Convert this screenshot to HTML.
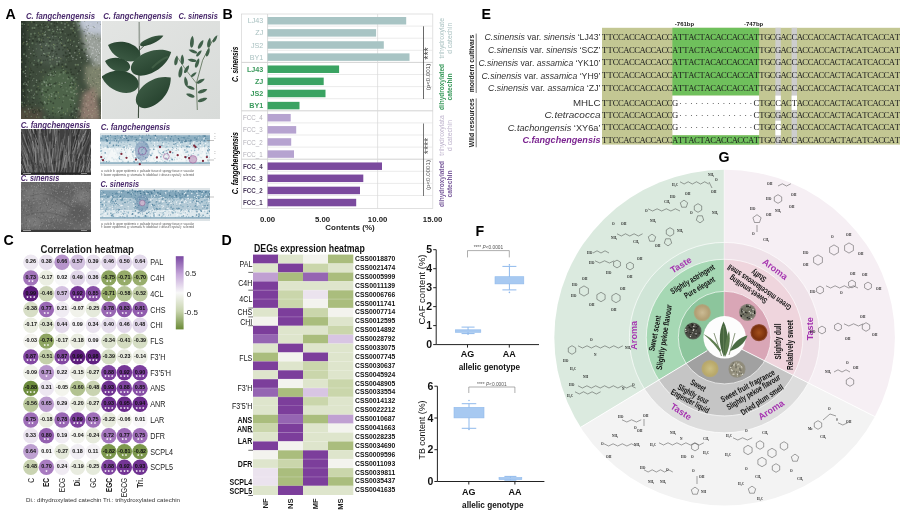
<!DOCTYPE html>
<html><head><meta charset="utf-8"><title>Figure</title>
<style>
html,body{margin:0;padding:0;background:#fff;}
#fig{position:relative;width:900px;height:511px;overflow:hidden;background:#fff;font-family:"Liberation Sans", "DejaVu Sans", sans-serif;}
#fig svg{display:block;}
</style></head><body>
<div id="fig">
<svg style="position:absolute;left:20.5px;top:21px" width="80.5" height="98" viewBox="0 0 80.5 98">
<defs><filter id="tb" x="-20%" y="-20%" width="140%" height="140%"><feGaussianBlur stdDeviation="2.5"/></filter></defs>
<rect width="80.5" height="98" fill="#3e4b3c"/>
<g filter="url(#tb)">
<rect x="-5" y="-5" width="10" height="110" fill="#2c3429"/>
<ellipse cx="38" cy="72" rx="19" ry="24" fill="#4d6449"/>
<ellipse cx="30" cy="30" rx="16" ry="15" fill="#48574a"/>
<polygon points="55,-5 90,-5 90,15 72,17 60,9" fill="#bfc6d3"/>
<polygon points="60,12 90,14 90,44 74,46 64,30" fill="#9aa09a"/>
<polygon points="64,44 90,44 90,78 74,76 64,60" fill="#7c826c"/>
<polygon points="62,72 74,66 80,100 58,100" fill="#8e7a6e"/>
<rect x="-5" y="88" width="26" height="16" fill="#4f4c3e"/>
</g>
<path d="M26.1 14.8h0M33.7 23.6h0M4.0 21.7h0M33.4 35.2h0M45.6 52.6h0M59.6 46.9h0M61.0 29.2h0M51.2 60.1h0M38.6 64.0h0M41.6 81.1h0M12.1 13.9h0M63.1 10.4h0M26.2 95.4h0M41.7 29.0h0M7.1 25.5h0M50.0 4.2h0M40.5 19.7h0M31.7 29.4h0M42.2 49.4h0M0.3 78.2h0M52.4 67.9h0M21.6 20.6h0M41.0 86.9h0M5.2 38.2h0M22.6 5.1h0M20.1 26.0h0M53.8 11.7h0M10.1 49.3h0M34.8 30.6h0M37.7 44.0h0M8.8 61.1h0M48.0 40.7h0M31.7 88.0h0M14.9 91.7h0M15.5 35.7h0M29.2 32.8h0M23.9 70.7h0M26.3 38.8h0M3.0 0.4h0M36.2 25.5h0M8.5 58.4h0M3.1 71.8h0M53.5 15.1h0M11.7 27.8h0M8.8 48.1h0M25.3 59.5h0M45.5 4.1h0M3.3 55.1h0M6.6 71.9h0M2.1 6.5h0M12.8 1.4h0M1.0 54.0h0M13.7 88.7h0M47.5 35.6h0M2.8 83.1h0M8.0 9.6h0M42.1 28.3h0M42.8 73.9h0M21.5 74.0h0M35.0 19.2h0M19.5 39.2h0M50.0 40.1h0M20.2 21.4h0M41.8 9.9h0M42.0 40.2h0M24.4 39.2h0M37.7 28.8h0M11.3 81.5h0M14.9 44.3h0M19.8 16.1h0M41.1 47.5h0M49.6 61.4h0M33.9 9.9h0M1.6 55.5h0M1.1 37.9h0M0.8 65.6h0M37.8 16.3h0M12.2 81.6h0M30.3 67.1h0M21.6 15.4h0M23.2 13.8h0M16.1 73.5h0M48.1 33.8h0M34.3 92.8h0M20.6 34.5h0M4.5 14.2h0M54.5 29.3h0M30.0 73.4h0M15.0 42.7h0M22.3 17.7h0M14.1 13.4h0M7.3 40.1h0M32.7 13.4h0M11.9 56.1h0M55.9 58.5h0M41.6 93.9h0M1.0 34.6h0M41.9 97.0h0M49.6 83.3h0M38.3 76.9h0M30.6 29.4h0M16.4 41.8h0M28.4 97.4h0M11.6 19.5h0M37.6 42.2h0M22.5 2.5h0M44.7 45.8h0M10.1 73.6h0M22.7 39.5h0M44.5 61.7h0M53.9 56.4h0M3.5 83.7h0M33.6 72.9h0M14.0 16.0h0M28.0 9.1h0M11.0 69.3h0M56.8 0.6h0M26.9 79.9h0M52.6 7.7h0M15.0 62.5h0M34.5 52.4h0M42.7 62.1h0M17.8 82.1h0M44.6 22.2h0M10.8 49.3h0M3.8 4.1h0M59.3 92.9h0M1.7 10.8h0M40.4 85.6h0M36.1 22.5h0M63.8 23.3h0M32.6 38.8h0M27.4 90.3h0M59.1 94.4h0M5.9 80.0h0M0.4 26.5h0M1.5 20.6h0M32.3 96.0h0M20.9 59.4h0M38.4 91.5h0M35.0 13.7h0M64.8 14.9h0M7.9 16.5h0M18.9 77.6h0M10.9 58.3h0M58.6 4.7h0M18.0 7.1h0M44.2 30.9h0M47.5 55.9h0M54.8 36.0h0M1.4 19.7h0M5.1 19.9h0M32.0 13.3h0M16.1 90.1h0M4.6 42.5h0M14.5 90.4h0M23.4 64.2h0M54.7 11.2h0M52.9 20.6h0M22.5 29.7h0M16.2 46.1h0M46.6 29.4h0" stroke="#222b20" stroke-width="1.3" stroke-linecap="round" opacity="0.5"/>
<path d="M66.1 9.2h0M75.7 34.8h0M64.9 14.3h0M76.7 13.0h0M67.5 11.8h0M63.6 0.1h0M67.6 23.8h0M78.1 30.5h0M74.7 17.9h0M74.9 36.5h0M72.1 16.5h0M77.8 44.4h0M66.0 24.9h0M63.5 38.4h0M73.1 42.1h0M79.7 18.0h0M70.1 44.9h0M73.2 6.3h0M67.4 4.6h0M67.0 7.6h0M67.2 11.7h0M72.1 5.6h0M76.3 1.8h0M67.2 34.7h0M68.4 27.4h0M80.5 39.3h0M71.2 13.9h0M77.0 17.3h0M65.3 5.9h0M78.0 19.9h0M79.9 3.3h0M64.1 8.5h0M73.4 14.8h0M68.4 12.7h0M77.9 33.7h0" stroke="#5a6452" stroke-width="1.2" stroke-linecap="round" opacity="0.55"/>
<path d="M73.2 21.0h0M66.6 12.1h0M64.1 6.7h0M76.9 35.7h0M67.2 11.8h0M76.7 39.0h0M72.1 26.4h0M78.0 25.7h0M77.7 30.3h0M75.4 1.7h0M80.2 27.3h0M74.2 5.3h0M65.9 40.1h0M72.9 44.7h0M72.1 12.9h0M65.5 17.1h0M70.9 32.2h0M71.2 22.9h0M72.0 32.1h0M69.4 35.9h0M70.3 33.8h0M69.4 18.1h0M79.8 21.7h0M74.5 37.7h0M71.6 43.0h0M78.1 42.3h0M70.2 26.1h0M66.9 36.0h0M78.0 7.0h0M76.5 28.2h0M71.8 29.8h0M65.9 3.0h0M73.8 39.0h0M76.5 23.8h0M66.5 34.4h0M75.4 17.3h0M75.3 34.4h0M66.9 11.2h0M71.7 6.1h0M66.8 38.4h0M66.5 12.0h0M65.7 34.6h0M75.5 30.8h0M69.9 6.6h0M72.4 27.0h0M69.9 2.7h0M66.2 27.7h0M70.7 11.8h0M74.5 28.8h0M68.3 21.1h0M66.3 19.6h0M67.9 13.7h0M69.0 25.2h0M78.4 32.1h0" stroke="#e2e5e8" stroke-width="1.1" stroke-linecap="round" opacity="0.65"/>
<path d="M50.5 92.9h0M49.8 48.6h0M46.2 51.5h0M13.3 33.5h0M3.2 65.5h0M52.1 97.3h0M32.2 18.7h0M9.3 47.8h0M28.6 21.8h0M57.3 19.5h0M63.5 32.6h0M44.8 31.9h0M45.2 74.5h0M55.8 44.3h0M40.9 24.3h0M12.0 90.1h0M7.2 5.6h0M27.3 54.2h0M16.6 43.7h0M1.5 49.6h0M19.8 43.8h0M52.8 53.5h0M1.1 61.3h0M13.1 8.3h0M47.1 51.9h0M53.1 6.5h0M60.9 22.6h0M6.0 8.8h0M57.9 4.8h0M49.5 13.6h0M17.7 88.8h0M10.2 41.7h0M12.4 51.2h0M18.7 90.2h0M4.5 19.0h0M29.8 48.3h0M18.6 21.7h0M25.1 71.1h0M50.8 24.3h0M20.7 73.2h0M32.0 26.6h0M33.6 5.0h0M33.3 1.8h0M13.1 1.5h0M37.5 43.8h0M14.7 15.8h0M9.3 52.0h0M46.5 35.3h0M18.5 60.3h0M24.5 51.3h0M47.9 56.7h0M33.3 50.8h0M24.2 4.8h0M57.6 0.6h0M57.3 26.1h0M55.2 89.9h0M35.2 71.0h0M20.7 27.7h0M38.3 28.2h0M22.8 21.0h0M13.3 92.0h0M58.2 95.5h0M57.7 50.2h0M28.4 62.6h0M18.6 69.0h0M54.6 47.2h0M34.5 62.5h0M53.8 87.6h0M15.9 67.9h0M12.9 31.4h0M49.0 64.5h0M29.7 80.6h0M40.1 51.2h0M61.1 28.7h0M31.3 30.6h0M49.0 31.0h0M29.2 63.2h0M4.9 95.4h0M22.0 83.4h0M27.9 8.3h0M31.0 53.0h0M62.2 22.8h0M64.9 28.4h0M7.6 20.1h0M47.2 20.9h0M32.0 11.8h0M50.8 77.2h0M41.1 43.4h0M28.0 27.6h0M19.7 81.3h0M21.0 82.1h0M31.8 92.2h0M32.3 82.2h0M52.1 11.8h0M6.8 57.8h0M46.5 26.9h0M52.4 19.7h0M15.2 53.5h0M48.8 34.1h0M40.1 94.3h0M8.9 83.5h0M52.2 0.7h0M26.1 82.7h0M2.1 25.1h0M35.4 61.2h0M41.3 10.8h0M28.9 18.3h0M27.0 63.8h0M12.8 34.6h0M43.7 26.5h0M22.6 8.8h0M35.6 33.3h0M39.4 18.6h0M54.5 15.2h0M13.0 43.6h0M6.8 70.3h0M51.9 61.5h0M19.3 4.0h0M30.5 0.4h0M45.7 45.9h0M49.0 29.1h0M50.4 94.1h0M50.0 85.5h0M12.1 91.2h0M35.7 2.4h0M6.0 60.8h0M54.8 29.8h0M26.9 69.0h0M40.6 87.6h0M12.1 20.1h0M47.2 14.1h0M52.1 63.9h0M45.0 35.4h0M42.5 34.4h0M18.6 19.9h0M17.1 5.1h0M33.3 62.9h0M51.0 53.5h0M40.3 96.9h0M32.7 54.7h0M28.6 6.3h0M25.9 35.5h0M29.4 65.0h0M50.1 51.3h0M47.5 30.0h0M34.1 77.6h0M3.4 73.8h0M60.9 37.2h0M8.7 55.2h0M33.4 46.4h0M41.7 0.6h0M4.1 29.8h0M16.1 20.5h0M11.0 86.2h0M40.1 66.0h0M12.2 78.3h0M23.4 34.1h0" stroke="#222b20" stroke-width="2.0" stroke-linecap="round" opacity="0.5"/>
<path d="M23.3 14.1h0M23.2 96.1h0M21.7 68.3h0M1.0 81.4h0M49.7 66.3h0M38.9 8.4h0M13.7 12.4h0M20.3 28.7h0M20.9 41.1h0M42.8 51.3h0M15.4 4.1h0M5.8 23.6h0M44.6 43.2h0M12.7 43.7h0M22.9 60.6h0M51.7 7.6h0M57.4 88.4h0M3.9 90.8h0M33.4 27.6h0M27.5 8.9h0M65.2 19.8h0M30.8 73.1h0M27.2 6.1h0M35.2 74.9h0M29.2 38.8h0M7.1 69.1h0M38.8 53.4h0M57.1 43.8h0M62.8 28.8h0M3.0 33.3h0M50.0 7.6h0M44.1 6.2h0M24.3 82.1h0M12.9 77.0h0M36.0 43.0h0M28.2 74.1h0M55.4 87.8h0M52.6 2.2h0M47.0 57.7h0M36.3 6.2h0M32.4 25.9h0M21.0 63.1h0M23.7 33.0h0M2.5 50.8h0M28.1 32.0h0M53.3 72.7h0M55.5 25.2h0M25.2 61.6h0M52.9 20.6h0M54.0 11.5h0M4.7 45.8h0M42.3 75.5h0M27.5 24.7h0M39.6 11.6h0M32.1 10.6h0M38.3 40.4h0M65.0 27.8h0M29.9 45.4h0M30.4 2.7h0M25.7 22.9h0M33.7 24.2h0M23.6 95.9h0M46.9 19.8h0M29.9 58.3h0M18.0 17.9h0M57.7 4.4h0M40.6 2.0h0M2.8 62.9h0M10.0 12.9h0M35.1 36.9h0M29.2 35.9h0M1.2 2.9h0M50.7 56.9h0M10.5 69.2h0M25.8 64.9h0M57.9 8.6h0M45.9 70.2h0M43.8 24.5h0M29.0 20.2h0M13.5 7.0h0M11.4 22.3h0M15.4 70.8h0M11.5 7.1h0M38.7 63.4h0M54.6 43.8h0M47.4 4.3h0M50.8 71.2h0M17.6 39.2h0M51.5 90.4h0M49.1 78.4h0M39.1 87.3h0M52.8 69.6h0M58.7 0.8h0M33.4 64.6h0" stroke="#73896e" stroke-width="2.0" stroke-linecap="round" opacity="0.7"/>
<path d="M45.1 66.8h0M30.0 53.7h0M39.7 21.4h0M13.4 39.4h0M12.1 17.3h0M13.1 33.3h0M18.3 19.3h0M37.3 72.8h0M44.2 12.8h0M8.4 26.0h0M27.9 1.8h0M32.6 34.1h0M48.2 67.9h0M7.3 80.1h0M30.3 44.2h0M1.0 5.9h0M9.5 87.6h0M29.0 41.9h0M34.4 53.7h0M6.8 76.1h0M39.0 89.2h0M35.6 10.7h0M28.3 93.6h0M3.3 3.4h0M37.1 87.3h0M30.0 72.3h0M15.0 23.1h0M23.6 11.7h0M35.0 15.3h0M30.9 12.1h0M40.6 64.4h0M25.2 0.2h0M20.0 88.5h0M32.7 23.3h0M6.5 64.2h0M51.7 94.6h0M45.5 16.8h0M56.4 3.0h0M30.9 24.2h0M56.7 52.7h0M27.9 81.5h0M37.2 86.7h0M13.0 32.2h0M13.3 64.5h0M17.9 96.1h0M60.3 41.3h0M56.2 34.5h0M13.2 91.1h0M37.8 55.1h0M20.1 9.9h0M29.0 63.4h0M17.2 40.7h0M10.3 95.3h0M61.4 9.9h0M17.1 14.9h0M37.1 91.4h0M57.7 1.1h0M47.4 18.5h0M32.4 50.7h0M20.4 3.7h0M38.7 16.5h0M38.4 61.6h0M25.6 88.5h0M57.3 19.3h0M46.4 88.0h0M42.7 52.7h0M44.7 93.6h0M42.1 68.9h0M47.2 74.6h0M50.6 79.0h0M26.1 31.9h0M23.8 75.7h0M33.5 65.5h0M36.5 1.0h0M33.9 15.3h0M40.6 18.4h0M55.7 1.1h0M12.6 74.4h0M55.1 56.7h0M28.5 16.6h0M15.4 61.2h0M35.4 60.8h0M12.8 57.5h0M1.8 85.1h0M15.4 27.8h0M56.8 9.1h0M47.3 36.1h0M2.3 70.4h0M31.4 8.4h0M7.9 28.6h0M57.4 4.0h0M34.7 74.2h0M40.9 66.3h0M15.3 53.2h0M40.2 15.4h0M45.5 38.8h0M11.0 76.1h0M37.0 11.8h0M26.4 59.1h0M38.9 22.2h0M22.0 49.0h0M1.9 16.1h0M9.8 53.2h0M26.1 88.5h0M24.0 97.4h0M10.9 42.0h0M21.3 6.8h0M7.0 60.8h0M42.5 79.7h0M12.3 64.9h0M9.9 15.1h0M42.3 48.4h0M31.2 45.1h0M32.7 71.3h0M37.5 19.8h0M55.2 15.2h0M3.4 81.9h0M57.9 30.3h0" stroke="#73896e" stroke-width="1.3" stroke-linecap="round" opacity="0.7"/>
<path d="M37.5 90.5h0M16.5 93.3h0M56.0 25.6h0M18.3 50.7h0M34.7 50.5h0M55.4 96.3h0M2.5 13.0h0M40.1 85.9h0M2.3 74.6h0M42.2 57.1h0M31.5 15.7h0M51.9 38.3h0M7.2 61.0h0M4.4 49.4h0M49.6 23.3h0M8.6 91.0h0M11.4 59.2h0M51.3 24.7h0M12.3 29.7h0M54.9 91.3h0M32.1 54.3h0M24.9 5.6h0M14.7 83.3h0M6.0 95.3h0M8.8 18.4h0M33.2 10.1h0M8.0 36.7h0M25.6 76.2h0M24.5 10.8h0M30.5 63.4h0M44.7 92.4h0M13.5 73.1h0M29.1 51.8h0M49.4 71.0h0M28.8 35.4h0M52.8 75.9h0M32.9 54.5h0M32.1 31.2h0M31.2 37.8h0M49.3 66.4h0M54.0 72.6h0M4.0 61.4h0" stroke="#a9b3a7" stroke-width="1.0" stroke-linecap="round" opacity="0.6"/>
<path d="M63.9 68.5h0M57.7 86.9h0M66.0 84.7h0M70.2 81.0h0M74.3 87.5h0M63.1 87.9h0M57.6 64.7h0M71.1 94.8h0M79.7 81.6h0M73.4 80.3h0M78.3 53.6h0M59.1 79.6h0M55.0 67.9h0M65.1 82.9h0M55.7 66.2h0M77.9 48.0h0M59.5 49.5h0M80.3 91.3h0M71.1 96.8h0M67.7 89.6h0M77.0 89.8h0M63.5 91.2h0M76.0 73.1h0M56.1 72.2h0M66.4 61.9h0M67.0 89.0h0M72.8 77.6h0M80.5 66.2h0M60.2 68.1h0M70.0 71.1h0M74.5 57.5h0M73.5 78.3h0M65.6 83.1h0M70.1 65.0h0M55.7 73.2h0M69.2 92.9h0M72.4 80.0h0M64.8 74.3h0M67.2 76.1h0M78.4 66.7h0M62.3 82.3h0M67.5 57.0h0M67.3 57.7h0M80.3 74.6h0M69.6 63.5h0M75.7 85.6h0M65.5 46.8h0M76.1 61.5h0M71.0 96.0h0M67.6 93.8h0M72.3 62.2h0M74.4 75.0h0M67.7 84.1h0M64.3 74.4h0M64.6 52.4h0M71.6 89.5h0" stroke="#b8ac9c" stroke-width="1.1" stroke-linecap="round" opacity="0.6"/>
<path d="M27.4 34.3h0M32.0 89.8h0M32.0 38.6h0M42.4 91.5h0M21.8 12.7h0M5.4 84.6h0M0.1 37.4h0M50.4 66.7h0M39.8 37.5h0M41.6 45.5h0M0.3 48.2h0M32.7 23.4h0M16.7 88.8h0M6.5 22.3h0M2.0 22.9h0M20.2 42.1h0M6.8 9.4h0M52.3 9.9h0M32.7 86.5h0M49.5 19.2h0M15.6 96.2h0M53.6 95.9h0M46.3 28.1h0M0.4 48.1h0M64.1 18.1h0M22.6 86.8h0M1.0 83.7h0M54.7 62.9h0M20.1 41.5h0M1.1 41.0h0M18.9 13.7h0M17.1 65.4h0M46.3 90.0h0M17.6 11.9h0M22.2 55.8h0M38.4 76.3h0M59.3 17.7h0M26.9 16.4h0M20.2 51.0h0M6.1 92.9h0M48.5 94.1h0M40.6 22.3h0M2.0 69.0h0M8.8 47.9h0M7.2 3.9h0M42.7 24.7h0M20.5 18.9h0M58.5 32.5h0M28.7 75.9h0M10.6 0.9h0M27.7 78.5h0M20.3 25.7h0M3.7 75.8h0M26.2 4.1h0M38.1 63.4h0M55.9 44.0h0M20.6 26.0h0M46.0 1.5h0M44.7 50.1h0M2.8 21.5h0M37.4 71.4h0" stroke="#8a9a62" stroke-width="1.3" stroke-linecap="round" opacity="0.5"/>
<path d="M0.3 41.1h0M5.7 20.4h0M15.6 59.3h0M36.0 40.8h0M28.7 9.0h0M24.3 13.8h0M9.7 32.5h0M7.5 87.9h0M44.0 2.9h0M30.6 75.3h0M21.1 70.2h0M48.9 32.1h0M53.8 31.8h0M44.3 61.5h0M24.8 24.4h0M5.4 35.1h0M59.4 36.4h0M23.4 61.3h0M50.5 34.9h0M52.0 36.5h0M28.8 64.1h0M53.6 82.4h0M23.6 81.1h0M21.9 74.0h0M37.9 36.4h0M19.2 23.3h0M58.2 28.7h0M55.2 38.2h0M57.8 21.7h0M31.9 35.6h0M8.2 70.4h0M29.7 54.0h0M51.0 62.2h0M41.0 62.3h0M47.1 29.8h0M25.5 64.1h0M52.9 59.0h0M5.3 63.3h0M4.8 55.3h0M22.7 32.4h0M27.6 53.5h0M36.5 8.6h0M52.2 79.5h0M41.9 8.5h0M4.2 52.6h0M52.9 4.9h0" stroke="#a9b3a7" stroke-width="1.5" stroke-linecap="round" opacity="0.6"/>
<path d="M76.7 67.7h0M76.9 59.0h0M79.7 77.4h0M78.9 64.4h0M75.0 61.6h0M61.5 70.6h0M66.0 94.9h0M62.2 76.9h0M74.9 91.0h0M77.5 61.4h0M77.0 93.5h0M63.1 58.4h0M67.3 79.4h0M77.6 47.1h0M71.8 73.0h0M72.5 49.1h0M80.0 94.2h0M59.9 90.4h0M71.3 51.1h0M73.6 87.4h0M67.7 89.8h0M76.8 48.5h0M67.6 59.8h0M74.1 75.8h0M80.4 50.7h0M70.8 94.5h0M70.1 87.8h0M72.9 92.6h0M59.2 89.1h0M62.5 96.8h0M74.6 51.8h0M74.1 70.3h0M78.7 83.5h0M62.6 70.1h0" stroke="#9aa07e" stroke-width="1.2" stroke-linecap="round" opacity="0.6"/>
<path d="M64.9 80.2h0M72.3 64.9h0M62.5 59.6h0M79.3 77.3h0M66.5 57.2h0M55.0 75.2h0M59.4 80.6h0M72.8 60.8h0M79.2 57.4h0M73.1 61.8h0M67.6 68.4h0M70.8 74.1h0M73.3 75.4h0M63.4 68.3h0M79.2 77.9h0M75.1 71.5h0M62.8 46.0h0M66.6 88.8h0M71.7 59.6h0M74.3 48.3h0M57.1 63.4h0M71.6 71.6h0M62.5 91.8h0M65.1 86.7h0M59.5 72.8h0M66.1 97.0h0M71.7 57.1h0M64.4 67.7h0M78.4 94.3h0M68.5 66.6h0M77.3 55.2h0M67.9 94.8h0M62.1 85.5h0M58.5 54.0h0M70.1 83.9h0M79.1 48.9h0M78.1 83.6h0M79.8 80.9h0M75.3 63.0h0M69.5 53.9h0M70.4 78.1h0" stroke="#4a5240" stroke-width="1.3" stroke-linecap="round" opacity="0.5"/>
</svg>
<svg style="position:absolute;left:102px;top:21px" width="118" height="98" viewBox="102 21 118 98">
<defs><linearGradient id="lpg" x1="0" y1="0" x2="1" y2="1"><stop offset="0" stop-color="#e3e5e3"/><stop offset="1" stop-color="#d8dbd9"/></linearGradient><linearGradient id="lfg" x1="0" y1="0" x2="0" y2="1"><stop offset="0" stop-color="#3a5842"/><stop offset="1" stop-color="#284430"/></linearGradient></defs>
<rect x="102" y="21" width="118" height="98" fill="url(#lpg)"/>
<path d="M139.2 22 L139.4 46" stroke="#9aa29a" stroke-width="1.6" fill="none"/>
<path d="M139.4 46 L138.4 118" stroke="#3f4f40" stroke-width="1.1" fill="none"/>
<path d="M139.6 50 L150 40" stroke="#3a4a3a" stroke-width="0.9" fill="none"/>
<path d="M-17 0 C-17.0 -10.0 5.9 -13.7 17 0 C5.9 13.7 -17.0 10.0 -17 0Z" transform="translate(124 50.8) rotate(200)" fill="url(#lfg)"/>
<path d="M-12.5 0 C-12.5 -3.6 4.4 -4.9 12.5 0 C4.4 4.9 -12.5 3.6 -12.5 0Z" transform="translate(151.8 40.5) rotate(-22)" fill="url(#lfg)"/>
<path d="M-13 0 C-13.0 -7.6 4.5 -10.4 13 0 C4.5 10.4 -13.0 7.6 -13 0Z" transform="translate(117.5 64.5) rotate(196)" fill="url(#lfg)"/>
<path d="M-22 0 C-22.0 -11.7 7.7 -16.0 22 0 C7.7 16.0 -22.0 11.7 -22 0Z" transform="translate(151.4 61.6) rotate(-26)" fill="url(#lfg)"/>
<path d="M-19 0 C-19.0 -11.9 6.6 -16.2 19 0 C6.6 16.2 -19.0 11.9 -19 0Z" transform="translate(120 81.2) rotate(194)" fill="url(#lfg)"/>
<path d="M-21.5 0 C-21.5 -12.6 7.5 -17.3 21.5 0 C7.5 17.3 -21.5 12.6 -21.5 0Z" transform="translate(154.3 91.4) rotate(-40)" fill="url(#lfg)"/>
<path d="M152 68 C158 62 164 58 168 57" stroke="#4c6a50" stroke-width="2" fill="none" opacity="0.6"/>
<path d="M197.3 110 L196.4 83.2 L202.6 60.3 L212.3 40.9 L217.6 35.6" stroke="#556b50" stroke-width="0.8" fill="none"/>
<path d="M196.4 83.2 L186 70 L177 56.7" stroke="#556b50" stroke-width="0.7" fill="none"/>
<path d="M-6 0 C-6.0 -2.1 2.1 -2.9 6 0 C2.1 2.9 -6.0 2.1 -6 0Z" transform="translate(192 41.7) rotate(-85)" fill="#40604a"/>
<path d="M-5 0 C-5.0 -1.9 1.8 -2.6 5 0 C1.8 2.6 -5.0 1.9 -5 0Z" transform="translate(200.8 44.4) rotate(-60)" fill="#40604a"/>
<path d="M-5 0 C-5.0 -1.9 1.8 -2.6 5 0 C1.8 2.6 -5.0 1.9 -5 0Z" transform="translate(209.1 42.6) rotate(-80)" fill="#40604a"/>
<path d="M-4 0 C-4.0 -1.5 1.4 -2.1 4 0 C1.4 2.1 -4.0 1.5 -4 0Z" transform="translate(215 39) rotate(-60)" fill="#40604a"/>
<path d="M-4.5 0 C-4.5 -1.7 1.6 -2.3 4.5 0 C1.6 2.3 -4.5 1.7 -4.5 0Z" transform="translate(192.9 51.4) rotate(200)" fill="#40604a"/>
<path d="M-4 0 C-4.0 -1.6 1.4 -2.2 4 0 C1.4 2.2 -4.0 1.6 -4 0Z" transform="translate(199 53.2) rotate(-50)" fill="#40604a"/>
<path d="M-4.5 0 C-4.5 -1.7 1.6 -2.3 4.5 0 C1.6 2.3 -4.5 1.7 -4.5 0Z" transform="translate(207.9 52.3) rotate(-70)" fill="#40604a"/>
<path d="M-5 0 C-5.0 -1.9 1.8 -2.6 5 0 C1.8 2.6 -5.0 1.9 -5 0Z" transform="translate(176.2 60.3) rotate(-80)" fill="#40604a"/>
<path d="M-5 0 C-5.0 -1.9 1.8 -2.6 5 0 C1.8 2.6 -5.0 1.9 -5 0Z" transform="translate(182.3 59.4) rotate(-90)" fill="#40604a"/>
<path d="M-6 0 C-6.0 -2.1 2.1 -2.9 6 0 C2.1 2.9 -6.0 2.1 -6 0Z" transform="translate(180.6 71.7) rotate(-80)" fill="#40604a"/>
<path d="M-4.5 0 C-4.5 -1.8 1.6 -2.5 4.5 0 C1.6 2.5 -4.5 1.8 -4.5 0Z" transform="translate(186.7 69.1) rotate(-60)" fill="#40604a"/>
<path d="M-4.5 0 C-4.5 -1.7 1.6 -2.3 4.5 0 C1.6 2.3 -4.5 1.7 -4.5 0Z" transform="translate(192 60.3) rotate(190)" fill="#40604a"/>
<path d="M-5 0 C-5.0 -1.9 1.8 -2.6 5 0 C1.8 2.6 -5.0 1.9 -5 0Z" transform="translate(197.3 62.9) rotate(-70)" fill="#40604a"/>
<path d="M-5 0 C-5.0 -1.9 1.8 -2.6 5 0 C1.8 2.6 -5.0 1.9 -5 0Z" transform="translate(185.9 81.4) rotate(-100)" fill="#40604a"/>
<path d="M-4.5 0 C-4.5 -1.8 1.6 -2.5 4.5 0 C1.6 2.5 -4.5 1.8 -4.5 0Z" transform="translate(200.8 81) rotate(-30)" fill="#40604a"/>
<path d="M-4.5 0 C-4.5 -1.8 1.6 -2.5 4.5 0 C1.6 2.5 -4.5 1.8 -4.5 0Z" transform="translate(190.3 87.6) rotate(200)" fill="#40604a"/>
<path d="M-5 0 C-5.0 -1.9 1.8 -2.6 5 0 C1.8 2.6 -5.0 1.9 -5 0Z" transform="translate(202.6 91.1) rotate(-20)" fill="#40604a"/>
<path d="M-4.5 0 C-4.5 -1.8 1.6 -2.5 4.5 0 C1.6 2.5 -4.5 1.8 -4.5 0Z" transform="translate(190.3 95.5) rotate(200)" fill="#40604a"/>
<path d="M-5 0 C-5.0 -1.9 1.8 -2.6 5 0 C1.8 2.6 -5.0 1.9 -5 0Z" transform="translate(202.6 99.9) rotate(-20)" fill="#40604a"/>
<path d="M-3.5 0 C-3.5 -1.4 1.2 -2.0 3.5 0 C1.2 2.0 -3.5 1.4 -3.5 0Z" transform="translate(193.8 74.4) rotate(-40)" fill="#40604a"/>
</svg>
<svg style="position:absolute;left:20.7px;top:129px" width="70" height="45.7" viewBox="0 0 70 45.7">
<rect width="70" height="45.7" fill="#404040"/>
<path d="M33.5 19.0l-2.8 -15.6M42.2 10.5l3.7 -14.6M-3.6 28.2l-5.2 -8.8M49.1 52.4l6.3 -18.3M5.2 23.3l-3.8 -23.1M54.0 44.6l3.8 -12.7M67.3 43.9l7.5 -17.6M59.0 9.4l1.2 -18.2M47.2 27.3l4.4 -19.5M65.4 45.8l2.3 -18.4M68.7 1.7l9.5 -18.0M4.3 4.1l-3.5 -12.1M72.1 35.5l6.6 -13.5M58.7 57.2l7.1 -20.4M65.2 33.3l3.4 -14.7M71.7 44.5l7.2 -18.8M14.4 8.1l-9.8 -22.8M56.4 43.5l0.4 -15.4M13.2 54.7l-4.9 -13.4M25.3 16.8l-0.1 -16.4M48.4 42.9l-0.4 -15.1M41.6 30.6l-0.7 -22.1M34.1 9.1l1.6 -13.0M51.5 46.7l3.8 -20.8M73.0 1.5l11.5 -20.5" stroke="#303030" stroke-width="0.6" fill="none"/>
<path d="M59.1 41.8l5.7 -16.3M61.7 50.4l1.9 -17.6M51.4 3.6l2.8 -13.7M37.0 19.0l0.7 -11.1M10.8 47.9l-2.8 -12.3M35.1 23.6l2.1 -12.4M66.1 46.4l2.3 -17.1M8.6 51.7l-6.7 -15.6M62.5 13.9l4.0 -24.0M33.8 53.3l-1.0 -24.5M37.7 41.9l-2.2 -14.2M54.6 48.4l1.7 -16.7M72.9 57.4l5.1 -23.8M37.7 45.0l-1.1 -21.6M64.6 6.5l1.8 -19.0M68.2 3.0l7.3 -24.0M13.1 25.2l-0.2 -12.0M54.8 34.4l-0.1 -25.6M51.3 33.8l0.6 -16.7M-3.0 11.7l-2.9 -12.5M12.1 33.4l-6.2 -18.1M59.2 15.5l5.0 -21.9M34.5 31.7l-2.4 -12.4M70.3 52.1l8.7 -24.4M10.0 22.8l-4.9 -17.3M72.2 31.3l5.6 -19.7" stroke="#7a7a7a" stroke-width="0.4" fill="none"/>
<path d="M42.5 26.6l0.8 -10.5M64.6 6.8l5.3 -17.1M12.8 44.6l-3.7 -12.2M51.3 3.9l3.1 -9.5M23.6 48.7l-3.9 -19.5M-3.7 36.3l-5.5 -10.9M32.2 2.5l-0.3 -24.2M25.8 40.4l1.7 -22.7M45.8 53.0l-0.6 -14.2M49.6 15.8l0.1 -22.3M25.9 37.6l-3.9 -18.7M70.6 15.5l7.5 -23.9M22.8 45.4l-4.3 -13.4M28.8 29.6l-4.0 -17.0M58.9 25.4l3.4 -14.0M38.8 45.7l3.3 -14.8M15.9 35.2l-0.7 -19.0M58.4 3.9l6.3 -22.1M5.7 1.3l-4.8 -20.8M29.3 53.9l0.7 -11.4M34.8 56.2l-1.0 -15.2M14.1 3.9l-4.0 -10.0M-3.0 22.1l-4.4 -13.5M38.3 21.7l-0.1 -17.9" stroke="#7a7a7a" stroke-width="0.6" fill="none"/>
<path d="M46.5 7.6l0.9 -19.2M17.5 20.9l-3.8 -24.4M48.1 33.3l2.6 -16.3M-2.8 49.2l-2.0 -11.9M10.9 15.4l-5.7 -16.1M6.3 46.5l-8.6 -18.1M6.9 21.0l-1.7 -16.1M18.2 56.3l-5.6 -22.7M5.6 14.0l-10.9 -23.1M57.5 47.4l7.5 -24.7M42.9 49.9l5.6 -21.1M68.7 15.4l7.8 -22.8M33.6 42.2l-0.4 -13.4M72.7 24.9l5.6 -21.0M38.8 22.3l-2.9 -22.6M14.2 45.6l-1.1 -17.3M51.9 42.3l0.8 -11.8M37.6 49.8l2.5 -13.0M63.9 57.1l6.7 -15.7M40.5 31.0l2.3 -13.3M49.4 51.9l-1.1 -16.9M1.3 54.0l-2.4 -10.1M52.1 21.6l5.4 -15.7M72.5 51.5l13.4 -22.1M68.5 23.0l4.8 -11.8M35.3 14.2l2.9 -14.3M53.2 17.5l-0.4 -24.4" stroke="#2a2a2a" stroke-width="0.8" fill="none"/>
<path d="M47.7 9.5l3.8 -12.1M32.5 9.5l-0.4 -18.6M69.8 6.7l11.2 -22.9M54.5 2.0l0.5 -15.2M8.6 33.2l-3.0 -23.0M24.1 40.4l0.4 -11.1M31.5 19.7l-1.0 -13.0M49.8 55.8l0.2 -11.4M52.4 8.0l1.4 -22.6M57.5 3.9l4.3 -20.8M74.0 26.3l7.3 -11.5M27.7 19.8l-5.5 -20.0M67.4 6.0l2.3 -10.0M50.7 3.3l0.6 -20.9M26.9 30.2l0.6 -14.9M58.7 24.5l2.5 -19.5M1.9 12.1l-9.8 -19.4M70.7 2.7l10.7 -20.8M14.6 2.2l-7.8 -23.5M11.1 38.6l-1.8 -17.8M52.7 13.2l4.4 -18.7M31.3 28.3l-1.6 -10.3M24.2 34.8l-3.2 -12.3M27.6 29.2l1.4 -23.0M13.4 48.9l-0.9 -15.2" stroke="#2a2a2a" stroke-width="0.4" fill="none"/>
<path d="M18.1 32.0l0.2 -25.8M63.6 2.9l3.7 -15.4M65.4 2.9l5.1 -20.0M21.8 15.4l-3.0 -14.4M39.5 25.8l4.5 -21.5M-2.0 31.6l-8.3 -14.3M5.4 25.9l-2.7 -9.8M68.5 9.6l5.2 -11.7M33.3 7.7l1.0 -17.2M0.9 11.9l-1.8 -10.1M69.7 25.4l9.3 -16.7M9.2 37.6l-1.0 -23.8M1.7 4.3l-4.2 -18.4M62.0 4.2l4.2 -10.6M49.6 1.9l5.1 -19.7M47.0 29.6l0.1 -11.9M27.9 55.5l-4.4 -24.0M62.1 50.7l5.3 -11.0M45.9 18.0l0.9 -17.6M74.0 32.4l5.4 -22.1M-0.9 28.7l-8.0 -20.2M5.7 16.4l-5.1 -19.4M17.6 29.0l-3.6 -17.7M9.6 10.7l-5.5 -22.3M39.1 35.3l-2.6 -23.6M19.8 31.5l-6.9 -21.9M-2.8 14.8l-8.7 -19.4M48.0 32.4l0.9 -25.6M12.5 19.4l-4.1 -10.9M14.5 17.6l-4.3 -17.4" stroke="#555555" stroke-width="0.8" fill="none"/>
<path d="M35.1 51.4l1.9 -10.1M32.4 45.5l-3.4 -20.6M25.7 16.6l1.4 -20.3M32.6 50.8l-3.6 -19.4M12.5 3.1l-6.5 -19.6M63.4 12.3l2.0 -11.2M14.2 27.5l-0.2 -18.2M12.8 15.3l-3.8 -9.9M23.7 40.6l-4.1 -16.5M4.4 36.6l-5.3 -12.8M23.6 24.5l-0.5 -15.6M33.2 29.4l1.2 -21.4M65.6 45.8l7.0 -18.7M31.2 50.9l-2.0 -19.5M24.4 38.2l2.7 -25.1M55.7 12.8l6.9 -19.5M62.0 43.2l8.1 -17.1M-2.7 31.6l-6.0 -14.2M0.5 21.7l-9.6 -22.2M-0.4 5.5l-3.7 -16.6M29.9 36.7l-4.9 -24.4M48.9 16.7l-1.3 -19.1M1.9 26.1l-3.3 -9.7M63.9 56.9l1.9 -22.1" stroke="#666666" stroke-width="0.8" fill="none"/>
<path d="M40.5 39.8l2.1 -13.5M73.4 35.8l6.6 -11.8M41.7 46.2l6.2 -23.6M30.7 19.6l3.3 -21.9M-2.5 6.6l-4.1 -24.6M13.7 4.1l-1.1 -11.0M23.8 12.8l0.4 -21.9M8.6 10.4l-3.6 -19.4M69.6 49.6l8.6 -23.1M-2.0 4.7l-4.4 -22.2M25.9 37.7l-1.3 -17.6M26.0 31.6l-4.2 -14.4M72.5 6.4l5.7 -21.2M37.4 22.2l-0.5 -15.9M1.8 44.9l-4.1 -16.7M54.4 11.0l1.2 -16.4M57.2 48.4l2.5 -18.4M36.9 38.7l3.7 -25.2M51.6 20.3l2.5 -10.7M-1.1 10.0l-4.0 -10.1M32.2 45.4l-2.7 -17.1M33.4 3.8l1.3 -20.3M20.4 22.4l-2.6 -20.3M66.6 47.4l1.5 -13.3M65.9 55.3l5.9 -15.1M-3.0 49.7l-8.7 -13.4M57.9 36.5l5.2 -11.7M-3.3 2.2l-8.7 -20.9M42.5 38.6l0.6 -10.0" stroke="#8a8a8a" stroke-width="0.6" fill="none"/>
<path d="M73.9 24.5l4.2 -19.6M11.7 46.6l-3.3 -10.5M43.4 52.2l0.3 -14.9M29.1 3.6l0.7 -20.1M15.0 52.3l-5.6 -15.1M-3.5 4.3l-3.4 -11.3M1.3 22.6l-2.5 -11.0M4.3 12.1l-5.6 -14.6M33.1 31.6l-1.9 -16.1M57.9 26.1l6.0 -16.4M60.3 27.2l0.7 -17.0M44.7 25.2l2.4 -10.8M44.5 52.2l2.5 -22.4M49.7 24.9l-0.5 -12.5M3.8 30.5l-4.5 -10.9M56.1 38.0l2.7 -23.8M16.9 48.8l-0.5 -12.8M8.2 44.1l-6.4 -15.5M41.0 21.9l2.5 -14.5" stroke="#9a9a9a" stroke-width="0.4" fill="none"/>
<path d="M2.6 33.4l-3.7 -13.2M71.8 33.6l7.8 -21.5M21.9 8.7l-2.4 -12.5M42.0 56.7l-0.8 -20.0M22.4 3.8l-2.0 -16.5M35.0 51.8l2.5 -24.3M14.0 32.1l-6.7 -22.1M2.0 51.8l-2.0 -10.1M63.9 24.2l7.6 -16.8M56.0 5.1l1.2 -24.7M53.6 20.3l5.4 -24.0M7.9 49.9l-8.6 -17.1M9.7 22.1l-9.2 -18.9M55.1 15.1l1.0 -19.7M2.3 25.9l-7.7 -13.9M69.6 57.6l6.0 -15.7M42.9 50.5l-0.1 -11.3M24.3 54.8l-1.7 -20.1M71.4 23.4l3.5 -20.9M51.2 49.0l2.0 -13.7M64.8 7.0l5.5 -18.3M15.0 33.9l-6.0 -14.9M23.1 28.0l-0.0 -20.0M-2.7 53.7l-7.0 -11.2M58.5 7.8l1.3 -18.7" stroke="#303030" stroke-width="0.8" fill="none"/>
<path d="M-1.5 45.5l-4.2 -11.6M28.7 34.9l-2.2 -17.2M10.6 51.3l-3.6 -16.1M37.5 30.1l4.0 -20.3M22.4 32.3l-0.1 -17.4M55.1 6.0l7.1 -24.6M59.9 45.6l3.7 -13.5M20.3 4.2l-5.6 -16.7M18.7 36.9l-2.3 -20.9M15.8 37.8l-0.7 -16.1M1.3 25.7l-1.3 -10.1M12.9 31.3l-2.0 -16.4M33.7 1.4l3.2 -20.5M8.5 39.5l-5.5 -18.1M67.7 21.4l3.2 -18.4M57.6 45.6l3.8 -10.5M27.7 47.7l-1.2 -12.5M19.9 20.7l-1.0 -22.1M59.6 25.2l8.6 -18.9M26.3 8.6l-0.7 -12.9M8.0 31.1l-4.2 -13.6M15.4 39.4l-8.2 -22.9" stroke="#8a8a8a" stroke-width="0.4" fill="none"/>
<path d="M58.2 44.4l5.2 -12.2M4.1 14.2l-4.4 -18.5M48.7 56.8l5.1 -21.1M49.5 54.1l-1.0 -22.9M45.2 15.2l-0.7 -15.7M17.7 47.0l-0.9 -18.3M22.7 55.4l0.4 -11.5M35.7 36.2l4.0 -22.6M1.9 51.8l-8.3 -17.2M-2.6 39.0l-5.1 -11.5M32.1 19.6l1.0 -21.2M31.1 49.2l-1.8 -24.9M32.7 26.6l2.6 -21.8M35.8 53.8l-2.7 -18.8M17.6 6.6l-4.6 -23.5M55.2 26.3l3.6 -23.5M10.5 30.7l-1.8 -14.3M73.0 22.6l6.0 -11.5M-2.8 13.2l-6.0 -14.1M-2.8 51.4l-3.8 -16.6M23.8 12.1l-0.2 -15.6M56.6 16.9l7.7 -22.5M8.2 9.9l-8.0 -23.0M28.6 35.7l1.0 -22.9M36.5 32.1l1.2 -23.3M5.6 1.0l-2.6 -11.0M3.8 3.7l-5.5 -20.4M35.5 2.2l1.5 -14.0" stroke="#555555" stroke-width="0.6" fill="none"/>
<path d="M34.7 15.0l-1.8 -21.0M19.8 34.7l0.9 -15.7M58.7 55.5l6.4 -13.9M27.4 54.3l1.1 -25.3M35.2 35.8l2.5 -19.4M0.2 31.5l-5.4 -13.6M5.5 37.5l-4.1 -12.7M44.2 37.8l-1.3 -21.8M21.1 43.5l-2.1 -12.5M24.8 49.1l-4.8 -19.8M31.5 38.4l-4.9 -21.7M22.0 53.5l-3.1 -13.9M6.1 26.9l-7.0 -18.6M56.1 25.2l1.8 -11.2M44.2 22.8l3.9 -14.0M47.1 32.8l2.5 -17.2M12.6 24.0l-5.1 -16.8M66.1 27.1l8.0 -23.6M36.2 38.2l-2.2 -21.9M-0.7 31.5l-7.3 -21.6M68.3 46.8l4.4 -21.3M21.4 31.8l-2.6 -20.1M73.2 51.2l5.9 -10.5" stroke="#7a7a7a" stroke-width="0.8" fill="none"/>
<path d="M57.2 50.2l5.8 -13.6M14.7 33.9l-0.7 -19.0M64.8 55.4l3.1 -14.6M6.5 43.5l-4.3 -13.4M33.7 17.0l4.5 -24.6M28.8 4.5l2.4 -19.2M6.2 57.6l-4.6 -12.1M60.1 13.4l4.9 -11.8M44.9 39.1l0.4 -16.4M40.5 42.0l4.0 -16.0M7.6 43.9l-1.8 -19.1M16.8 56.3l-3.0 -11.0M4.6 46.0l-4.4 -11.2M57.6 16.4l0.3 -10.6M56.9 29.9l5.3 -12.9M13.2 22.4l-3.9 -23.2M-2.0 19.4l-5.6 -9.5M16.6 20.1l-3.2 -11.5M-3.8 17.1l-4.5 -15.5M30.4 33.8l2.2 -14.8M61.9 38.6l1.4 -12.6M15.7 1.4l-1.1 -11.5M21.9 31.3l-2.4 -24.7" stroke="#9a9a9a" stroke-width="0.8" fill="none"/>
<path d="M56.4 19.8l6.1 -14.8M10.6 53.0l-0.5 -18.1M71.0 10.8l7.6 -12.9M35.6 12.1l-2.7 -13.8M62.0 1.6l1.9 -16.0M17.4 14.4l-6.0 -15.5M4.6 54.5l-7.2 -16.9M17.4 24.0l1.0 -24.5M70.8 45.3l4.2 -13.1M24.1 38.3l-5.7 -21.5M37.6 41.8l1.2 -10.4M71.2 3.0l6.5 -13.1M69.3 41.6l3.4 -15.8M49.2 38.1l-0.8 -10.9M28.0 36.7l1.0 -24.2M66.5 9.5l7.0 -21.4M66.0 32.3l3.7 -16.2M8.6 23.7l-6.6 -18.8M69.7 27.2l4.8 -12.3M8.6 51.6l-0.6 -13.0M19.3 3.8l-0.5 -14.1M10.5 7.9l-8.9 -21.3M29.7 53.7l-0.5 -11.7M-0.5 7.1l-6.5 -22.7M6.3 31.4l-6.4 -15.6M52.7 7.3l3.0 -15.4M30.4 57.3l-0.7 -11.4M57.9 8.0l4.6 -18.3M10.2 0.0l-8.6 -23.2M-1.7 26.5l-4.8 -18.2" stroke="#8a8a8a" stroke-width="0.8" fill="none"/>
<path d="M48.4 45.7l6.1 -19.7M12.9 36.2l-0.7 -16.0M21.0 25.3l-2.7 -11.4M3.8 21.8l-6.1 -14.7M22.2 30.1l-2.4 -14.9M38.3 52.6l4.0 -22.3M10.3 27.7l-0.7 -17.0M62.4 49.5l3.7 -13.7M22.1 15.4l-4.9 -20.1M73.3 53.1l4.2 -10.8M68.8 47.0l3.1 -17.3M3.0 26.6l-4.5 -13.0M-3.8 5.4l-4.8 -10.4M8.6 38.2l-5.6 -19.9M25.6 11.5l-0.0 -17.7M16.9 22.8l-2.0 -10.0M47.7 54.1l2.2 -22.3M34.5 19.3l5.1 -24.7" stroke="#666666" stroke-width="0.6" fill="none"/>
<path d="M34.5 39.9l1.6 -10.2M3.5 34.8l-3.8 -22.9M27.2 28.8l1.2 -15.3M54.3 54.7l6.8 -23.8M40.2 43.0l2.0 -13.4M72.2 31.5l2.9 -15.4M36.6 26.3l1.0 -16.5M19.6 23.6l-3.6 -20.7M-0.7 49.5l-5.7 -19.7M2.7 14.4l-5.5 -11.5M18.9 18.8l-3.9 -13.2M49.5 27.5l-0.6 -15.0M58.6 1.6l6.4 -17.1M64.9 57.3l4.0 -16.5M68.5 11.6l3.7 -14.4M35.4 52.0l2.2 -23.5M19.3 32.0l-1.1 -20.6M13.1 46.2l-2.3 -12.3M36.2 0.3l-0.6 -22.8M48.3 20.8l0.9 -19.7M18.4 5.8l-1.6 -13.0M3.5 28.7l-3.4 -17.1M16.2 26.2l-2.7 -13.6M5.9 39.6l-5.2 -20.5M64.0 41.4l2.7 -11.5M63.7 25.3l3.3 -16.4M4.9 18.5l-5.6 -10.6M35.6 16.7l0.3 -21.2M24.6 56.8l-5.1 -19.6M43.7 1.9l6.9 -24.0M5.4 9.2l-5.4 -13.7M28.3 43.5l-5.3 -23.2M58.3 5.1l2.3 -10.2M73.4 26.9l6.0 -22.6" stroke="#555555" stroke-width="0.4" fill="none"/>
<path d="M25.7 55.6l-0.2 -21.4M73.3 17.6l2.5 -10.4M24.4 51.0l-4.9 -17.1M62.3 48.9l2.4 -11.4M10.0 54.4l-2.6 -16.9M36.8 6.4l2.0 -13.8M11.5 3.8l-3.7 -9.7M0.1 56.2l-2.2 -11.9M9.2 10.0l-6.1 -21.4M13.8 18.3l-0.4 -24.1M52.2 43.2l5.4 -20.7M25.6 6.5l-2.3 -25.4M14.8 5.3l-4.2 -17.1M47.6 5.8l2.2 -16.4M24.8 15.6l-0.2 -17.8M17.1 55.0l-5.8 -17.2M61.7 18.2l9.2 -21.0M11.4 11.9l-1.2 -14.0M59.6 31.9l1.1 -19.6M51.8 54.2l7.3 -22.2" stroke="#2a2a2a" stroke-width="0.6" fill="none"/>
<path d="M26.1 55.6l-3.0 -14.0M65.9 41.1l7.5 -21.1M37.9 1.8l-3.8 -22.1M33.1 47.4l-2.2 -11.9M51.7 24.9l4.1 -11.2M0.5 29.4l-7.7 -16.0M14.6 48.3l-0.8 -12.5M32.0 11.4l-0.3 -11.9M54.4 52.8l6.0 -16.8M34.3 43.4l1.5 -10.1M13.0 4.9l-3.7 -12.6M18.3 7.8l0.9 -24.5M15.5 52.7l-0.2 -13.5M-3.7 2.4l-3.3 -15.3M35.7 6.4l0.2 -14.3M47.7 26.7l-0.3 -19.6M16.5 53.3l-2.8 -12.1M34.7 13.2l0.0 -11.8M27.2 22.8l-3.6 -15.8M51.2 33.1l4.7 -22.0M67.9 46.9l4.6 -18.5M70.4 23.9l10.4 -21.2M50.4 55.7l4.3 -23.0M53.1 46.2l0.2 -19.6" stroke="#9a9a9a" stroke-width="0.6" fill="none"/>
<path d="M17.8 30.9l-0.4 -20.6M42.0 34.4l0.9 -10.5M14.9 52.4l-5.2 -12.2M54.1 1.4l7.2 -22.1M51.9 1.8l6.4 -19.9M29.2 19.4l-2.3 -10.8M43.9 9.6l-0.1 -25.2M63.2 26.6l2.2 -15.0M34.0 6.3l-0.2 -18.9M9.2 4.2l-1.1 -21.2M65.5 16.6l8.2 -15.9M39.0 53.2l2.5 -11.2M5.4 49.4l-4.8 -14.4M22.3 6.3l-0.5 -22.7M22.4 24.1l-4.5 -24.9M36.8 17.3l-0.8 -25.5M58.5 10.6l4.8 -19.7" stroke="#666666" stroke-width="0.4" fill="none"/>
<path d="M57.5 48.4l3.5 -11.9M27.2 29.5l-3.7 -19.1M52.8 30.7l3.1 -10.0M67.5 0.1l7.8 -22.3M55.5 8.5l7.6 -18.2M67.5 42.3l10.6 -20.1M65.1 53.1l6.0 -14.0M20.3 15.2l-1.6 -10.6M-2.8 26.5l-8.1 -20.0M46.2 23.8l0.1 -25.3M61.2 37.0l6.7 -19.0M35.1 8.1l4.0 -19.3M59.2 43.8l1.8 -16.2M38.1 19.4l-0.8 -23.1M24.2 3.7l0.7 -11.9M12.3 31.3l-3.8 -24.6M34.1 15.9l-4.5 -24.4M16.3 9.5l-7.1 -23.4M-3.3 24.0l-7.9 -23.1M17.4 43.9l-1.6 -19.8M11.7 56.2l-0.9 -22.6M57.4 11.4l3.3 -21.3M33.1 31.0l-0.3 -17.0M39.0 42.3l2.1 -11.4M67.1 25.4l3.1 -22.0M33.1 18.0l1.7 -15.8M55.3 18.3l2.8 -11.4" stroke="#303030" stroke-width="0.4" fill="none"/>
<rect y="43.5" width="70" height="2.2" fill="#262626"/>
<rect x="2" y="44.1" width="8" height="0.6" fill="#ddd"/><rect x="60" y="44.1" width="6" height="0.6" fill="#ccc"/>
</svg>
<svg style="position:absolute;left:20.7px;top:181.5px" width="70" height="50" viewBox="0 0 70 50">
<defs><filter id="sb" x="-20%" y="-20%" width="140%" height="140%"><feGaussianBlur stdDeviation="2.2"/></filter></defs>
<rect width="70" height="50" fill="#6a6a6a"/>
<g filter="url(#sb)">
<ellipse cx="15" cy="12" rx="12" ry="7" fill="#777"/>
<ellipse cx="45" cy="10" rx="14" ry="6" fill="#606060"/>
<ellipse cx="30" cy="28" rx="16" ry="8" fill="#737373"/>
<ellipse cx="58" cy="32" rx="10" ry="9" fill="#5c5c5c"/>
<ellipse cx="12" cy="40" rx="10" ry="6" fill="#787878"/>
<ellipse cx="40" cy="44" rx="14" ry="5" fill="#646464"/>
<ellipse cx="62" cy="14" rx="8" ry="6" fill="#7a7a7a"/>
</g>
<path d="M1.0 16.0h0M43.0 7.1h0M35.5 7.2h0M48.6 1.0h0M11.3 3.7h0M44.3 18.3h0M37.3 2.1h0M16.1 42.2h0M69.2 19.9h0M17.8 47.5h0M62.0 30.4h0M64.8 44.4h0M24.5 24.9h0M13.1 35.6h0M25.3 3.9h0M47.4 21.3h0M37.0 42.3h0M64.9 18.2h0M69.2 10.8h0M23.0 15.7h0M17.5 46.4h0M48.9 44.2h0M19.7 13.6h0M12.6 43.7h0M11.6 18.6h0M45.5 41.8h0M42.4 22.8h0M28.7 27.9h0M44.9 40.3h0M67.8 40.4h0M30.0 0.1h0M52.1 42.3h0M46.6 0.7h0M69.1 38.7h0M28.6 28.4h0M48.6 16.0h0M4.5 46.5h0M20.9 24.5h0M52.0 24.7h0M40.9 26.0h0M31.5 12.8h0M0.8 30.6h0M8.4 5.3h0M0.3 6.7h0M8.0 11.1h0M22.5 48.0h0M3.1 6.2h0M62.7 16.3h0M20.3 49.7h0M4.3 16.4h0M25.1 19.4h0M1.5 43.1h0M57.9 32.6h0M16.3 31.7h0M38.7 10.0h0M15.0 47.3h0M18.3 45.4h0M37.1 6.4h0M38.0 17.7h0M67.1 10.3h0M14.4 7.6h0M56.4 6.4h0M15.7 40.8h0M50.8 2.1h0M6.5 45.8h0M68.0 44.5h0M69.5 15.2h0M12.3 18.5h0M17.5 20.3h0M14.9 42.6h0M19.5 10.6h0M53.8 24.5h0M15.7 25.7h0M45.7 17.3h0M63.7 4.5h0M29.3 33.4h0M66.7 21.3h0M36.8 1.5h0M50.0 39.9h0M24.6 36.9h0M65.9 22.4h0M21.7 42.4h0M37.1 15.7h0M7.2 46.1h0M27.8 42.9h0M65.6 17.6h0M10.6 49.9h0M16.1 15.5h0M28.8 42.4h0M49.3 14.0h0M52.5 18.8h0M29.7 24.9h0M19.2 7.8h0M17.6 29.9h0M34.5 18.1h0M59.8 27.8h0M43.6 45.7h0M25.6 41.1h0M13.7 37.7h0M38.1 16.7h0M36.8 45.1h0M51.6 39.1h0M69.7 8.8h0M47.1 43.6h0M6.9 44.6h0M10.1 3.2h0M12.0 33.4h0M2.8 32.4h0M69.4 38.6h0" stroke="#8c8c8c" stroke-width="0.6" stroke-linecap="round" opacity="0.9"/>
<path d="M2.2 32.4h0M30.8 44.3h0M62.1 7.7h0M63.2 2.7h0M4.7 20.9h0M15.0 16.3h0M8.7 3.9h0M13.3 48.7h0M0.9 45.0h0M8.4 9.0h0M29.5 31.2h0M7.5 36.2h0M64.5 32.4h0M10.3 13.1h0M27.1 11.7h0M30.8 10.9h0M59.0 22.4h0M63.2 21.3h0M57.6 27.5h0M69.0 41.2h0M3.2 49.1h0M54.7 6.4h0M21.2 6.8h0M22.2 7.3h0M22.5 25.7h0M19.2 44.2h0M2.8 46.4h0M5.3 6.2h0M60.7 11.5h0M63.6 16.5h0M32.3 49.2h0M65.6 5.2h0M29.1 47.2h0M22.4 3.0h0M7.4 37.3h0M34.7 46.5h0M15.9 41.7h0M52.9 17.2h0M1.4 17.0h0M27.7 11.1h0M57.0 34.3h0M29.0 18.0h0M9.3 10.3h0M19.9 45.9h0M35.4 34.5h0M32.8 5.4h0M58.5 4.7h0M43.2 13.2h0M32.4 40.5h0M12.8 29.0h0M34.5 16.3h0M33.5 3.0h0M6.0 24.3h0M47.3 19.1h0M53.4 18.2h0M9.1 43.3h0M28.2 26.0h0M28.8 35.4h0M24.5 30.6h0M68.6 27.1h0M61.8 29.0h0M32.8 2.2h0M51.0 36.1h0M41.5 47.8h0M63.1 40.2h0M59.1 42.3h0M62.2 6.4h0M20.2 18.5h0M6.1 31.1h0M39.9 20.2h0M61.1 7.1h0M34.5 0.2h0M16.0 10.9h0M36.6 16.8h0M5.0 34.8h0M30.2 41.9h0M32.2 3.1h0M28.0 27.7h0M2.0 12.3h0M48.2 25.9h0M32.0 14.5h0M56.5 14.4h0M22.8 13.1h0M55.1 26.7h0M59.2 16.0h0M8.1 25.7h0M41.7 31.5h0M53.2 9.9h0M64.3 39.8h0M56.5 13.3h0M66.5 16.8h0M28.7 31.3h0M33.6 3.4h0M29.2 42.8h0M18.9 45.7h0M41.9 14.9h0M4.1 25.8h0M68.9 4.7h0M61.7 2.1h0" stroke="#7e7e7e" stroke-width="0.6" stroke-linecap="round" opacity="0.9"/>
<path d="M51.3 41.9h0M56.2 8.7h0M63.9 45.3h0M26.3 20.7h0M4.8 25.9h0M44.3 12.0h0M34.9 14.9h0M14.6 31.7h0M65.7 14.2h0M49.0 11.9h0M46.6 11.5h0M19.3 1.5h0M62.8 33.2h0M50.7 22.3h0M65.5 8.8h0M9.6 32.2h0M27.8 39.0h0M49.6 37.3h0M68.9 2.2h0M2.1 18.4h0M59.6 42.9h0M25.5 44.1h0M9.0 30.0h0M31.1 27.0h0M40.6 26.5h0M19.2 2.8h0M21.0 33.7h0M2.8 23.3h0M37.4 3.8h0M13.0 20.6h0M47.6 4.8h0M28.2 29.0h0M25.0 31.0h0M54.6 19.5h0M40.0 38.3h0M33.7 45.5h0M11.3 8.0h0M1.3 41.9h0M46.1 9.8h0M7.4 18.5h0M28.0 19.3h0M45.1 30.8h0M37.8 4.9h0M5.4 8.8h0M0.9 7.5h0M60.1 15.1h0M8.3 46.8h0M61.3 5.3h0M53.8 3.8h0M59.6 28.4h0M66.3 35.8h0M32.0 27.9h0M32.4 35.0h0M60.7 38.3h0M68.3 43.7h0M19.7 21.4h0M14.6 32.4h0M8.5 39.7h0M15.0 17.4h0M2.9 13.6h0M45.4 4.4h0M53.5 13.9h0M69.6 7.8h0M32.9 38.1h0M37.1 33.3h0M43.2 19.4h0M7.4 44.0h0M22.8 6.6h0M49.3 0.8h0M15.2 49.4h0M41.3 24.6h0M51.4 18.6h0M8.8 38.7h0M0.6 41.9h0M11.8 48.0h0M13.3 4.6h0M44.5 37.8h0M8.0 15.0h0M54.4 5.6h0M18.0 21.8h0M69.1 20.0h0M10.4 4.2h0M25.4 43.8h0M29.4 27.1h0M53.3 46.1h0M59.7 18.1h0M18.4 43.8h0M46.0 7.6h0M9.0 0.9h0M36.6 11.4h0M52.7 19.7h0M29.2 35.3h0M3.8 13.5h0M25.6 18.9h0M51.3 49.9h0M49.3 41.4h0M16.7 2.1h0M69.3 39.5h0M38.6 29.0h0M0.6 48.4h0M53.5 34.8h0M40.5 9.4h0M28.8 49.1h0M53.1 7.2h0M12.8 21.3h0M13.9 31.4h0M27.3 43.0h0M54.1 48.3h0M22.1 3.7h0M7.1 28.7h0M37.1 17.3h0M27.4 17.2h0M58.5 23.1h0" stroke="#9a9a9a" stroke-width="1.0" stroke-linecap="round" opacity="0.9"/>
<path d="M65.5 0.9h0M54.5 38.3h0M41.1 21.8h0M61.6 41.8h0M53.2 46.8h0M64.3 41.0h0M60.3 20.2h0M44.7 5.0h0M31.1 43.4h0M33.0 0.0h0M17.6 25.7h0M18.4 17.1h0M14.8 5.8h0M40.5 22.3h0M32.9 46.6h0M30.3 28.0h0M61.0 0.9h0M63.1 25.8h0M31.3 36.3h0M12.1 40.9h0M16.9 49.1h0M32.2 40.6h0M53.2 27.8h0M33.0 23.2h0M23.0 29.1h0M41.8 5.6h0M69.9 26.7h0M24.2 32.1h0M65.3 8.6h0M55.0 20.6h0M69.3 49.9h0M61.7 22.0h0M19.7 17.6h0M8.2 44.5h0M11.7 15.7h0M55.0 9.3h0M12.7 29.1h0M24.9 12.7h0M1.8 44.2h0M5.1 23.5h0M53.5 28.6h0M23.9 46.9h0M69.1 15.5h0M34.5 9.4h0M68.4 27.5h0M13.5 17.4h0M22.2 26.7h0M60.5 18.7h0M0.5 6.2h0M5.9 23.6h0M52.3 0.2h0M36.2 26.9h0M24.5 3.1h0M31.8 7.5h0M52.1 20.5h0M56.4 20.8h0M17.3 34.3h0M1.7 41.9h0M38.4 2.6h0M59.2 0.1h0M13.8 2.1h0M38.3 20.7h0M65.3 50.0h0M13.2 32.5h0M67.8 12.7h0M58.0 2.1h0M53.1 16.6h0M55.4 39.0h0M40.6 29.8h0M8.7 28.0h0M34.3 6.5h0M8.1 41.1h0M37.7 28.4h0M12.2 24.3h0M15.5 4.8h0M50.4 41.9h0M12.6 17.1h0M21.1 33.9h0M7.5 39.7h0M20.2 18.7h0M16.1 15.2h0M56.1 36.1h0M36.3 37.2h0M11.8 32.1h0M9.8 47.9h0M43.4 39.0h0M8.3 16.8h0M68.1 44.2h0M63.9 8.0h0M35.5 22.7h0M36.3 37.3h0M23.4 23.3h0M30.4 11.7h0M30.3 30.9h0M62.7 2.4h0" stroke="#7e7e7e" stroke-width="1.0" stroke-linecap="round" opacity="0.9"/>
<path d="M3.7 6.1h0M58.5 34.1h0M37.9 2.0h0M26.6 46.1h0M35.8 9.5h0M44.9 27.9h0M46.3 40.7h0M69.1 0.5h0M12.1 36.6h0M52.6 7.4h0M36.8 38.7h0M14.5 38.7h0M9.2 20.7h0M29.3 2.9h0M66.8 42.1h0M19.5 4.3h0M30.8 16.2h0M34.7 8.7h0M67.7 36.3h0M28.3 40.0h0M64.1 23.5h0M15.5 11.1h0M13.0 43.0h0M48.7 32.0h0M61.4 12.8h0M6.7 46.0h0M24.4 7.2h0M50.0 49.2h0M52.2 17.8h0M55.4 6.0h0M69.8 19.6h0M6.8 15.6h0M46.4 32.5h0M54.7 11.1h0M32.1 31.3h0M66.3 23.5h0M35.6 30.5h0M21.6 41.7h0M18.4 31.8h0M14.7 45.9h0M4.9 22.6h0M26.5 11.5h0M1.2 17.6h0M45.7 25.0h0M13.5 42.0h0M65.5 24.6h0M33.9 32.9h0M42.3 10.1h0M20.3 27.0h0M29.4 25.3h0M33.4 40.0h0M23.4 1.2h0M40.1 41.4h0M44.2 27.3h0M38.8 0.4h0M47.7 5.5h0M67.1 15.8h0M47.4 20.2h0M65.3 12.6h0M38.2 40.0h0M35.0 42.2h0M36.7 39.1h0M26.7 34.1h0M51.1 20.6h0M27.0 28.6h0M33.2 3.5h0M32.4 35.4h0M51.8 14.8h0M55.6 16.1h0M54.4 7.8h0M62.9 47.0h0M41.0 37.2h0M55.1 38.2h0M51.2 32.8h0M28.2 35.7h0M14.4 43.0h0M61.0 46.5h0M31.9 23.2h0M46.0 11.5h0M48.1 6.7h0M25.5 38.5h0M51.0 32.8h0M53.3 9.7h0M4.7 27.2h0M62.4 16.2h0M8.8 47.3h0M0.9 19.9h0M39.5 38.1h0M31.6 2.6h0M10.2 48.5h0M44.9 33.6h0M60.1 47.0h0M2.8 7.7h0M43.3 7.0h0M28.7 5.7h0M2.1 5.2h0M30.5 11.6h0M7.5 4.1h0" stroke="#8c8c8c" stroke-width="1.0" stroke-linecap="round" opacity="0.9"/>
<path d="M23.1 7.8h0M68.5 6.5h0M49.4 19.6h0M37.2 35.0h0M42.8 31.1h0M6.2 48.9h0M31.2 11.6h0M34.9 28.6h0M34.3 1.8h0M23.1 16.1h0M60.3 6.3h0M23.6 7.5h0M13.1 8.9h0M10.2 25.6h0M60.9 32.8h0M3.0 27.8h0M68.5 5.9h0M30.8 40.7h0M41.1 22.2h0M59.7 49.0h0M68.4 26.3h0M68.7 41.3h0M65.2 12.4h0M39.7 30.5h0M26.0 17.2h0M64.4 5.1h0M34.0 42.4h0M25.7 29.1h0M31.5 11.8h0M55.7 23.5h0M68.4 18.9h0M5.0 5.9h0M14.1 45.1h0M12.3 11.6h0M49.1 26.0h0M43.5 21.0h0M5.3 38.5h0M39.8 22.0h0M35.0 32.7h0M19.3 44.7h0M3.5 8.2h0M9.4 0.5h0M17.3 48.7h0M41.0 5.2h0M12.7 16.6h0M50.0 11.4h0M45.8 7.9h0M30.7 5.7h0M20.6 40.6h0M47.7 34.6h0M66.7 9.5h0M15.3 35.1h0M25.4 23.3h0M10.1 23.5h0M42.7 49.0h0M63.7 30.4h0M48.8 2.8h0M59.3 25.4h0M5.1 40.9h0M48.3 17.0h0M39.0 5.8h0M41.8 24.6h0M40.9 21.2h0M19.4 25.8h0M56.3 16.0h0M14.0 17.0h0M35.5 38.2h0M2.1 42.9h0M1.1 9.6h0M42.4 34.4h0M16.4 28.5h0M29.4 26.4h0M48.7 27.4h0M67.3 48.9h0M17.8 35.5h0M12.2 13.8h0M58.8 32.1h0M7.7 23.1h0M33.9 7.1h0M32.9 40.4h0M64.8 39.7h0M69.1 19.5h0M33.6 10.7h0M22.2 43.3h0M5.8 45.8h0M45.3 33.9h0M27.6 22.9h0M52.9 5.0h0M64.7 47.7h0M65.7 8.5h0M48.1 32.4h0M10.5 48.5h0M35.5 20.5h0M5.4 32.8h0M58.5 30.9h0M53.1 13.8h0M23.1 1.1h0M10.5 28.7h0M48.5 14.9h0M29.0 3.3h0M65.2 34.7h0" stroke="#565656" stroke-width="1.0" stroke-linecap="round" opacity="0.9"/>
<path d="M62.9 9.1h0M31.8 2.6h0M60.5 31.9h0M4.4 22.2h0M20.1 22.3h0M19.2 26.8h0M23.1 19.3h0M12.7 40.8h0M20.8 31.3h0M1.1 46.2h0M29.3 1.7h0M65.7 14.3h0M31.4 41.3h0M7.0 29.4h0M24.5 9.3h0M9.5 47.5h0M7.1 35.3h0M24.7 34.7h0M0.6 23.9h0M65.5 17.0h0M10.2 46.1h0M5.9 33.8h0M31.2 40.9h0M9.9 1.8h0M24.2 10.0h0M47.1 11.7h0M12.9 19.5h0M37.1 17.0h0M48.7 2.2h0M63.0 15.4h0M57.0 23.6h0M60.4 7.5h0M68.9 3.4h0M22.6 32.6h0M51.8 14.4h0M47.5 23.2h0M64.7 27.7h0M32.2 13.8h0M70.0 47.5h0M44.1 22.0h0M10.2 25.3h0M7.6 23.2h0M5.9 3.7h0M51.8 42.4h0M48.3 30.9h0M23.7 41.1h0M29.0 41.4h0M1.0 20.0h0M34.2 8.1h0M56.1 34.3h0M51.4 33.5h0M60.8 12.9h0M20.5 50.0h0M32.5 36.4h0M61.6 6.5h0M52.1 39.1h0M13.8 39.5h0M56.7 39.7h0M31.7 47.8h0M5.5 37.2h0M23.5 3.1h0M11.4 31.9h0M68.6 29.4h0M31.2 22.7h0M47.4 1.0h0M25.6 16.4h0M55.4 9.9h0M56.3 24.7h0M47.6 44.7h0M50.6 35.9h0M50.5 10.9h0M36.0 18.2h0M45.2 41.5h0M65.8 6.7h0M61.4 1.7h0M35.8 32.8h0M65.0 39.6h0M8.2 5.0h0M21.3 44.6h0M43.1 9.3h0M61.1 21.3h0M56.2 41.9h0M9.5 29.8h0M27.9 49.4h0M28.5 19.1h0M18.8 36.2h0M46.9 21.9h0M19.7 18.2h0M47.2 32.9h0M26.9 47.8h0M58.2 29.7h0M56.3 1.1h0M58.5 23.4h0M46.7 2.7h0" stroke="#5e5e5e" stroke-width="1.0" stroke-linecap="round" opacity="0.9"/>
<path d="M19.3 12.6h0M46.2 15.4h0M2.6 25.0h0M30.5 32.4h0M66.8 31.6h0M62.4 10.0h0M18.9 17.1h0M34.6 37.8h0M55.2 46.8h0M12.0 15.3h0M49.1 10.6h0M69.9 40.9h0M1.6 28.3h0M22.5 20.4h0M41.8 15.0h0M12.3 48.3h0M60.1 1.2h0M9.0 22.1h0M16.1 4.9h0M26.6 22.4h0M62.8 49.7h0M6.5 42.1h0M48.2 26.0h0M3.4 35.8h0M14.4 36.1h0M4.1 15.1h0M45.5 36.7h0M8.6 25.1h0M0.4 9.2h0M65.5 13.0h0M47.2 28.7h0M19.0 24.3h0M6.9 34.9h0M62.8 28.1h0M25.0 48.2h0M20.2 12.8h0M17.4 3.6h0M31.6 41.8h0M49.3 8.7h0M56.1 10.4h0M34.5 19.2h0M0.8 18.5h0M69.8 0.7h0M4.3 28.1h0M57.7 40.3h0M4.0 7.8h0M51.5 8.1h0M69.4 33.0h0M38.7 47.4h0M36.9 37.7h0M58.5 5.5h0M21.7 37.2h0M51.7 24.6h0M0.5 25.7h0M35.7 28.7h0M52.8 35.6h0M48.1 46.3h0M48.9 43.6h0M27.1 49.5h0M4.3 44.3h0M37.0 35.2h0M44.3 36.8h0M17.5 3.7h0M52.4 1.9h0M51.1 7.9h0M52.9 28.5h0M56.8 7.2h0M5.5 29.5h0M49.8 10.0h0M7.0 17.5h0M66.3 47.5h0M31.0 21.0h0M61.9 5.3h0M46.3 47.4h0M7.1 38.0h0M0.3 1.8h0M10.8 48.9h0M58.8 29.2h0M66.6 43.0h0M52.9 14.2h0M43.3 9.7h0M15.4 5.5h0M31.4 2.6h0M67.2 49.2h0M61.9 37.5h0M35.4 5.8h0M5.4 15.9h0M59.3 49.9h0M27.4 37.7h0M48.4 23.1h0M29.1 7.6h0M62.9 10.8h0M31.0 35.7h0M32.7 8.6h0M19.9 17.8h0M53.2 13.2h0M3.9 17.4h0M16.2 19.4h0M18.6 11.7h0M27.3 16.2h0M32.2 44.1h0M39.7 17.1h0M22.9 38.7h0" stroke="#9a9a9a" stroke-width="0.6" stroke-linecap="round" opacity="0.9"/>
<path d="M9.5 43.0h0M63.6 20.1h0M8.2 19.8h0M34.6 19.8h0M32.8 20.6h0M20.9 3.9h0M20.0 24.6h0M20.8 45.8h0M33.3 16.5h0M19.2 5.9h0M48.2 23.0h0M51.8 10.5h0M21.1 36.5h0M2.6 28.3h0M63.7 45.4h0M67.8 21.2h0M4.8 13.0h0M38.0 14.8h0M31.4 22.3h0M3.6 0.5h0M26.4 44.0h0M38.0 46.0h0M28.6 27.9h0M65.2 32.0h0M23.0 11.1h0M30.6 32.6h0M13.2 49.2h0M5.1 49.6h0M7.0 39.8h0M9.5 13.9h0M34.6 47.6h0M39.2 49.9h0M67.9 38.0h0M23.4 1.8h0M41.6 2.5h0M52.5 21.2h0M51.8 5.2h0M41.9 5.9h0M35.6 23.8h0M49.8 44.8h0M3.7 3.6h0M34.8 12.9h0M50.4 30.1h0M45.8 34.5h0M3.0 20.4h0M63.6 11.7h0M58.7 1.2h0M46.7 24.7h0M26.4 25.6h0M27.2 41.7h0M13.0 35.2h0M18.5 3.8h0M12.0 45.9h0M11.9 16.0h0M4.9 41.8h0M28.9 3.9h0M56.3 21.9h0M19.8 13.7h0M37.8 1.4h0M58.8 28.2h0M35.6 46.2h0M8.5 18.2h0M0.3 26.0h0M53.9 11.4h0M20.0 48.5h0M36.9 40.3h0M29.3 1.1h0M19.1 18.4h0M41.9 16.4h0M47.2 44.3h0M53.3 21.1h0M52.2 29.8h0M53.7 33.4h0M61.8 44.3h0M30.0 24.3h0M8.1 24.3h0M16.1 9.4h0M17.9 1.6h0M30.6 36.4h0M52.2 47.4h0M57.2 11.4h0M25.5 9.1h0M68.1 5.3h0M19.3 37.2h0M23.1 0.8h0" stroke="#565656" stroke-width="0.6" stroke-linecap="round" opacity="0.9"/>
<path d="M6.9 14.1h0M31.0 4.6h0M44.8 43.6h0M61.3 43.7h0M46.7 34.5h0M4.7 27.7h0M53.1 6.7h0M40.1 40.8h0M44.1 32.4h0M46.6 38.2h0M37.0 13.5h0M48.7 24.6h0M38.8 29.8h0M9.0 21.3h0M24.5 40.9h0M0.2 35.5h0M57.5 29.3h0M35.5 7.9h0M48.6 32.8h0M47.6 15.2h0M67.2 0.4h0M39.7 1.4h0M22.5 13.1h0M16.9 5.3h0M22.7 15.8h0M44.1 46.5h0M4.7 48.9h0M36.7 42.8h0M30.4 6.4h0M68.7 10.3h0M21.6 42.4h0M25.6 41.0h0M32.0 10.3h0M44.0 31.0h0M35.0 26.5h0M18.0 7.5h0M60.5 6.2h0M12.7 9.8h0M22.0 30.0h0M37.3 11.2h0M3.7 47.3h0M6.1 1.5h0M30.5 25.5h0M60.7 3.5h0M12.7 46.9h0M29.5 14.8h0M8.2 3.7h0M66.9 48.1h0M43.4 21.8h0M36.0 16.0h0M19.9 9.4h0M0.9 47.9h0M65.2 14.6h0M2.2 0.7h0M6.5 18.7h0M37.8 23.1h0M48.3 5.6h0M49.4 18.1h0M12.2 15.3h0M37.1 1.9h0M18.5 5.6h0M64.2 14.8h0M7.7 20.1h0M47.1 11.6h0M32.2 25.5h0M36.1 39.2h0M15.1 48.0h0M11.2 31.5h0M34.5 35.6h0M3.9 19.7h0M56.9 36.8h0M46.6 4.5h0M15.7 0.6h0M43.1 46.7h0M6.6 6.7h0M68.4 15.2h0M64.5 39.6h0M34.4 30.7h0M41.2 7.9h0M49.0 46.8h0M47.1 33.6h0M10.9 28.4h0M40.9 10.5h0M24.7 11.8h0M0.7 31.2h0M24.1 21.7h0M43.8 24.5h0M23.3 8.2h0M59.3 47.6h0M62.8 42.5h0M35.8 42.4h0M39.1 47.2h0M59.3 20.8h0M28.6 29.7h0M64.6 1.6h0M47.9 26.8h0M41.3 35.1h0M32.1 29.4h0M21.4 28.4h0M37.9 3.4h0M57.2 21.7h0M63.3 4.2h0M0.7 20.3h0" stroke="#5e5e5e" stroke-width="0.6" stroke-linecap="round" opacity="0.9"/>
<path d="M10 14 Q25 8 38 18 T64 28" stroke="#555" stroke-width="1.2" fill="none" opacity="0.45"/>
<path d="M6 33 Q28 26 50 38" stroke="#565656" stroke-width="1.2" fill="none" opacity="0.45"/>
<rect y="47.8" width="70" height="2.2" fill="#3a3a3a"/>
<rect x="2" y="48.4" width="8" height="0.6" fill="#ddd"/><rect x="60" y="48.4" width="6" height="0.6" fill="#ccc"/>
</svg>
<svg style="position:absolute;left:100px;top:132.5px" width="110" height="33.3" viewBox="0 0 110 33.3">
<rect width="110" height="33.3" fill="#e9f0f3"/>
<rect x="0" y="0" width="110" height="2.2" fill="#dfe5e8"/>
<rect x="0" y="2.2" width="110" height="6.5" fill="#8fb0c2"/>
<rect x="0" y="8.7" width="110" height="6" fill="#c4d7e0"/>
<path d="M55.4 3.0h0M101.3 8.6h0M9.5 6.0h0M104.1 3.2h0M9.9 3.1h0M103.1 7.6h0M52.2 8.0h0M96.9 8.3h0" stroke="#e8f0f4" stroke-width="0.7" stroke-linecap="round" opacity="0.9"/>
<path d="M94.6 17.4h0M51.4 22.2h0M108.4 14.4h0M1.5 17.7h0M40.6 22.2h0M66.9 13.8h0M48.1 14.8h0M57.8 12.6h0M58.7 12.7h0M39.5 20.4h0M36.8 11.4h0M32.8 23.0h0M89.8 11.2h0M18.0 27.8h0M104.7 13.1h0M12.7 14.7h0M66.2 29.5h0M60.7 23.9h0M38.8 20.7h0M101.5 20.5h0M79.5 25.4h0M12.9 13.9h0M50.0 16.8h0M86.1 19.2h0M87.6 18.9h0M67.4 26.7h0M72.1 26.1h0M66.6 17.8h0M98.5 11.4h0M21.9 29.7h0M81.3 14.3h0M0.9 18.3h0M91.3 22.2h0" stroke="#8ab0c2" stroke-width="1.6" stroke-linecap="round" opacity="0.9"/>
<path d="M10.4 8.5h0M83.6 5.7h0M25.2 6.4h0M38.4 4.0h0M3.1 8.0h0M65.0 6.1h0M2.8 2.4h0" stroke="#7aa2b8" stroke-width="0.7" stroke-linecap="round" opacity="0.9"/>
<path d="M98.5 11.4h0M27.5 29.5h0M33.1 23.8h0M28.5 15.5h0M109.5 24.3h0M39.6 21.5h0M102.5 24.0h0M73.7 13.9h0M0.6 28.1h0M80.8 21.3h0M14.9 16.1h0M26.1 12.9h0M63.4 29.4h0M95.0 10.0h0M86.1 27.8h0M47.9 13.7h0M18.0 20.1h0M109.7 17.1h0M76.1 17.0h0M59.9 19.9h0M78.1 9.4h0M65.8 9.1h0M92.9 9.0h0M10.8 14.5h0M77.3 24.5h0M69.7 26.1h0M45.3 29.7h0M30.7 29.1h0M45.4 11.6h0" stroke="#8ab0c2" stroke-width="0.7" stroke-linecap="round" opacity="0.9"/>
<path d="M29.2 24.1h0M72.1 25.4h0M81.4 17.5h0M75.1 9.4h0M63.0 21.7h0M20.2 16.3h0M106.2 27.7h0M50.7 20.3h0M36.0 11.0h0M97.2 13.7h0M5.0 25.2h0M78.2 20.0h0M99.4 9.8h0M47.7 11.1h0M40.5 17.4h0M83.1 14.8h0M0.5 9.6h0M50.6 28.3h0M53.8 20.7h0M18.0 14.1h0M95.0 20.5h0M23.2 23.1h0M107.8 11.7h0M30.1 15.2h0M32.1 24.7h0M27.2 21.5h0M14.7 22.8h0M11.9 12.1h0M75.9 19.0h0M78.9 26.0h0M39.2 18.6h0M108.8 26.3h0M98.8 23.4h0M5.5 28.8h0M93.7 17.4h0M24.4 20.8h0M92.2 18.8h0M35.7 19.1h0M24.7 16.2h0M98.0 13.9h0M85.2 21.9h0M78.1 29.8h0M100.9 27.0h0M45.9 12.8h0M97.6 9.7h0M59.7 18.8h0M30.8 21.5h0M22.8 17.2h0M83.1 23.0h0M8.7 29.7h0M60.7 19.1h0M93.0 12.5h0M89.5 23.4h0M56.8 23.2h0M35.5 18.6h0M7.9 22.6h0M66.6 22.1h0M102.7 10.1h0M37.9 20.4h0M27.2 26.8h0M80.1 15.1h0M5.9 10.4h0M94.6 13.9h0M10.4 26.6h0" stroke="#fafcfc" stroke-width="0.7" stroke-linecap="round" opacity="0.9"/>
<path d="M21.0 5.1h0M24.3 5.5h0M100.6 8.5h0M0.3 2.3h0M56.8 4.0h0M29.0 2.9h0M35.1 8.5h0M87.7 5.1h0M58.4 7.3h0M19.0 8.0h0M86.1 6.0h0M108.8 9.0h0M104.1 2.8h0M5.3 3.0h0M97.1 6.2h0M32.2 3.8h0M104.8 3.6h0M20.5 4.6h0M89.0 7.7h0" stroke="#3f6f8c" stroke-width="0.7" stroke-linecap="round" opacity="0.9"/>
<path d="M78.8 17.5h0M92.2 29.5h0M36.2 9.9h0M3.7 29.9h0M97.9 22.0h0M33.7 24.6h0M30.9 19.8h0M52.0 20.1h0M26.7 24.4h0M77.1 9.2h0M82.0 9.1h0M81.7 26.6h0M90.2 10.5h0M27.7 9.0h0M0.9 15.2h0M58.2 18.0h0M88.4 22.1h0M41.6 28.7h0M81.4 22.2h0M0.4 12.0h0M31.8 21.4h0M4.4 25.3h0M43.3 23.3h0" stroke="#6a97b0" stroke-width="1.1" stroke-linecap="round" opacity="0.9"/>
<path d="M32.0 3.7h0M15.9 8.7h0M85.0 8.6h0M1.2 5.4h0M22.8 5.2h0M15.2 5.4h0M96.2 6.2h0M6.0 4.4h0M84.2 4.9h0M68.1 2.9h0M48.7 2.1h0M43.9 8.9h0M71.7 3.6h0M105.8 5.3h0M50.6 5.3h0M82.0 7.9h0M84.0 7.5h0M75.1 2.7h0" stroke="#3f6f8c" stroke-width="1.1" stroke-linecap="round" opacity="0.9"/>
<path d="M37.9 29.4h0M58.2 23.4h0M60.6 20.6h0M34.0 29.1h0M45.7 18.2h0M87.0 17.9h0M53.7 25.6h0M13.4 13.8h0M44.0 14.3h0M59.9 28.8h0M46.6 27.4h0M71.8 26.1h0M45.0 16.4h0M53.1 29.9h0M71.0 25.0h0M68.8 10.6h0M83.5 13.0h0M90.4 11.0h0M75.2 24.5h0M16.9 9.3h0M21.4 9.7h0M24.0 15.1h0M16.9 11.2h0M59.9 13.0h0M76.1 17.4h0M73.2 15.5h0" stroke="#6a97b0" stroke-width="0.7" stroke-linecap="round" opacity="0.9"/>
<path d="M86.3 29.7h0M67.3 13.5h0M11.4 13.8h0M86.6 15.8h0M37.9 24.3h0M40.5 27.7h0M67.1 22.8h0M47.8 11.6h0M103.7 10.4h0M30.0 24.9h0M81.8 23.5h0M25.5 19.2h0M108.9 20.8h0M31.8 14.8h0M7.1 12.5h0M16.2 11.7h0M26.8 14.1h0M37.0 15.1h0M3.3 27.5h0M99.6 23.0h0M62.3 27.8h0M74.8 26.4h0M91.1 9.6h0M22.8 28.4h0M20.8 12.9h0M102.9 18.7h0M31.7 21.3h0M61.1 26.8h0M17.7 23.4h0M42.8 26.0h0M53.8 24.3h0M108.6 28.7h0" stroke="#a8c6d4" stroke-width="1.1" stroke-linecap="round" opacity="0.9"/>
<path d="M54.2 15.9h0M79.7 9.7h0M17.1 16.3h0M36.8 19.8h0M1.6 23.8h0M39.9 12.1h0M91.4 13.9h0M78.8 29.9h0M33.5 24.1h0M2.1 14.1h0M100.6 15.9h0M108.9 15.0h0M101.0 14.3h0M73.2 12.9h0M64.4 20.8h0M57.9 21.6h0M31.5 13.2h0M2.8 28.1h0M18.9 20.0h0M49.2 18.2h0M80.5 11.6h0M66.5 23.7h0M108.4 21.7h0M59.9 24.1h0M27.8 13.3h0M12.1 17.6h0M37.7 19.8h0M17.2 29.0h0M42.3 9.4h0M47.5 16.5h0M105.9 14.3h0M100.9 22.4h0M68.2 12.3h0M57.7 11.9h0M45.5 18.7h0M61.7 18.1h0M38.2 28.3h0M90.5 18.3h0M35.8 19.5h0M14.5 16.6h0M13.7 30.2h0M28.7 12.7h0M0.3 19.9h0M102.7 28.3h0M91.4 11.1h0M95.3 25.2h0M17.1 15.6h0M81.5 24.1h0M103.4 12.0h0M90.6 24.8h0M55.8 28.0h0M57.2 24.9h0M25.6 25.0h0M75.6 28.2h0M64.8 28.8h0M16.0 9.1h0M54.7 17.9h0M86.2 10.0h0M71.2 19.5h0M22.1 16.0h0M50.2 26.1h0M87.0 20.4h0M37.9 22.3h0M69.6 29.7h0M62.4 29.2h0M77.6 28.3h0M97.4 15.9h0M108.3 14.5h0" stroke="#fafcfc" stroke-width="1.1" stroke-linecap="round" opacity="0.9"/>
<path d="M31.2 25.5h0M47.2 11.0h0M74.4 27.0h0M16.8 26.7h0M10.3 9.4h0M38.7 18.6h0M68.1 17.3h0M39.6 14.1h0M82.1 12.5h0M47.6 21.3h0M93.8 24.5h0M51.1 10.1h0M8.7 29.6h0M4.0 28.4h0M54.5 22.7h0M93.2 20.6h0M26.3 25.8h0M108.6 15.6h0M21.1 18.7h0M66.6 9.3h0M78.5 17.5h0M21.7 16.2h0M35.1 15.5h0M69.9 17.4h0M29.2 23.4h0M35.3 16.9h0M46.8 17.3h0M98.9 15.8h0" stroke="#8ab0c2" stroke-width="1.1" stroke-linecap="round" opacity="0.9"/>
<path d="M51.7 9.0h0M24.4 4.0h0M85.0 8.0h0M98.4 4.8h0M104.6 4.7h0M84.2 7.6h0M83.2 3.9h0M18.3 6.9h0M34.0 7.6h0M23.4 3.2h0M11.9 6.0h0M1.1 3.8h0M60.8 6.7h0M15.6 7.8h0M22.7 5.5h0M57.8 5.7h0M48.8 6.6h0" stroke="#e8f0f4" stroke-width="1.1" stroke-linecap="round" opacity="0.9"/>
<path d="M17.5 2.7h0M78.9 3.2h0M104.2 8.5h0M18.5 8.4h0M2.3 5.9h0M99.3 3.0h0M50.6 8.0h0M37.9 5.3h0M81.9 8.5h0M91.4 7.9h0M65.7 4.6h0" stroke="#7aa2b8" stroke-width="1.6" stroke-linecap="round" opacity="0.9"/>
<path d="M7.2 13.1h0M19.3 25.8h0M101.9 30.1h0M1.7 26.5h0M61.9 12.4h0M30.5 3.7h0M19.0 24.2h0M64.9 28.6h0M63.7 18.7h0M18.4 9.8h0M35.1 4.4h0M102.0 6.9h0M46.4 2.1h0M42.9 2.7h0M42.1 16.4h0M57.2 5.6h0M72.5 14.3h0M96.7 8.3h0M59.1 19.7h0M100.1 27.6h0M57.3 23.6h0M38.5 28.3h0M15.5 3.2h0M62.6 9.7h0M98.8 15.8h0M82.1 4.5h0M23.2 14.5h0M14.4 7.7h0M86.9 23.6h0M82.2 9.6h0M86.9 24.1h0M97.8 4.0h0M8.1 2.7h0M76.9 13.1h0M16.8 26.9h0M10.5 2.4h0M30.0 11.2h0M49.8 21.3h0M38.1 7.1h0M8.0 14.6h0M53.7 12.5h0M88.9 5.2h0M88.9 8.0h0M68.2 16.4h0M97.0 8.0h0M108.8 13.8h0M39.4 2.3h0M86.1 7.5h0M53.9 25.9h0" stroke="#5a88a2" stroke-width="1.1" stroke-linecap="round" opacity="0.9"/>
<path d="M101.8 30.1h0M106.1 14.1h0M14.3 20.4h0M17.9 23.6h0M93.4 22.3h0M12.1 28.2h0M27.1 23.3h0M6.3 19.0h0M30.8 28.5h0M58.6 23.9h0M97.8 18.6h0M64.8 24.9h0M0.3 10.1h0M34.2 18.5h0M38.6 29.0h0M47.8 23.8h0M103.6 14.8h0M75.5 16.3h0M69.7 26.7h0M100.6 12.3h0M50.8 19.3h0M92.9 29.6h0M24.1 18.9h0M5.7 22.4h0M40.8 9.3h0M105.6 10.3h0M9.3 16.2h0M35.3 23.2h0M73.7 29.1h0M54.4 9.8h0M96.0 27.7h0M93.3 10.1h0M6.6 23.0h0M54.5 12.3h0M59.2 24.9h0M33.0 15.7h0M92.4 19.5h0M48.6 21.2h0M10.1 15.6h0M87.3 24.9h0M75.8 21.6h0M40.4 21.1h0M24.1 12.7h0M30.8 21.0h0M81.9 18.0h0M26.5 26.3h0M5.2 14.9h0M19.5 27.9h0M89.8 12.4h0M103.6 24.6h0M17.6 16.5h0M61.7 27.9h0M107.2 18.2h0M59.9 27.2h0M63.5 11.1h0M25.6 14.2h0M83.9 29.6h0M12.6 18.6h0M46.9 25.4h0M77.7 12.5h0" stroke="#fafcfc" stroke-width="1.6" stroke-linecap="round" opacity="0.9"/>
<path d="M108.5 19.1h0M46.3 17.0h0M15.3 21.7h0M19.7 23.5h0M65.9 14.7h0M31.5 5.0h0M21.0 26.5h0M7.7 14.0h0M66.7 4.7h0M13.3 17.5h0M62.8 21.8h0M14.6 26.8h0M65.0 18.0h0M54.5 27.4h0M42.1 13.3h0M60.8 13.1h0M33.7 28.7h0M24.9 9.2h0M8.2 27.5h0M76.5 15.5h0M107.9 5.6h0M19.8 20.1h0M13.8 18.5h0M24.6 16.9h0M20.1 12.3h0M94.8 15.4h0M40.1 24.3h0M85.0 4.4h0M98.2 17.0h0M24.0 11.8h0M36.4 4.9h0M26.4 15.2h0M37.6 28.8h0M78.2 16.6h0M61.0 23.6h0M81.1 4.8h0M47.1 7.7h0M61.4 21.8h0M96.7 5.6h0M100.6 10.9h0M69.9 8.4h0M1.4 5.2h0M13.2 16.4h0M73.6 6.3h0M64.3 20.6h0" stroke="#5a88a2" stroke-width="0.7" stroke-linecap="round" opacity="0.9"/>
<path d="M33.7 17.3h0M91.4 17.8h0M72.2 16.8h0M3.4 28.2h0M55.0 16.6h0M52.9 20.7h0M47.3 24.5h0M26.8 23.0h0M65.6 9.1h0M0.9 18.1h0M41.7 17.9h0M36.2 25.5h0M13.8 14.7h0M98.6 21.8h0M15.6 26.1h0M40.4 27.4h0M107.8 27.6h0M76.8 25.8h0M69.7 27.9h0M17.9 25.9h0M65.8 30.0h0M46.7 29.1h0M30.4 27.4h0M106.6 20.4h0M27.2 12.9h0M13.6 25.8h0M87.5 13.6h0M100.0 24.0h0M95.0 12.0h0M101.1 20.6h0M88.7 22.2h0" stroke="#a8c6d4" stroke-width="1.6" stroke-linecap="round" opacity="0.9"/>
<path d="M16.3 12.3h0M21.9 2.6h0M72.2 26.7h0M9.7 10.3h0M64.9 6.1h0M73.6 8.1h0M94.9 4.9h0M85.3 7.2h0M100.1 10.2h0M102.3 18.7h0M57.0 28.7h0M79.5 7.4h0M102.5 27.8h0M45.7 24.7h0M7.9 3.6h0M101.1 24.6h0M99.9 30.2h0M42.1 4.2h0M74.0 11.3h0M86.6 8.3h0M70.6 5.9h0M9.2 28.0h0M104.3 7.4h0M6.5 28.8h0M28.2 29.5h0M7.1 8.2h0M83.5 4.2h0M53.8 16.2h0M107.8 17.3h0M103.2 3.0h0M18.3 12.8h0M90.2 8.8h0M86.8 13.6h0M63.1 19.5h0M43.6 15.0h0M66.0 25.3h0M32.9 18.9h0M13.4 12.4h0M89.1 3.0h0M85.9 24.6h0M16.5 7.8h0M34.5 29.5h0" stroke="#5a88a2" stroke-width="1.6" stroke-linecap="round" opacity="0.9"/>
<path d="M50.8 22.4h0M87.6 13.6h0M19.3 25.8h0M107.9 18.0h0M9.8 10.1h0M107.0 22.7h0M77.1 26.3h0M47.1 13.2h0M12.1 24.9h0M84.8 17.0h0M42.4 20.9h0M38.3 21.0h0M67.4 20.3h0M30.8 16.9h0M34.0 28.2h0M38.8 25.3h0M55.7 30.0h0M5.2 19.9h0M24.1 14.1h0M28.2 28.1h0M46.1 11.1h0M97.0 14.2h0M75.8 10.8h0M13.6 26.7h0M80.9 9.4h0M35.9 24.9h0M109.3 16.8h0M46.8 18.1h0M89.2 14.0h0M72.7 19.8h0" stroke="#6a97b0" stroke-width="1.6" stroke-linecap="round" opacity="0.9"/>
<path d="M57.6 8.9h0M40.2 5.3h0M103.9 5.9h0M23.9 3.9h0M55.7 4.8h0M66.4 4.5h0M7.2 5.0h0M0.8 2.7h0M26.7 2.4h0M94.0 8.7h0" stroke="#e8f0f4" stroke-width="1.6" stroke-linecap="round" opacity="0.9"/>
<path d="M21.0 8.9h0M76.1 4.4h0M29.0 7.4h0M61.3 2.7h0M24.3 3.1h0M28.5 4.5h0M49.1 2.4h0M62.3 4.2h0M107.0 3.6h0M53.8 2.4h0M97.5 8.7h0M105.3 8.7h0M42.0 7.3h0M100.5 3.2h0M58.2 8.5h0M14.3 3.4h0" stroke="#7aa2b8" stroke-width="1.1" stroke-linecap="round" opacity="0.9"/>
<path d="M105.0 3.1h0M6.3 6.8h0M55.3 2.6h0M28.2 7.5h0M85.1 8.5h0M47.3 6.9h0M90.9 7.3h0M36.5 6.8h0M78.4 5.8h0M26.7 5.3h0M7.2 7.8h0M25.9 2.8h0" stroke="#3f6f8c" stroke-width="1.6" stroke-linecap="round" opacity="0.9"/>
<path d="M19.7 24.3h0M3.4 14.5h0M106.7 24.5h0M71.1 9.2h0M92.0 27.9h0M3.4 12.7h0M9.1 13.3h0M91.5 17.3h0M92.5 24.6h0M45.3 12.0h0M16.7 23.1h0M22.1 27.2h0M23.2 29.0h0M36.6 29.8h0M23.4 14.5h0M48.5 28.6h0M1.7 20.5h0M0.2 23.0h0M51.3 9.5h0M83.1 30.2h0M78.2 16.7h0M17.2 11.0h0" stroke="#a8c6d4" stroke-width="0.7" stroke-linecap="round" opacity="0.9"/>
<polygon points="6,28.299999999999997 13,13 20,28.299999999999997" fill="#f6f9fa" opacity="0.75"/>
<polygon points="24,28.299999999999997 30,13 34,28.299999999999997" fill="#f6f9fa" opacity="0.75"/>
<polygon points="50,28.299999999999997 56,13 61,28.299999999999997" fill="#f6f9fa" opacity="0.75"/>
<polygon points="74,28.299999999999997 80,13 86,28.299999999999997" fill="#f6f9fa" opacity="0.75"/>
<polygon points="97,28.299999999999997 103,13 108,28.299999999999997" fill="#f6f9fa" opacity="0.75"/>
<rect x="0" y="29.299999999999997" width="110" height="1.6" fill="#86aabd"/>
<rect x="0" y="30.9" width="110" height="2.4" fill="#dde3e6"/>
<ellipse cx="42.3" cy="17.8" rx="7.5" ry="10" fill="#6f8cb0" opacity="0.55"/><circle cx="42.3" cy="18" r="4" fill="none" stroke="#8a5a9a" stroke-width="0.9" opacity="0.7"/>
<circle cx="66.4" cy="23.5" r="2.8" fill="none" stroke="#a86aa0" stroke-width="0.9" opacity="0.8"/>
<circle cx="92.9" cy="26.4" r="3.8" fill="#c8a8c8" stroke="#a86aa0" stroke-width="0.9" opacity="0.8"/>
<path d="M21.4 20.9h0M1.2 24.1h0M3.0 27.2h0M26.5 24.8h0M36.0 26.6h0M39.8 31.2h0M56.9 24.5h0M60.0 14.0h0M70.2 19.1h0M77.7 22.2h0M85.3 24.1h0M89.1 25.1h0M94.2 12.7h0M103.0 27.9h0M106.9 24.1h0M95.5 14.0h0" stroke="#7a1f32" stroke-width="2.3" stroke-linecap="round" opacity="0.95"/>
</svg>
<svg style="position:absolute;left:100px;top:188px" width="110" height="33.2" viewBox="0 0 110 33.2">
<rect width="110" height="33.2" fill="#dde8ed"/>
<rect x="0" y="0" width="110" height="2.2" fill="#dfe5e8"/>
<rect x="0" y="2.2" width="110" height="8" fill="#86a9bd"/>
<rect x="0" y="10" width="110" height="12" fill="#b4cad6"/>
<path d="M9.6 26.5h0M22.4 10.9h0M13.1 9.5h0M38.3 17.5h0M35.6 18.4h0M32.6 26.3h0M66.0 28.8h0M87.4 21.4h0M6.0 14.1h0M6.1 10.5h0M76.7 20.3h0M50.5 14.1h0M50.7 29.8h0M56.0 14.1h0M2.1 29.0h0M14.4 15.3h0M15.4 16.3h0M71.2 19.4h0M22.8 28.8h0M83.4 27.2h0M102.9 19.9h0M14.2 15.1h0M68.3 27.0h0M42.9 21.7h0M37.8 19.3h0M95.9 15.8h0M65.7 30.0h0M98.2 13.4h0M63.0 24.6h0M71.1 16.8h0M93.4 10.0h0M34.9 9.7h0M23.4 25.8h0M73.8 20.3h0M16.4 15.5h0M34.6 20.0h0M38.3 25.1h0M97.0 18.9h0M92.7 21.3h0M66.2 14.5h0M81.3 9.9h0M61.6 11.0h0M64.0 25.8h0M54.4 21.7h0M17.8 16.5h0M3.7 11.6h0M83.9 22.5h0" stroke="#4d7e9a" stroke-width="1.1" stroke-linecap="round" opacity="0.9"/>
<path d="M19.2 7.2h0M51.8 8.1h0M104.6 5.5h0M85.7 8.8h0M33.7 5.9h0M5.2 6.6h0M87.5 4.9h0M5.2 8.5h0M75.2 6.0h0M47.7 3.9h0M97.8 8.6h0M105.7 6.6h0M60.5 4.2h0M19.7 4.0h0M22.4 7.1h0M77.5 7.3h0M72.5 8.2h0M93.3 4.3h0M98.9 3.7h0M30.3 5.8h0M99.1 3.1h0M99.1 7.3h0M12.8 8.5h0M37.2 5.3h0M64.7 7.5h0" stroke="#7aa2b8" stroke-width="1.6" stroke-linecap="round" opacity="0.9"/>
<path d="M43.9 22.1h0M84.6 14.0h0M40.4 25.0h0M95.7 13.1h0M22.2 17.2h0M33.5 15.3h0M102.7 18.7h0M79.9 23.9h0M63.4 18.3h0M77.2 26.6h0M4.3 13.6h0M12.5 20.8h0M21.0 17.8h0M2.7 9.2h0M86.0 23.9h0M71.0 15.6h0M69.2 13.4h0M1.9 20.5h0M2.7 11.3h0M8.9 13.8h0M87.6 15.7h0M67.6 26.9h0M52.8 21.0h0M77.5 25.5h0M93.6 12.5h0M88.2 10.5h0M24.6 29.4h0M87.0 21.6h0M9.4 26.2h0M67.8 20.9h0M66.4 28.5h0M107.0 22.5h0M98.9 16.0h0M24.8 13.0h0M2.2 10.1h0M50.8 11.9h0M11.8 10.0h0M9.1 13.9h0M79.6 15.7h0M76.2 12.8h0M98.4 25.0h0M85.3 12.6h0M4.4 28.2h0M63.3 9.8h0M108.8 13.3h0M22.3 23.0h0M64.1 22.8h0M84.6 14.5h0M103.3 22.5h0M51.8 28.2h0M77.9 26.0h0M80.1 15.4h0M41.2 14.4h0M7.5 25.7h0M90.2 14.3h0M83.5 26.5h0M20.3 26.4h0M56.5 20.4h0M109.0 10.9h0M61.2 9.7h0M55.4 25.5h0M55.7 27.1h0M38.6 24.7h0M27.4 28.2h0M49.1 24.8h0M5.2 25.6h0M2.4 22.1h0M35.1 28.9h0M100.0 23.8h0M25.2 20.6h0M62.4 13.7h0M86.9 28.0h0M4.4 17.1h0M77.1 12.9h0M70.8 22.8h0M62.1 24.2h0M62.8 13.4h0M45.5 16.0h0M88.6 18.7h0M57.0 27.5h0M35.9 25.6h0M37.0 17.7h0M77.2 25.5h0M17.2 28.5h0M21.6 25.7h0M2.8 15.3h0M13.7 12.5h0" stroke="#f2f6f8" stroke-width="1.6" stroke-linecap="round" opacity="0.9"/>
<path d="M74.3 2.4h0M79.7 6.4h0M93.3 3.5h0M52.7 5.6h0M54.0 3.5h0M49.5 5.9h0M73.8 8.8h0M108.3 8.6h0M6.3 6.7h0M60.0 6.7h0M8.9 8.0h0M31.4 8.0h0M88.0 3.1h0M52.2 7.6h0M32.1 4.5h0M69.8 3.9h0M102.6 8.9h0M95.0 4.9h0M82.5 9.0h0M46.5 3.1h0M12.5 5.5h0M35.7 3.4h0M90.7 2.5h0M51.4 3.9h0M61.0 2.2h0M53.3 8.9h0M75.2 5.7h0M79.7 6.6h0" stroke="#5a88a2" stroke-width="1.1" stroke-linecap="round" opacity="0.9"/>
<path d="M29.3 4.8h0M35.2 7.1h0M87.7 3.6h0M0.2 6.5h0M96.9 3.4h0M47.6 3.7h0M33.3 5.7h0M102.6 3.4h0M50.1 4.4h0M96.7 6.4h0M66.8 2.6h0M104.3 8.4h0M75.4 3.9h0M17.1 8.7h0M0.8 8.6h0M64.7 5.4h0M75.9 6.1h0M24.5 8.0h0M62.8 7.5h0M29.3 4.0h0M44.2 5.3h0M25.0 2.9h0M60.5 5.3h0M29.6 5.7h0" stroke="#5a88a2" stroke-width="0.7" stroke-linecap="round" opacity="0.9"/>
<path d="M50.1 3.5h0M78.6 4.8h0M1.8 2.6h0M35.4 7.4h0M69.6 6.0h0M80.0 5.0h0M16.5 5.0h0M83.0 2.7h0M106.6 3.7h0M84.9 8.5h0M22.3 3.1h0M91.5 3.7h0M67.1 6.0h0M75.4 7.1h0M108.4 4.1h0M75.8 3.7h0M47.1 5.8h0M44.4 5.9h0M59.2 5.6h0M93.9 3.9h0M3.7 4.4h0" stroke="#3f6f8c" stroke-width="0.7" stroke-linecap="round" opacity="0.9"/>
<path d="M65.6 4.7h0M11.2 8.2h0M78.2 3.0h0M19.0 4.0h0M4.1 6.6h0M51.8 8.0h0M102.2 5.8h0M88.0 7.7h0M26.0 2.1h0M54.6 7.9h0M91.8 5.5h0M37.3 2.1h0M46.7 5.7h0M84.7 5.6h0M42.6 8.4h0M97.8 7.6h0M69.1 3.0h0M110.0 5.0h0M43.4 2.1h0M106.2 7.2h0M97.0 5.4h0M87.8 7.9h0M56.3 6.2h0M96.9 3.3h0M60.1 7.2h0M44.5 7.7h0" stroke="#e8f0f4" stroke-width="1.6" stroke-linecap="round" opacity="0.9"/>
<path d="M15.9 16.5h0M40.3 23.7h0M46.4 19.8h0M23.1 15.7h0M17.8 10.1h0M65.0 9.5h0M63.2 25.3h0M104.9 15.4h0M81.4 18.8h0M58.0 16.1h0M1.6 17.1h0M7.8 24.7h0M16.0 25.2h0M37.9 13.1h0M63.0 25.8h0M69.8 21.7h0M109.5 9.7h0M24.1 13.6h0M101.2 25.8h0M83.3 24.2h0M106.2 21.0h0M33.9 14.2h0M27.8 13.4h0M6.9 12.1h0M97.0 20.6h0M28.8 17.5h0M10.5 21.8h0M91.9 23.8h0M40.5 25.2h0M36.3 20.0h0M57.1 9.9h0M44.7 27.3h0M3.0 25.3h0M57.2 27.3h0M83.0 17.3h0M44.3 10.7h0M2.9 17.0h0M71.2 19.7h0" stroke="#9fbfcf" stroke-width="0.7" stroke-linecap="round" opacity="0.9"/>
<path d="M61.2 11.2h0M99.4 27.6h0M48.6 28.9h0M59.6 13.3h0M38.3 10.7h0M55.5 28.3h0M52.2 10.5h0M53.7 9.6h0M89.0 28.0h0M90.1 21.0h0M60.3 23.8h0M47.5 29.5h0M67.9 20.2h0M71.8 13.8h0M28.4 21.1h0M51.6 9.6h0M63.8 25.5h0M7.4 18.8h0M25.9 29.6h0M100.7 26.0h0M78.2 12.3h0M76.9 22.3h0M6.0 9.1h0M38.8 16.6h0M53.9 22.1h0M20.1 18.8h0M23.1 29.3h0M15.4 14.3h0M74.8 14.2h0M101.9 16.1h0M100.2 27.7h0M107.8 16.5h0M42.6 22.9h0M96.9 9.3h0M34.2 16.8h0M45.2 21.9h0M104.1 10.7h0M4.6 23.6h0M48.6 13.6h0M24.9 10.0h0M69.6 13.4h0M105.1 17.9h0M50.7 15.1h0M10.5 19.4h0M19.9 20.5h0M106.4 18.9h0M68.0 20.5h0M30.7 13.7h0M33.0 26.9h0M58.1 22.2h0M26.7 10.5h0M43.6 24.2h0M26.4 23.8h0M46.0 30.1h0M95.1 23.4h0M20.0 21.2h0M19.1 10.4h0M44.9 11.6h0M56.5 12.7h0M41.4 12.3h0M28.7 18.9h0M40.8 16.4h0M73.2 12.0h0M16.8 16.6h0M78.1 9.6h0M28.3 25.5h0M79.1 22.9h0M17.9 19.8h0M68.3 15.0h0M92.8 14.3h0M43.0 22.8h0M86.2 28.2h0M58.6 17.6h0M54.7 18.3h0M100.5 29.6h0M93.6 28.7h0" stroke="#f2f6f8" stroke-width="0.7" stroke-linecap="round" opacity="0.9"/>
<path d="M18.1 4.3h0M108.6 6.2h0M28.6 2.6h0M53.4 3.3h0M85.5 4.7h0M98.9 7.3h0M18.6 8.7h0M31.4 4.4h0M32.5 6.1h0M19.5 7.4h0M1.6 3.4h0M36.2 6.1h0M84.2 2.7h0M59.0 2.0h0M47.9 5.5h0M99.5 7.7h0M14.7 7.5h0M15.9 7.9h0" stroke="#e8f0f4" stroke-width="0.7" stroke-linecap="round" opacity="0.9"/>
<path d="M100.2 27.5h0M31.8 12.6h0M75.3 24.5h0M77.3 14.1h0M89.4 21.6h0M44.5 12.6h0M51.9 24.8h0M61.9 29.6h0M103.7 17.1h0M85.9 22.5h0M96.5 19.6h0M5.7 10.0h0M78.7 14.1h0M63.0 24.9h0M97.5 14.8h0M37.5 16.7h0M21.2 26.4h0M54.6 20.4h0M63.7 26.4h0M48.1 22.8h0M0.2 14.4h0M99.0 19.1h0M33.8 13.2h0M61.9 24.8h0M36.4 20.2h0M39.9 23.9h0M12.9 25.3h0M106.3 15.4h0M11.0 22.4h0M73.8 21.1h0" stroke="#9fbfcf" stroke-width="1.1" stroke-linecap="round" opacity="0.9"/>
<path d="M56.3 20.2h0M25.0 14.4h0M2.4 16.4h0M109.6 23.5h0M32.7 25.9h0M24.9 20.8h0M38.9 24.6h0M35.4 11.0h0M96.2 10.2h0M48.8 14.4h0M17.2 24.4h0M46.9 25.4h0M33.3 29.7h0M101.3 23.2h0M99.0 26.0h0M107.7 17.3h0M96.8 13.5h0M101.8 13.8h0M47.3 19.5h0M39.0 29.3h0M67.9 16.5h0M22.0 11.0h0M35.2 16.1h0M12.7 27.0h0M47.3 11.1h0M62.6 11.0h0M21.9 12.3h0M39.8 11.5h0M96.4 13.1h0M52.5 16.6h0M15.5 13.1h0M29.9 11.7h0M24.7 29.6h0M96.6 27.0h0M97.0 23.8h0M82.0 14.2h0M45.4 27.9h0" stroke="#4d7e9a" stroke-width="1.6" stroke-linecap="round" opacity="0.9"/>
<path d="M51.6 17.4h0M80.7 27.8h0M85.1 22.5h0M77.5 26.8h0M5.8 19.7h0M35.6 22.1h0M61.1 17.4h0M62.6 16.9h0M103.8 29.3h0M20.5 10.2h0M17.4 28.3h0M29.5 11.8h0M3.6 18.4h0M90.5 22.0h0M82.7 11.8h0M83.8 22.1h0M69.0 21.2h0M65.6 29.8h0M76.4 14.5h0M28.1 18.4h0M109.3 13.9h0M97.3 14.4h0M97.5 17.1h0M9.9 16.8h0M2.1 14.5h0M21.1 10.0h0M33.8 20.8h0M21.4 27.6h0M64.9 24.4h0M90.2 11.5h0M76.7 14.3h0M12.2 18.2h0M80.4 13.0h0M24.0 21.0h0M63.9 13.5h0M9.5 29.7h0M85.4 29.3h0M19.8 16.7h0M59.2 12.5h0M28.4 14.7h0M84.6 26.5h0M51.0 22.2h0M101.7 25.1h0M2.0 11.1h0M38.0 14.3h0M13.3 18.5h0M41.8 22.0h0M95.8 22.0h0M7.7 28.0h0M64.9 25.6h0M87.3 14.6h0M97.4 15.8h0M15.0 17.0h0M25.9 24.5h0M109.9 15.4h0M67.3 20.5h0M9.3 19.7h0M105.4 22.8h0M45.5 9.4h0M33.7 18.1h0M69.4 22.4h0M79.8 22.7h0M60.1 13.0h0M45.8 17.7h0M10.2 9.4h0M76.8 16.1h0M69.8 24.1h0M15.0 18.3h0M9.2 13.1h0M18.0 26.3h0M81.5 12.2h0M52.1 21.6h0M108.8 21.5h0M38.1 10.7h0M90.3 23.6h0M59.1 10.2h0M104.9 9.9h0M76.8 27.6h0M1.0 28.9h0M22.2 29.6h0M17.6 24.4h0M72.9 22.0h0M97.5 14.8h0M96.6 9.4h0M92.7 27.2h0M74.2 16.0h0M36.2 16.5h0M62.3 19.3h0M86.4 13.6h0M78.1 12.2h0M60.0 16.4h0M67.4 22.7h0M13.5 24.8h0M5.9 28.9h0M52.1 28.0h0" stroke="#f2f6f8" stroke-width="1.1" stroke-linecap="round" opacity="0.9"/>
<path d="M28.1 24.6h0M15.9 22.8h0M87.5 14.2h0M27.6 30.1h0M81.0 25.5h0M102.1 28.7h0M75.4 24.0h0M32.5 23.2h0M103.9 12.8h0M104.9 12.7h0M24.0 25.3h0M3.4 9.1h0M49.5 23.9h0M73.7 11.4h0M10.9 16.7h0M2.8 9.8h0M39.3 9.0h0M76.5 12.2h0M6.4 10.2h0M3.1 16.0h0M67.2 11.5h0M40.0 14.4h0M60.1 21.6h0M33.8 23.3h0M23.8 12.2h0M66.8 16.6h0M39.3 16.4h0M91.7 13.0h0M21.0 23.8h0M65.0 23.5h0M106.9 25.5h0M67.7 21.6h0M15.1 16.9h0M109.4 29.8h0M47.9 28.2h0M53.7 28.3h0" stroke="#9fbfcf" stroke-width="1.6" stroke-linecap="round" opacity="0.9"/>
<path d="M56.2 16.0h0M33.1 10.6h0M70.0 10.9h0M92.5 14.1h0M92.1 29.3h0M98.9 10.5h0M41.8 22.4h0M12.1 28.2h0M107.1 20.1h0M42.1 20.7h0M27.0 28.1h0M27.8 13.9h0M60.9 14.1h0M22.9 15.9h0M79.6 20.4h0M72.0 23.9h0M37.8 13.8h0M72.7 10.6h0M65.8 9.3h0M80.1 10.8h0M73.6 16.2h0M5.8 17.2h0M95.4 21.1h0M78.0 12.0h0M37.9 24.7h0M54.0 18.9h0M40.0 21.8h0M87.3 16.1h0M0.4 14.5h0M13.2 12.9h0M48.6 24.4h0M33.9 14.1h0M80.4 23.0h0M62.1 16.0h0M50.1 25.8h0M18.8 21.9h0" stroke="#5f8ea8" stroke-width="1.1" stroke-linecap="round" opacity="0.9"/>
<path d="M14.0 18.4h0M81.2 17.5h0M90.5 18.6h0M17.9 29.8h0M20.4 19.2h0M109.2 14.8h0M20.7 12.8h0M100.6 15.7h0M92.8 29.4h0M108.6 16.4h0M66.3 19.2h0M21.1 21.3h0M63.4 10.4h0M57.5 18.2h0M28.9 16.1h0M70.4 10.6h0M44.6 29.2h0M105.8 17.1h0M28.8 23.8h0M2.2 21.5h0M95.9 28.2h0M60.1 24.6h0M61.9 11.3h0M13.4 21.4h0M69.0 23.9h0M77.5 20.4h0M83.4 10.5h0M5.7 16.4h0M39.7 28.7h0M74.2 22.6h0M54.5 28.5h0M77.4 25.0h0" stroke="#7fa6bb" stroke-width="0.7" stroke-linecap="round" opacity="0.9"/>
<path d="M98.8 29.8h0M36.9 10.9h0M71.0 19.8h0M12.1 11.6h0M99.9 14.9h0M38.3 28.8h0M59.3 15.8h0M45.0 12.2h0M83.0 18.8h0M20.4 11.8h0M53.6 25.1h0M39.4 9.7h0M98.8 9.1h0M10.5 14.1h0M30.0 11.9h0M109.3 22.7h0M7.1 19.3h0M27.2 28.1h0M1.7 14.3h0M23.0 29.5h0M84.7 11.8h0M94.1 11.3h0M56.4 21.8h0M7.6 26.0h0M13.4 28.5h0M107.0 11.8h0M17.2 9.7h0M104.0 17.8h0M6.1 21.1h0M73.9 12.1h0M86.4 9.4h0M20.5 29.0h0M2.9 18.1h0M99.5 27.0h0M12.0 15.3h0M84.4 11.1h0M82.0 28.5h0" stroke="#7fa6bb" stroke-width="1.6" stroke-linecap="round" opacity="0.9"/>
<path d="M60.8 15.7h0M52.6 22.2h0M17.4 11.6h0M63.2 10.7h0M65.8 9.8h0M22.3 25.3h0M104.5 19.7h0M31.4 26.3h0M18.3 24.7h0M24.9 11.9h0M16.9 11.3h0M80.8 17.1h0M42.8 26.6h0M42.0 14.6h0M14.0 25.6h0M40.4 14.9h0M9.9 16.7h0M83.4 28.4h0M40.1 16.4h0M18.3 22.5h0M37.0 10.5h0M85.3 24.8h0M26.8 23.9h0M109.4 27.9h0M45.7 10.8h0M62.3 28.1h0M71.1 18.5h0M70.6 26.9h0M6.8 21.1h0M42.0 22.2h0M65.3 21.0h0M89.5 10.7h0M72.5 13.5h0M24.7 23.6h0" stroke="#4d7e9a" stroke-width="0.7" stroke-linecap="round" opacity="0.9"/>
<path d="M64.0 30.0h0M50.8 28.4h0M12.9 26.8h0M89.4 23.9h0M58.9 15.0h0M27.0 26.3h0M77.7 21.3h0M51.4 23.0h0M67.7 10.5h0M44.0 28.6h0M75.6 29.8h0M33.8 19.9h0M37.4 15.4h0M73.8 22.3h0M105.0 12.4h0M106.7 14.7h0M1.0 16.5h0M45.4 22.1h0M23.5 26.5h0M95.9 23.0h0M28.6 25.1h0M36.2 12.5h0M86.2 29.3h0M25.2 25.3h0M0.8 18.9h0M42.6 25.1h0M104.8 23.7h0M45.2 12.4h0M36.9 11.7h0M19.0 17.6h0M66.1 21.7h0M23.2 9.5h0M87.5 26.7h0M79.1 25.0h0M18.1 23.8h0M53.3 20.3h0M55.8 18.3h0M23.8 23.1h0M46.0 29.5h0M104.9 11.3h0M86.0 29.8h0M18.7 21.2h0M68.6 18.1h0M8.0 22.1h0M90.3 29.6h0M94.3 18.6h0M57.7 10.9h0" stroke="#5f8ea8" stroke-width="0.7" stroke-linecap="round" opacity="0.9"/>
<path d="M72.2 3.3h0M35.0 3.6h0M56.4 7.3h0M2.8 8.8h0M103.8 8.4h0M58.4 4.7h0M7.8 8.9h0M88.3 2.9h0M72.0 8.7h0M101.9 4.4h0M80.1 7.8h0M17.1 5.8h0M23.3 3.0h0M45.3 6.7h0M96.6 3.4h0" stroke="#5a88a2" stroke-width="1.6" stroke-linecap="round" opacity="0.9"/>
<path d="M11.4 12.7h0M53.3 17.5h0M88.0 18.5h0M57.8 21.2h0M65.6 12.7h0M103.1 27.2h0M98.8 28.4h0M13.0 13.8h0M95.5 17.9h0M96.9 21.7h0M35.4 22.9h0M5.6 23.0h0M19.5 21.5h0M59.9 20.8h0M78.3 20.4h0M49.4 14.0h0M72.6 21.1h0M59.3 27.1h0M88.6 23.0h0M56.9 20.7h0M38.9 17.3h0M93.3 12.5h0M107.0 20.1h0M80.2 9.9h0M100.8 22.2h0M46.0 28.3h0M88.8 29.2h0M35.4 28.0h0M105.1 17.7h0M98.8 10.6h0M36.1 20.0h0M107.7 25.3h0M10.9 25.2h0M92.8 28.6h0M81.4 22.0h0M56.8 13.8h0M73.0 24.9h0M11.5 27.4h0M109.9 10.7h0M76.7 9.1h0M12.2 10.9h0M54.5 17.2h0M54.0 27.1h0" stroke="#5f8ea8" stroke-width="1.6" stroke-linecap="round" opacity="0.9"/>
<path d="M76.9 17.3h0M41.4 9.0h0M60.4 17.0h0M102.6 14.0h0M47.6 15.2h0M67.4 16.6h0M80.4 11.8h0M0.8 26.2h0M52.3 12.5h0M69.8 14.6h0M86.4 28.2h0M79.0 28.7h0M101.1 22.2h0M93.1 30.1h0M31.0 14.5h0M42.2 14.7h0M21.5 12.7h0M63.1 27.0h0M107.8 23.1h0M96.8 29.5h0M61.5 28.9h0M16.8 21.7h0M3.9 23.9h0M68.6 15.1h0M30.8 30.1h0M55.0 24.4h0M13.7 18.7h0M2.0 25.8h0M82.7 14.2h0M46.2 14.5h0M50.8 9.0h0M5.2 22.4h0M53.1 17.6h0M17.0 21.4h0M19.3 29.0h0M46.9 19.9h0M40.6 25.7h0M92.0 28.7h0M105.3 28.9h0M102.1 13.2h0M13.7 17.4h0M99.6 21.6h0" stroke="#7fa6bb" stroke-width="1.1" stroke-linecap="round" opacity="0.9"/>
<path d="M101.0 6.2h0M54.9 4.2h0M40.1 7.3h0M39.8 8.2h0M6.1 8.9h0M45.7 6.8h0M14.8 4.5h0M18.8 4.6h0M36.0 7.8h0M102.8 2.9h0M18.8 7.2h0M3.5 2.9h0M21.6 2.7h0M34.6 5.9h0M14.0 5.1h0" stroke="#7aa2b8" stroke-width="0.7" stroke-linecap="round" opacity="0.9"/>
<path d="M101.8 8.4h0M104.7 8.5h0M21.4 4.6h0M57.5 7.0h0M2.0 7.3h0M66.0 5.7h0M74.3 8.2h0M19.1 3.9h0M40.0 7.0h0M85.8 4.5h0M103.8 3.6h0M5.5 6.2h0M80.0 4.1h0M71.9 3.0h0M94.6 8.6h0M74.5 2.7h0" stroke="#e8f0f4" stroke-width="1.1" stroke-linecap="round" opacity="0.9"/>
<path d="M12.2 7.6h0M49.9 6.8h0M28.5 4.5h0M31.1 6.4h0M35.3 3.7h0M44.2 6.9h0M98.5 2.8h0M15.7 5.8h0" stroke="#3f6f8c" stroke-width="1.1" stroke-linecap="round" opacity="0.9"/>
<path d="M82.4 6.0h0M109.5 6.0h0M40.1 3.4h0M69.8 7.6h0M76.3 7.7h0M40.7 5.5h0M27.8 4.7h0M44.1 4.2h0M32.4 2.0h0M57.7 4.7h0M60.3 6.2h0M54.3 2.4h0M51.6 5.1h0M20.4 8.3h0M105.8 4.1h0M100.0 3.4h0M85.9 6.9h0M48.2 4.5h0M37.8 3.6h0" stroke="#3f6f8c" stroke-width="1.6" stroke-linecap="round" opacity="0.9"/>
<path d="M44.5 3.0h0M62.9 8.6h0M89.8 6.9h0M9.4 4.6h0M88.7 2.0h0M84.5 4.4h0M50.8 6.3h0M64.6 3.3h0M107.6 7.5h0M39.8 2.7h0M103.1 6.5h0M58.0 4.9h0M29.8 2.2h0M108.0 4.1h0M70.8 4.4h0M81.5 8.0h0M81.8 7.7h0M47.6 7.5h0" stroke="#7aa2b8" stroke-width="1.1" stroke-linecap="round" opacity="0.9"/>
<rect x="0" y="29.200000000000003" width="110" height="1.6" fill="#86aabd"/>
<rect x="0" y="30.800000000000004" width="110" height="2.4" fill="#dde3e6"/>
<ellipse cx="42.3" cy="15.4" rx="6.5" ry="9" fill="#5f86a8" opacity="0.5"/><circle cx="42.3" cy="15" r="2.8" fill="#d8b8d0" stroke="#9a6a9a" stroke-width="0.8" opacity="0.8"/>
</svg>
<svg style="position:absolute;left:0;top:0" width="900" height="511" viewBox="0 0 900 511">
<text x="5.5" y="18.7" font-size="14.2" fill="#000" font-weight="bold" font-style="normal" text-anchor="start" font-family='"Liberation Sans", "DejaVu Sans", sans-serif' >A</text>
<text x="222.5" y="18.7" font-size="14.2" fill="#000" font-weight="bold" font-style="normal" text-anchor="start" font-family='"Liberation Sans", "DejaVu Sans", sans-serif' >B</text>
<text x="481.5" y="18.9" font-size="14.2" fill="#000" font-weight="bold" font-style="normal" text-anchor="start" font-family='"Liberation Sans", "DejaVu Sans", sans-serif' >E</text>
<text x="3.5" y="245.3" font-size="14.2" fill="#000" font-weight="bold" font-style="normal" text-anchor="start" font-family='"Liberation Sans", "DejaVu Sans", sans-serif' >C</text>
<text x="221.5" y="245" font-size="14.2" fill="#000" font-weight="bold" font-style="normal" text-anchor="start" font-family='"Liberation Sans", "DejaVu Sans", sans-serif' >D</text>
<text x="475.5" y="235.6" font-size="14.2" fill="#000" font-weight="bold" font-style="normal" text-anchor="start" font-family='"Liberation Sans", "DejaVu Sans", sans-serif' >F</text>
<text x="718.5" y="162.3" font-size="14.2" fill="#000" font-weight="bold" font-style="normal" text-anchor="start" font-family='"Liberation Sans", "DejaVu Sans", sans-serif' >G</text>
<text x="26" y="19" font-size="8.6" fill="#4a2a6c" font-weight="bold" font-style="italic" text-anchor="start" font-family='"Liberation Sans", "DejaVu Sans", sans-serif' textLength="69" lengthAdjust="spacingAndGlyphs">C. fangchengensis</text>
<text x="103.2" y="19" font-size="8.6" fill="#4a2a6c" font-weight="bold" font-style="italic" text-anchor="start" font-family='"Liberation Sans", "DejaVu Sans", sans-serif' textLength="69.2" lengthAdjust="spacingAndGlyphs">C. fangchengensis</text>
<text x="178.6" y="19" font-size="8.6" fill="#4a2a6c" font-weight="bold" font-style="italic" text-anchor="start" font-family='"Liberation Sans", "DejaVu Sans", sans-serif' textLength="39.2" lengthAdjust="spacingAndGlyphs">C. sinensis</text>
<text x="20.7" y="128.4" font-size="8.6" fill="#4a2a6c" font-weight="bold" font-style="italic" text-anchor="start" font-family='"Liberation Sans", "DejaVu Sans", sans-serif' textLength="69.3" lengthAdjust="spacingAndGlyphs">C. fangchengensis</text>
<text x="20.7" y="181.0" font-size="8.6" fill="#4a2a6c" font-weight="bold" font-style="italic" text-anchor="start" font-family='"Liberation Sans", "DejaVu Sans", sans-serif' textLength="38.5" lengthAdjust="spacingAndGlyphs">C. sinensis</text>
<text x="100.8" y="130.3" font-size="8.6" fill="#4a2a6c" font-weight="bold" font-style="italic" text-anchor="start" font-family='"Liberation Sans", "DejaVu Sans", sans-serif' textLength="69.3" lengthAdjust="spacingAndGlyphs">C. fangchengensis</text>
<text x="100.5" y="187.2" font-size="8.6" fill="#4a2a6c" font-weight="bold" font-style="italic" text-anchor="start" font-family='"Liberation Sans", "DejaVu Sans", sans-serif' textLength="38.5" lengthAdjust="spacingAndGlyphs">C. sinensis</text>
<text x="101" y="172.3" font-size="2.8" fill="#555" font-weight="normal" font-style="normal" text-anchor="start" font-family='"Liberation Sans", "DejaVu Sans", sans-serif' textLength="93" lengthAdjust="spacingAndGlyphs">a: cuticle  b: upper epidermis  c: palisade tissue  d: spongy tissue  e: vascular</text>
<text x="101" y="175.6" font-size="2.8" fill="#555" font-weight="normal" font-style="normal" text-anchor="start" font-family='"Liberation Sans", "DejaVu Sans", sans-serif' textLength="93" lengthAdjust="spacingAndGlyphs">f: lower epidermis  g: stomata  h: idioblast  i: druse crystal  j: sclereid</text>
<text x="101" y="224.5" font-size="2.8" fill="#555" font-weight="normal" font-style="normal" text-anchor="start" font-family='"Liberation Sans", "DejaVu Sans", sans-serif' textLength="93" lengthAdjust="spacingAndGlyphs">a: cuticle  b: upper epidermis  c: palisade tissue  d: spongy tissue  e: vascular</text>
<text x="101" y="227.6" font-size="2.8" fill="#555" font-weight="normal" font-style="normal" text-anchor="start" font-family='"Liberation Sans", "DejaVu Sans", sans-serif' textLength="93" lengthAdjust="spacingAndGlyphs">f: lower epidermis  g: stomata  h: idioblast  i: druse crystal  j: sclereid</text>
<text x="214.5" y="134" font-size="2.6" fill="#555" font-family='"Liberation Sans", "DejaVu Sans", sans-serif'>-</text>
<text x="214.5" y="136.5" font-size="2.6" fill="#555" font-family='"Liberation Sans", "DejaVu Sans", sans-serif'>-</text>
<text x="214.5" y="139" font-size="2.6" fill="#555" font-family='"Liberation Sans", "DejaVu Sans", sans-serif'>-</text>
<text x="214.5" y="152" font-size="2.6" fill="#555" font-family='"Liberation Sans", "DejaVu Sans", sans-serif'>-</text>
<text x="214.5" y="154" font-size="2.6" fill="#555" font-family='"Liberation Sans", "DejaVu Sans", sans-serif'>-</text>
<text x="214.5" y="159" font-size="2.6" fill="#555" font-family='"Liberation Sans", "DejaVu Sans", sans-serif'>-</text>
<line x1="207" y1="140.5" x2="214" y2="140.5" stroke="#666" stroke-width="0.4"/>
<line x1="207" y1="160" x2="214" y2="160" stroke="#666" stroke-width="0.4"/>
<line x1="207" y1="197" x2="214" y2="197" stroke="#666" stroke-width="0.4"/>
<rect x="241.6" y="14" width="191.20000000000002" height="194.4" fill="#fff" stroke="#d4d4d4" stroke-width="0.7"/>
<line x1="267.6" y1="26.1" x2="432.8" y2="26.1" stroke="#e2e2e2" stroke-width="0.7"/>
<line x1="267.6" y1="38.2" x2="432.8" y2="38.2" stroke="#e2e2e2" stroke-width="0.7"/>
<line x1="267.6" y1="50.3" x2="432.8" y2="50.3" stroke="#e2e2e2" stroke-width="0.7"/>
<line x1="241.6" y1="62.4" x2="432.8" y2="62.4" stroke="#c8c8c8" stroke-width="0.8"/>
<line x1="267.6" y1="74.5" x2="432.8" y2="74.5" stroke="#e2e2e2" stroke-width="0.7"/>
<line x1="267.6" y1="86.6" x2="432.8" y2="86.6" stroke="#e2e2e2" stroke-width="0.7"/>
<line x1="267.6" y1="98.7" x2="432.8" y2="98.7" stroke="#e2e2e2" stroke-width="0.7"/>
<line x1="241.6" y1="110.8" x2="432.8" y2="110.8" stroke="#c8c8c8" stroke-width="0.8"/>
<line x1="267.6" y1="122.9" x2="432.8" y2="122.9" stroke="#e2e2e2" stroke-width="0.7"/>
<line x1="267.6" y1="135.0" x2="432.8" y2="135.0" stroke="#e2e2e2" stroke-width="0.7"/>
<line x1="267.6" y1="147.1" x2="432.8" y2="147.1" stroke="#e2e2e2" stroke-width="0.7"/>
<line x1="241.6" y1="159.2" x2="432.8" y2="159.2" stroke="#c8c8c8" stroke-width="0.8"/>
<line x1="267.6" y1="171.3" x2="432.8" y2="171.3" stroke="#e2e2e2" stroke-width="0.7"/>
<line x1="267.6" y1="183.4" x2="432.8" y2="183.4" stroke="#e2e2e2" stroke-width="0.7"/>
<line x1="267.6" y1="195.5" x2="432.8" y2="195.5" stroke="#e2e2e2" stroke-width="0.7"/>
<line x1="377.6" y1="14" x2="377.6" y2="208.4" stroke="#d8d8d8" stroke-width="0.7"/>
<line x1="267.6" y1="14" x2="267.6" y2="208.4" stroke="#d0d0d0" stroke-width="0.8"/>
<rect x="267.6" y="17.00" width="138.6" height="7.5" fill="#a8c4c4"/>
<text x="263.3" y="23.3" font-size="7.2" fill="#a9c1c1" font-weight="normal" font-style="normal" text-anchor="end" font-family='"Liberation Sans", "DejaVu Sans", sans-serif' >LJ43</text>
<rect x="267.6" y="29.12" width="108.5" height="7.5" fill="#a8c4c4"/>
<text x="263.3" y="35.419999999999995" font-size="7.2" fill="#a9c1c1" font-weight="normal" font-style="normal" text-anchor="end" font-family='"Liberation Sans", "DejaVu Sans", sans-serif' >ZJ</text>
<rect x="267.6" y="41.24" width="116.2" height="7.5" fill="#a8c4c4"/>
<text x="263.3" y="47.53999999999999" font-size="7.2" fill="#a9c1c1" font-weight="normal" font-style="normal" text-anchor="end" font-family='"Liberation Sans", "DejaVu Sans", sans-serif' >JS2</text>
<rect x="267.6" y="53.36" width="141.9" height="7.5" fill="#a8c4c4"/>
<text x="263.3" y="59.66" font-size="7.2" fill="#a9c1c1" font-weight="normal" font-style="normal" text-anchor="end" font-family='"Liberation Sans", "DejaVu Sans", sans-serif' >BY1</text>
<rect x="267.6" y="65.48" width="71.5" height="7.5" fill="#3aa362"/>
<text x="263.3" y="71.77999999999999" font-size="7.2" fill="#3b9a5d" font-weight="bold" font-style="normal" text-anchor="end" font-family='"Liberation Sans", "DejaVu Sans", sans-serif' >LJ43</text>
<rect x="267.6" y="77.60" width="56.1" height="7.5" fill="#3aa362"/>
<text x="263.3" y="83.89999999999999" font-size="7.2" fill="#3b9a5d" font-weight="bold" font-style="normal" text-anchor="end" font-family='"Liberation Sans", "DejaVu Sans", sans-serif' >ZJ</text>
<rect x="267.6" y="89.72" width="57.9" height="7.5" fill="#3aa362"/>
<text x="263.3" y="96.02" font-size="7.2" fill="#3b9a5d" font-weight="bold" font-style="normal" text-anchor="end" font-family='"Liberation Sans", "DejaVu Sans", sans-serif' >JS2</text>
<rect x="267.6" y="101.84" width="31.9" height="7.5" fill="#3aa362"/>
<text x="263.3" y="108.13999999999999" font-size="7.2" fill="#3b9a5d" font-weight="bold" font-style="normal" text-anchor="end" font-family='"Liberation Sans", "DejaVu Sans", sans-serif' >BY1</text>
<rect x="267.6" y="113.96" width="23.1" height="7.5" fill="#b6a3d0"/>
<text x="243.0" y="120.25999999999999" font-size="7.2" fill="#b2b0b8" font-weight="normal" font-style="normal" text-anchor="start" font-family='"Liberation Sans", "DejaVu Sans", sans-serif' textLength="19.6" lengthAdjust="spacingAndGlyphs">FCC_4</text>
<rect x="267.6" y="126.08" width="28.6" height="7.5" fill="#b6a3d0"/>
<text x="243.0" y="132.38" font-size="7.2" fill="#b2b0b8" font-weight="normal" font-style="normal" text-anchor="start" font-family='"Liberation Sans", "DejaVu Sans", sans-serif' textLength="19.6" lengthAdjust="spacingAndGlyphs">FCC_3</text>
<rect x="267.6" y="138.20" width="23.6" height="7.5" fill="#b6a3d0"/>
<text x="243.0" y="144.5" font-size="7.2" fill="#b2b0b8" font-weight="normal" font-style="normal" text-anchor="start" font-family='"Liberation Sans", "DejaVu Sans", sans-serif' textLength="19.6" lengthAdjust="spacingAndGlyphs">FCC_2</text>
<rect x="267.6" y="150.32" width="26.4" height="7.5" fill="#b6a3d0"/>
<text x="243.0" y="156.62" font-size="7.2" fill="#b2b0b8" font-weight="normal" font-style="normal" text-anchor="start" font-family='"Liberation Sans", "DejaVu Sans", sans-serif' textLength="19.6" lengthAdjust="spacingAndGlyphs">FCC_1</text>
<rect x="267.6" y="162.44" width="114.4" height="7.5" fill="#7b4a9e"/>
<text x="243.0" y="168.74" font-size="7.2" fill="#4a3a5c" font-weight="bold" font-style="normal" text-anchor="start" font-family='"Liberation Sans", "DejaVu Sans", sans-serif' textLength="19.6" lengthAdjust="spacingAndGlyphs">FCC_4</text>
<rect x="267.6" y="174.56" width="95.7" height="7.5" fill="#7b4a9e"/>
<text x="243.0" y="180.86" font-size="7.2" fill="#4a3a5c" font-weight="bold" font-style="normal" text-anchor="start" font-family='"Liberation Sans", "DejaVu Sans", sans-serif' textLength="19.6" lengthAdjust="spacingAndGlyphs">FCC_3</text>
<rect x="267.6" y="186.68" width="92.4" height="7.5" fill="#7b4a9e"/>
<text x="243.0" y="192.98" font-size="7.2" fill="#4a3a5c" font-weight="bold" font-style="normal" text-anchor="start" font-family='"Liberation Sans", "DejaVu Sans", sans-serif' textLength="19.6" lengthAdjust="spacingAndGlyphs">FCC_2</text>
<rect x="267.6" y="198.80" width="88.6" height="7.5" fill="#7b4a9e"/>
<text x="243.0" y="205.1" font-size="7.2" fill="#4a3a5c" font-weight="bold" font-style="normal" text-anchor="start" font-family='"Liberation Sans", "DejaVu Sans", sans-serif' textLength="19.6" lengthAdjust="spacingAndGlyphs">FCC_1</text>
<text x="237.6" y="64.3" font-size="9" fill="#000" font-weight="bold" font-style="italic" text-anchor="middle" font-family='"Liberation Sans", "DejaVu Sans", sans-serif' transform="rotate(-90 237.6 64.3)" textLength="35.5" lengthAdjust="spacingAndGlyphs">C. sinensis</text>
<text x="237.8" y="163.2" font-size="9" fill="#000" font-weight="bold" font-style="italic" text-anchor="middle" font-family='"Liberation Sans", "DejaVu Sans", sans-serif' transform="rotate(-90 237.8 163.2)" textLength="62" lengthAdjust="spacingAndGlyphs">C. fangchengensis</text>
<text x="267.6" y="221.7" font-size="7.8" fill="#222" font-weight="bold" font-style="normal" text-anchor="middle" font-family='"Liberation Sans", "DejaVu Sans", sans-serif' >0.00</text>
<text x="322.6" y="221.7" font-size="7.8" fill="#222" font-weight="bold" font-style="normal" text-anchor="middle" font-family='"Liberation Sans", "DejaVu Sans", sans-serif' >5.00</text>
<text x="377.6" y="221.7" font-size="7.8" fill="#222" font-weight="bold" font-style="normal" text-anchor="middle" font-family='"Liberation Sans", "DejaVu Sans", sans-serif' >10.00</text>
<text x="432.6" y="221.7" font-size="7.8" fill="#222" font-weight="bold" font-style="normal" text-anchor="middle" font-family='"Liberation Sans", "DejaVu Sans", sans-serif' >15.00</text>
<text x="350" y="229.8" font-size="8" fill="#222" font-weight="bold" font-style="normal" text-anchor="middle" font-family='"Liberation Sans", "DejaVu Sans", sans-serif' >Contents (%)</text>
<line x1="423.5" y1="26.3" x2="423.5" y2="99" stroke="#444" stroke-width="0.8"/>
<line x1="423.5" y1="123.5" x2="423.5" y2="196" stroke="#555" stroke-width="0.8"/>
<text x="431.5" y="53.5" font-size="10.5" fill="#444" font-weight="normal" font-style="normal" text-anchor="middle" font-family='"Liberation Sans", "DejaVu Sans", sans-serif' transform="rotate(-90 431.5 53.5)" >***</text>
<text x="429.8" y="77" font-size="6.2" fill="#444" font-weight="normal" font-style="normal" text-anchor="middle" font-family='"Liberation Sans", "DejaVu Sans", sans-serif' transform="rotate(-90 429.8 77)" >(p&lt;0.001)</text>
<text x="431.5" y="146" font-size="10.5" fill="#555" font-weight="normal" font-style="normal" text-anchor="middle" font-family='"Liberation Sans", "DejaVu Sans", sans-serif' transform="rotate(-90 431.5 146)" >****</text>
<text x="429.8" y="175" font-size="6.2" fill="#555" font-weight="normal" font-style="normal" text-anchor="middle" font-family='"Liberation Sans", "DejaVu Sans", sans-serif' transform="rotate(-90 429.8 175)" >(p&lt;0.0001)</text>
<text x="443.6" y="38.3" font-size="7.6" fill="#a9c1c1" font-weight="normal" font-style="normal" text-anchor="middle" font-family='"Liberation Sans", "DejaVu Sans", sans-serif' transform="rotate(-90 443.6 38.3)" textLength="40.5" lengthAdjust="spacingAndGlyphs">trihydroxylate</text>
<text x="451.6" y="38.3" font-size="7.6" fill="#a9c1c1" font-weight="normal" font-style="normal" text-anchor="middle" font-family='"Liberation Sans", "DejaVu Sans", sans-serif' transform="rotate(-90 451.6 38.3)" textLength="31" lengthAdjust="spacingAndGlyphs">d catechin</text>
<text x="443.6" y="87" font-size="7.6" fill="#3b9a5d" font-weight="bold" font-style="normal" text-anchor="middle" font-family='"Liberation Sans", "DejaVu Sans", sans-serif' transform="rotate(-90 443.6 87)" textLength="46" lengthAdjust="spacingAndGlyphs">dihydroxylated</text>
<text x="451.6" y="87" font-size="7.6" fill="#3b9a5d" font-weight="bold" font-style="normal" text-anchor="middle" font-family='"Liberation Sans", "DejaVu Sans", sans-serif' transform="rotate(-90 451.6 87)" textLength="27" lengthAdjust="spacingAndGlyphs">catechin</text>
<text x="443.6" y="135.5" font-size="7.6" fill="#bdb2cc" font-weight="normal" font-style="normal" text-anchor="middle" font-family='"Liberation Sans", "DejaVu Sans", sans-serif' transform="rotate(-90 443.6 135.5)" textLength="40.5" lengthAdjust="spacingAndGlyphs">trihydroxylata</text>
<text x="451.6" y="135.5" font-size="7.6" fill="#bdb2cc" font-weight="normal" font-style="normal" text-anchor="middle" font-family='"Liberation Sans", "DejaVu Sans", sans-serif' transform="rotate(-90 451.6 135.5)" textLength="31" lengthAdjust="spacingAndGlyphs">d catechin</text>
<text x="443.6" y="184" font-size="7.6" fill="#7a5c9c" font-weight="bold" font-style="normal" text-anchor="middle" font-family='"Liberation Sans", "DejaVu Sans", sans-serif' transform="rotate(-90 443.6 184)" textLength="46" lengthAdjust="spacingAndGlyphs">dihydroxylated</text>
<text x="451.6" y="184" font-size="7.6" fill="#7a5c9c" font-weight="bold" font-style="normal" text-anchor="middle" font-family='"Liberation Sans", "DejaVu Sans", sans-serif' transform="rotate(-90 451.6 184)" textLength="27" lengthAdjust="spacingAndGlyphs">catechin</text>
<rect x="602.0" y="27.8" width="298.0" height="116.8" fill="#c3c793"/>
<rect x="672.4" y="27.8" width="86.7" height="67.8" fill="#6fc05c"/>
<rect x="672.4" y="95.6" width="86.7" height="39.7" fill="#fff"/>
<rect x="672.4" y="135.3" width="86.7" height="9.3" fill="#6fc05c"/>
<rect x="775.4" y="27.8" width="5.4" height="116.8" fill="#cdcdcd"/>
<rect x="775.4" y="95.6" width="5.4" height="14.3" fill="#fff"/>
<rect x="775.4" y="120.7" width="5.4" height="14.6" fill="#fff"/>
<rect x="791.6" y="27.8" width="5.4" height="116.8" fill="#cdcdcd"/>
<rect x="791.6" y="95.6" width="5.4" height="14.3" fill="#fff"/>
<text x="604.71 610.13 615.54 620.96 626.38 631.80 637.22 642.63 648.05 653.47 658.89 664.31 669.72 675.14 680.56 685.98 691.40 696.81 702.23 707.65 713.07 718.49 723.90 729.32 734.74 740.16 745.58 751.00 756.41 761.83 767.25 772.67 778.08 783.50 788.92 794.34 799.76 805.17 810.59 816.01 821.43 826.85 832.26 837.68 843.10 848.52 853.94 859.35 864.77 870.19 875.61 881.03 886.44 891.86 897.28" y="39.9" font-size="8.6" text-anchor="middle" font-family='"Liberation Serif", serif' fill="#1a1a1a">TTCCACCACCACCATTACTACACCACCATTGCGACCACCACCACTACATCACCAT</text>
<text x="604.71 610.13 615.54 620.96 626.38 631.80 637.22 642.63 648.05 653.47 658.89 664.31 669.72 675.14 680.56 685.98 691.40 696.81 702.23 707.65 713.07 718.49 723.90 729.32 734.74 740.16 745.58 751.00 756.41 761.83 767.25 772.67 778.08 783.50 788.92 794.34 799.76 805.17 810.59 816.01 821.43 826.85 832.26 837.68 843.10 848.52 853.94 859.35 864.77 870.19 875.61 881.03 886.44 891.86 897.28" y="52.7" font-size="8.6" text-anchor="middle" font-family='"Liberation Serif", serif' fill="#1a1a1a">TTCCACCACCACCATTACTACACCACCATTGCGACCACCACCACTACATCACCAT</text>
<text x="604.71 610.13 615.54 620.96 626.38 631.80 637.22 642.63 648.05 653.47 658.89 664.31 669.72 675.14 680.56 685.98 691.40 696.81 702.23 707.65 713.07 718.49 723.90 729.32 734.74 740.16 745.58 751.00 756.41 761.83 767.25 772.67 778.08 783.50 788.92 794.34 799.76 805.17 810.59 816.01 821.43 826.85 832.26 837.68 843.10 848.52 853.94 859.35 864.77 870.19 875.61 881.03 886.44 891.86 897.28" y="65.4" font-size="8.6" text-anchor="middle" font-family='"Liberation Serif", serif' fill="#1a1a1a">TTCCACCACCACCATTACTACACCACCATTGCGACCACCACCACTACATCACCAT</text>
<text x="604.71 610.13 615.54 620.96 626.38 631.80 637.22 642.63 648.05 653.47 658.89 664.31 669.72 675.14 680.56 685.98 691.40 696.81 702.23 707.65 713.07 718.49 723.90 729.32 734.74 740.16 745.58 751.00 756.41 761.83 767.25 772.67 778.08 783.50 788.92 794.34 799.76 805.17 810.59 816.01 821.43 826.85 832.26 837.68 843.10 848.52 853.94 859.35 864.77 870.19 875.61 881.03 886.44 891.86 897.28" y="78.2" font-size="8.6" text-anchor="middle" font-family='"Liberation Serif", serif' fill="#1a1a1a">TTCCACCACCACCATTACTACACCACCATTGCGACCACCACCACTACATCACCAT</text>
<text x="604.71 610.13 615.54 620.96 626.38 631.80 637.22 642.63 648.05 653.47 658.89 664.31 669.72 675.14 680.56 685.98 691.40 696.81 702.23 707.65 713.07 718.49 723.90 729.32 734.74 740.16 745.58 751.00 756.41 761.83 767.25 772.67 778.08 783.50 788.92 794.34 799.76 805.17 810.59 816.01 821.43 826.85 832.26 837.68 843.10 848.52 853.94 859.35 864.77 870.19 875.61 881.03 886.44 891.86 897.28" y="90.9" font-size="8.6" text-anchor="middle" font-family='"Liberation Serif", serif' fill="#1a1a1a">TTCCACCACCACCATTACTACACCACCATTGCGACCACCACCACTACATCACCAT</text>
<text x="604.71 610.13 615.54 620.96 626.38 631.80 637.22 642.63 648.05 653.47 658.89 664.31 669.72 675.14 680.56 685.98 691.40 696.81 702.23 707.65 713.07 718.49 723.90 729.32 734.74 740.16 745.58 751.00 756.41 761.83 767.25 772.67 778.08 783.50 788.92 794.34 799.76 805.17 810.59 816.01 821.43 826.85 832.26 837.68 843.10 848.52 853.94 859.35 864.77 870.19 875.61 881.03 886.44 891.86 897.28" y="105.5" font-size="8.6" text-anchor="middle" font-family='"Liberation Serif", serif' fill="#1a1a1a">TTCCACCACCACCG··············CTGCCACTACCACCACTACATCACCAT</text>
<text x="604.71 610.13 615.54 620.96 626.38 631.80 637.22 642.63 648.05 653.47 658.89 664.31 669.72 675.14 680.56 685.98 691.40 696.81 702.23 707.65 713.07 718.49 723.90 729.32 734.74 740.16 745.58 751.00 756.41 761.83 767.25 772.67 778.08 783.50 788.92 794.34 799.76 805.17 810.59 816.01 821.43 826.85 832.26 837.68 843.10 848.52 853.94 859.35 864.77 870.19 875.61 881.03 886.44 891.86 897.28" y="117.7" font-size="8.6" text-anchor="middle" font-family='"Liberation Serif", serif' fill="#1a1a1a">TTCCACCACCACCG··············CTGCGACCACCACCACTACATCACCAT</text>
<text x="604.71 610.13 615.54 620.96 626.38 631.80 637.22 642.63 648.05 653.47 658.89 664.31 669.72 675.14 680.56 685.98 691.40 696.81 702.23 707.65 713.07 718.49 723.90 729.32 734.74 740.16 745.58 751.00 756.41 761.83 767.25 772.67 778.08 783.50 788.92 794.34 799.76 805.17 810.59 816.01 821.43 826.85 832.26 837.68 843.10 848.52 853.94 859.35 864.77 870.19 875.61 881.03 886.44 891.86 897.28" y="130.2" font-size="8.6" text-anchor="middle" font-family='"Liberation Serif", serif' fill="#1a1a1a">TTCCACCACCACCG··············CTGCCACCACCACCACTACATCACCAT</text>
<text x="604.71 610.13 615.54 620.96 626.38 631.80 637.22 642.63 648.05 653.47 658.89 664.31 669.72 675.14 680.56 685.98 691.40 696.81 702.23 707.65 713.07 718.49 723.90 729.32 734.74 740.16 745.58 751.00 756.41 761.83 767.25 772.67 778.08 783.50 788.92 794.34 799.76 805.17 810.59 816.01 821.43 826.85 832.26 837.68 843.10 848.52 853.94 859.35 864.77 870.19 875.61 881.03 886.44 891.86 897.28" y="142.5" font-size="8.6" text-anchor="middle" font-family='"Liberation Serif", serif' fill="#1a1a1a">TTCCACCACCACCATTACTACACCACCATTGCGACCACCACCACTACATCACCAT</text>
<text x="684.5" y="26" font-size="6" fill="#222" font-weight="bold" font-style="normal" text-anchor="middle" font-family='"Liberation Sans", "DejaVu Sans", sans-serif' >-761bp</text>
<text x="753.6" y="26" font-size="6" fill="#222" font-weight="bold" font-style="normal" text-anchor="middle" font-family='"Liberation Sans", "DejaVu Sans", sans-serif' >-747bp</text>
<text x="484.5" y="40.2" font-size="9.0" fill="#333" font-weight="normal" font-style="normal" text-anchor="start" font-family='"Liberation Sans", "DejaVu Sans", sans-serif' textLength="116.0" lengthAdjust="spacingAndGlyphs"><tspan font-style="italic">C.sinensis</tspan> var. <tspan font-style="italic">sinensis</tspan> ‘LJ43’</text>
<text x="488.1" y="53.0" font-size="9.0" fill="#333" font-weight="normal" font-style="normal" text-anchor="start" font-family='"Liberation Sans", "DejaVu Sans", sans-serif' textLength="112.4" lengthAdjust="spacingAndGlyphs"><tspan font-style="italic">C.sinensis</tspan> var. <tspan font-style="italic">sinensis</tspan> ‘SCZ’</text>
<text x="478.4" y="65.7" font-size="9.0" fill="#333" font-weight="normal" font-style="normal" text-anchor="start" font-family='"Liberation Sans", "DejaVu Sans", sans-serif' textLength="122.1" lengthAdjust="spacingAndGlyphs"><tspan font-style="italic">C.sinensis</tspan> var. <tspan font-style="italic">assamica</tspan> ‘YK10’</text>
<text x="481.5" y="78.5" font-size="9.0" fill="#333" font-weight="normal" font-style="normal" text-anchor="start" font-family='"Liberation Sans", "DejaVu Sans", sans-serif' textLength="119.0" lengthAdjust="spacingAndGlyphs"><tspan font-style="italic">C.sinensis</tspan> var. <tspan font-style="italic">assamica</tspan> ‘YH9’</text>
<text x="488.1" y="91.2" font-size="9.0" fill="#333" font-weight="normal" font-style="normal" text-anchor="start" font-family='"Liberation Sans", "DejaVu Sans", sans-serif' textLength="112.4" lengthAdjust="spacingAndGlyphs"><tspan font-style="italic">C.sinensis</tspan> var. <tspan font-style="italic">assamica</tspan> ‘ZJ’</text>
<text x="573.0" y="105.8" font-size="9.0" fill="#333" font-weight="normal" font-style="normal" text-anchor="start" font-family='"Liberation Sans", "DejaVu Sans", sans-serif' textLength="27.5" lengthAdjust="spacingAndGlyphs">MHLC</text>
<text x="544.4" y="118.0" font-size="9.0" fill="#333" font-weight="normal" font-style="normal" text-anchor="start" font-family='"Liberation Sans", "DejaVu Sans", sans-serif' textLength="56.1" lengthAdjust="spacingAndGlyphs"><tspan font-style="italic">C.tetracocca</tspan></text>
<text x="507.7" y="130.5" font-size="9.0" fill="#333" font-weight="normal" font-style="normal" text-anchor="start" font-family='"Liberation Sans", "DejaVu Sans", sans-serif' textLength="92.8" lengthAdjust="spacingAndGlyphs"><tspan font-style="italic">C.tachongensis</tspan> ‘XY6a’</text>
<text x="522.4" y="142.79999999999998" font-size="9.2" fill="#7b2490" font-weight="bold" font-style="italic" text-anchor="start" font-family='"Liberation Sans", "DejaVu Sans", sans-serif' textLength="78.1" lengthAdjust="spacingAndGlyphs">C.fangchengensis</text>
<text x="474.3" y="63.5" font-size="7.4" fill="#222" font-weight="bold" font-style="normal" text-anchor="middle" font-family='"Liberation Sans", "DejaVu Sans", sans-serif' transform="rotate(-90 474.3 63.5)" textLength="57.5" lengthAdjust="spacingAndGlyphs">mordern cultivars</text>
<text x="474.3" y="122.8" font-size="7.4" fill="#222" font-weight="bold" font-style="normal" text-anchor="middle" font-family='"Liberation Sans", "DejaVu Sans", sans-serif' transform="rotate(-90 474.3 122.8)" textLength="48.9" lengthAdjust="spacingAndGlyphs">Wild resources</text>
<line x1="476.2" y1="33.6" x2="476.2" y2="93" stroke="#555" stroke-width="0.8"/>
<line x1="476.2" y1="98.4" x2="476.2" y2="147.3" stroke="#555" stroke-width="0.8"/>
<circle cx="30.8" cy="262.2" r="7.7" fill="#eee9f2"/>
<text x="30.8" y="263.1" font-size="5.4" font-weight="bold" text-anchor="middle" font-family='"Liberation Sans", "DejaVu Sans", sans-serif' fill="#111" textLength="10.5" lengthAdjust="spacingAndGlyphs">0.26</text>
<circle cx="46.4" cy="262.2" r="7.7" fill="#e8e0ee"/>
<text x="46.4" y="263.1" font-size="5.4" font-weight="bold" text-anchor="middle" font-family='"Liberation Sans", "DejaVu Sans", sans-serif' fill="#111" textLength="10.5" lengthAdjust="spacingAndGlyphs">0.38</text>
<circle cx="62.0" cy="262.2" r="7.7" fill="#b794cb"/>
<text x="62.0" y="263.1" font-size="5.4" font-weight="bold" text-anchor="middle" font-family='"Liberation Sans", "DejaVu Sans", sans-serif' fill="#111" textLength="10.5" lengthAdjust="spacingAndGlyphs">0.66</text>
<circle cx="77.6" cy="262.2" r="7.7" fill="#d3c1e0"/>
<text x="77.6" y="263.1" font-size="5.4" font-weight="bold" text-anchor="middle" font-family='"Liberation Sans", "DejaVu Sans", sans-serif' fill="#111" textLength="10.5" lengthAdjust="spacingAndGlyphs">0.57</text>
<circle cx="93.2" cy="262.2" r="7.7" fill="#e7dfed"/>
<text x="93.2" y="263.1" font-size="5.4" font-weight="bold" text-anchor="middle" font-family='"Liberation Sans", "DejaVu Sans", sans-serif' fill="#111" textLength="10.5" lengthAdjust="spacingAndGlyphs">0.39</text>
<circle cx="108.8" cy="262.2" r="7.7" fill="#e3d9eb"/>
<text x="108.8" y="263.1" font-size="5.4" font-weight="bold" text-anchor="middle" font-family='"Liberation Sans", "DejaVu Sans", sans-serif' fill="#111" textLength="10.5" lengthAdjust="spacingAndGlyphs">0.46</text>
<circle cx="124.4" cy="262.2" r="7.7" fill="#e0d5e9"/>
<text x="124.4" y="263.1" font-size="5.4" font-weight="bold" text-anchor="middle" font-family='"Liberation Sans", "DejaVu Sans", sans-serif' fill="#111" textLength="10.5" lengthAdjust="spacingAndGlyphs">0.50</text>
<circle cx="140.0" cy="262.2" r="7.7" fill="#e3daeb"/>
<text x="140.0" y="263.1" font-size="5.4" font-weight="bold" text-anchor="middle" font-family='"Liberation Sans", "DejaVu Sans", sans-serif' fill="#111" textLength="10.5" lengthAdjust="spacingAndGlyphs">0.64</text>
<text x="0" y="0" font-size="8.6" fill="#222" font-family='"Liberation Sans", "DejaVu Sans", sans-serif' transform="translate(150.2 265.2) scale(0.84 1)">PAL</text>
<circle cx="30.8" cy="278.0" r="7.7" fill="#a274bb"/>
<text x="30.8" y="278.9" font-size="5.4" font-weight="bold" text-anchor="middle" font-family='"Liberation Sans", "DejaVu Sans", sans-serif' fill="#111" textLength="10.5" lengthAdjust="spacingAndGlyphs">0.73</text>
<text x="30.8" y="284.4" font-size="5" text-anchor="middle" font-family='"Liberation Sans", "DejaVu Sans", sans-serif' fill="#fff" font-weight="bold">* *</text>
<circle cx="46.4" cy="278.0" r="7.7" fill="#ebeee2"/>
<text x="46.4" y="278.9" font-size="5.4" font-weight="bold" text-anchor="middle" font-family='"Liberation Sans", "DejaVu Sans", sans-serif' fill="#111" textLength="12.2" lengthAdjust="spacingAndGlyphs">-0.17</text>
<circle cx="62.0" cy="278.0" r="7.7" fill="#f7f7f8"/>
<text x="62.0" y="278.9" font-size="5.4" font-weight="bold" text-anchor="middle" font-family='"Liberation Sans", "DejaVu Sans", sans-serif' fill="#111" textLength="10.5" lengthAdjust="spacingAndGlyphs">0.02</text>
<circle cx="77.6" cy="278.0" r="7.7" fill="#e1d6e9"/>
<text x="77.6" y="278.9" font-size="5.4" font-weight="bold" text-anchor="middle" font-family='"Liberation Sans", "DejaVu Sans", sans-serif' fill="#111" textLength="10.5" lengthAdjust="spacingAndGlyphs">0.49</text>
<circle cx="93.2" cy="278.0" r="7.7" fill="#e9e2ef"/>
<text x="93.2" y="278.9" font-size="5.4" font-weight="bold" text-anchor="middle" font-family='"Liberation Sans", "DejaVu Sans", sans-serif' fill="#111" textLength="10.5" lengthAdjust="spacingAndGlyphs">0.36</text>
<circle cx="108.8" cy="278.0" r="7.7" fill="#8ca45e"/>
<text x="108.8" y="278.9" font-size="5.4" font-weight="bold" text-anchor="middle" font-family='"Liberation Sans", "DejaVu Sans", sans-serif' fill="#111" textLength="12.2" lengthAdjust="spacingAndGlyphs">-0.75</text>
<text x="108.8" y="284.4" font-size="5" text-anchor="middle" font-family='"Liberation Sans", "DejaVu Sans", sans-serif' fill="#fff" font-weight="bold">* *</text>
<circle cx="124.4" cy="278.0" r="7.7" fill="#96ab69"/>
<text x="124.4" y="278.9" font-size="5.4" font-weight="bold" text-anchor="middle" font-family='"Liberation Sans", "DejaVu Sans", sans-serif' fill="#111" textLength="12.2" lengthAdjust="spacingAndGlyphs">-0.71</text>
<text x="124.4" y="284.4" font-size="5" text-anchor="middle" font-family='"Liberation Sans", "DejaVu Sans", sans-serif' fill="#fff" font-weight="bold">*</text>
<circle cx="140.0" cy="278.0" r="7.7" fill="#98ad6c"/>
<text x="140.0" y="278.9" font-size="5.4" font-weight="bold" text-anchor="middle" font-family='"Liberation Sans", "DejaVu Sans", sans-serif' fill="#111" textLength="12.2" lengthAdjust="spacingAndGlyphs">-0.70</text>
<text x="140.0" y="284.4" font-size="5" text-anchor="middle" font-family='"Liberation Sans", "DejaVu Sans", sans-serif' fill="#fff" font-weight="bold">*</text>
<text x="0" y="0" font-size="8.6" fill="#222" font-family='"Liberation Sans", "DejaVu Sans", sans-serif' transform="translate(150.2 281.0) scale(0.84 1)">C4H</text>
<circle cx="30.8" cy="293.8" r="7.7" fill="#5d1d7d"/>
<text x="30.8" y="294.7" font-size="5.4" font-weight="bold" text-anchor="middle" font-family='"Liberation Sans", "DejaVu Sans", sans-serif' fill="#111" textLength="10.5" lengthAdjust="spacingAndGlyphs">0.99</text>
<text x="30.8" y="300.2" font-size="5" text-anchor="middle" font-family='"Liberation Sans", "DejaVu Sans", sans-serif' fill="#fff" font-weight="bold">* * *</text>
<circle cx="46.4" cy="293.8" r="7.7" fill="#ccd5b5"/>
<text x="46.4" y="294.7" font-size="5.4" font-weight="bold" text-anchor="middle" font-family='"Liberation Sans", "DejaVu Sans", sans-serif' fill="#111" textLength="12.2" lengthAdjust="spacingAndGlyphs">-0.46</text>
<circle cx="62.0" cy="293.8" r="7.7" fill="#d3c1e0"/>
<text x="62.0" y="294.7" font-size="5.4" font-weight="bold" text-anchor="middle" font-family='"Liberation Sans", "DejaVu Sans", sans-serif' fill="#111" textLength="10.5" lengthAdjust="spacingAndGlyphs">0.57</text>
<circle cx="77.6" cy="293.8" r="7.7" fill="#743595"/>
<text x="77.6" y="294.7" font-size="5.4" font-weight="bold" text-anchor="middle" font-family='"Liberation Sans", "DejaVu Sans", sans-serif' fill="#111" textLength="10.5" lengthAdjust="spacingAndGlyphs">0.92</text>
<text x="77.6" y="300.2" font-size="5" text-anchor="middle" font-family='"Liberation Sans", "DejaVu Sans", sans-serif' fill="#fff" font-weight="bold">* * *</text>
<circle cx="93.2" cy="293.8" r="7.7" fill="#874ea6"/>
<text x="93.2" y="294.7" font-size="5.4" font-weight="bold" text-anchor="middle" font-family='"Liberation Sans", "DejaVu Sans", sans-serif' fill="#111" textLength="10.5" lengthAdjust="spacingAndGlyphs">0.85</text>
<text x="93.2" y="300.2" font-size="5" text-anchor="middle" font-family='"Liberation Sans", "DejaVu Sans", sans-serif' fill="#fff" font-weight="bold">* * *</text>
<circle cx="108.8" cy="293.8" r="7.7" fill="#96ab69"/>
<text x="108.8" y="294.7" font-size="5.4" font-weight="bold" text-anchor="middle" font-family='"Liberation Sans", "DejaVu Sans", sans-serif' fill="#111" textLength="12.2" lengthAdjust="spacingAndGlyphs">-0.71</text>
<text x="108.8" y="300.2" font-size="5" text-anchor="middle" font-family='"Liberation Sans", "DejaVu Sans", sans-serif' fill="#fff" font-weight="bold">*</text>
<circle cx="124.4" cy="293.8" r="7.7" fill="#b6c596"/>
<text x="124.4" y="294.7" font-size="5.4" font-weight="bold" text-anchor="middle" font-family='"Liberation Sans", "DejaVu Sans", sans-serif' fill="#111" textLength="12.2" lengthAdjust="spacingAndGlyphs">-0.58</text>
<circle cx="140.0" cy="293.8" r="7.7" fill="#c2cea7"/>
<text x="140.0" y="294.7" font-size="5.4" font-weight="bold" text-anchor="middle" font-family='"Liberation Sans", "DejaVu Sans", sans-serif' fill="#111" textLength="12.2" lengthAdjust="spacingAndGlyphs">-0.52</text>
<text x="0" y="0" font-size="8.6" fill="#222" font-family='"Liberation Sans", "DejaVu Sans", sans-serif' transform="translate(150.2 296.8) scale(0.84 1)">4CL</text>
<circle cx="30.8" cy="309.5" r="7.7" fill="#d7dec6"/>
<text x="30.8" y="310.4" font-size="5.4" font-weight="bold" text-anchor="middle" font-family='"Liberation Sans", "DejaVu Sans", sans-serif' fill="#111" textLength="12.2" lengthAdjust="spacingAndGlyphs">-0.38</text>
<circle cx="46.4" cy="309.5" r="7.7" fill="#9a68b5"/>
<text x="46.4" y="310.4" font-size="5.4" font-weight="bold" text-anchor="middle" font-family='"Liberation Sans", "DejaVu Sans", sans-serif' fill="#111" textLength="10.5" lengthAdjust="spacingAndGlyphs">0.77</text>
<text x="46.4" y="315.9" font-size="5" text-anchor="middle" font-family='"Liberation Sans", "DejaVu Sans", sans-serif' fill="#fff" font-weight="bold">* *</text>
<circle cx="62.0" cy="309.5" r="7.7" fill="#f0ecf3"/>
<text x="62.0" y="310.4" font-size="5.4" font-weight="bold" text-anchor="middle" font-family='"Liberation Sans", "DejaVu Sans", sans-serif' fill="#111" textLength="10.5" lengthAdjust="spacingAndGlyphs">0.21</text>
<circle cx="77.6" cy="309.5" r="7.7" fill="#f1f2eb"/>
<text x="77.6" y="310.4" font-size="5.4" font-weight="bold" text-anchor="middle" font-family='"Liberation Sans", "DejaVu Sans", sans-serif' fill="#111" textLength="12.2" lengthAdjust="spacingAndGlyphs">-0.07</text>
<circle cx="93.2" cy="309.5" r="7.7" fill="#e5eadb"/>
<text x="93.2" y="310.4" font-size="5.4" font-weight="bold" text-anchor="middle" font-family='"Liberation Sans", "DejaVu Sans", sans-serif' fill="#111" textLength="12.2" lengthAdjust="spacingAndGlyphs">-0.25</text>
<circle cx="108.8" cy="309.5" r="7.7" fill="#9866b3"/>
<text x="108.8" y="310.4" font-size="5.4" font-weight="bold" text-anchor="middle" font-family='"Liberation Sans", "DejaVu Sans", sans-serif' fill="#111" textLength="10.5" lengthAdjust="spacingAndGlyphs">0.78</text>
<text x="108.8" y="315.9" font-size="5" text-anchor="middle" font-family='"Liberation Sans", "DejaVu Sans", sans-serif' fill="#fff" font-weight="bold">* *</text>
<circle cx="124.4" cy="309.5" r="7.7" fill="#8c55aa"/>
<text x="124.4" y="310.4" font-size="5.4" font-weight="bold" text-anchor="middle" font-family='"Liberation Sans", "DejaVu Sans", sans-serif' fill="#111" textLength="10.5" lengthAdjust="spacingAndGlyphs">0.83</text>
<text x="124.4" y="315.9" font-size="5" text-anchor="middle" font-family='"Liberation Sans", "DejaVu Sans", sans-serif' fill="#fff" font-weight="bold">* *</text>
<circle cx="140.0" cy="309.5" r="7.7" fill="#915cae"/>
<text x="140.0" y="310.4" font-size="5.4" font-weight="bold" text-anchor="middle" font-family='"Liberation Sans", "DejaVu Sans", sans-serif' fill="#111" textLength="10.5" lengthAdjust="spacingAndGlyphs">0.81</text>
<text x="140.0" y="315.9" font-size="5" text-anchor="middle" font-family='"Liberation Sans", "DejaVu Sans", sans-serif' fill="#fff" font-weight="bold">* *</text>
<text x="0" y="0" font-size="8.6" fill="#222" font-family='"Liberation Sans", "DejaVu Sans", sans-serif' transform="translate(150.2 312.5) scale(0.84 1)">CHS</text>
<circle cx="30.8" cy="325.3" r="7.7" fill="#ebeee2"/>
<text x="30.8" y="326.2" font-size="5.4" font-weight="bold" text-anchor="middle" font-family='"Liberation Sans", "DejaVu Sans", sans-serif' fill="#111" textLength="12.2" lengthAdjust="spacingAndGlyphs">-0.17</text>
<circle cx="46.4" cy="325.3" r="7.7" fill="#dce3ce"/>
<text x="46.4" y="326.2" font-size="5.4" font-weight="bold" text-anchor="middle" font-family='"Liberation Sans", "DejaVu Sans", sans-serif' fill="#111" textLength="12.2" lengthAdjust="spacingAndGlyphs">-0.34</text>
<circle cx="62.0" cy="325.3" r="7.7" fill="#e4daeb"/>
<text x="62.0" y="326.2" font-size="5.4" font-weight="bold" text-anchor="middle" font-family='"Liberation Sans", "DejaVu Sans", sans-serif' fill="#111" textLength="10.5" lengthAdjust="spacingAndGlyphs">0.44</text>
<circle cx="77.6" cy="325.3" r="7.7" fill="#f5f3f6"/>
<text x="77.6" y="326.2" font-size="5.4" font-weight="bold" text-anchor="middle" font-family='"Liberation Sans", "DejaVu Sans", sans-serif' fill="#111" textLength="10.5" lengthAdjust="spacingAndGlyphs">0.09</text>
<circle cx="93.2" cy="325.3" r="7.7" fill="#eae3ef"/>
<text x="93.2" y="326.2" font-size="5.4" font-weight="bold" text-anchor="middle" font-family='"Liberation Sans", "DejaVu Sans", sans-serif' fill="#111" textLength="10.5" lengthAdjust="spacingAndGlyphs">0.34</text>
<circle cx="108.8" cy="325.3" r="7.7" fill="#e6deed"/>
<text x="108.8" y="326.2" font-size="5.4" font-weight="bold" text-anchor="middle" font-family='"Liberation Sans", "DejaVu Sans", sans-serif' fill="#111" textLength="10.5" lengthAdjust="spacingAndGlyphs">0.40</text>
<circle cx="124.4" cy="325.3" r="7.7" fill="#e3d9eb"/>
<text x="124.4" y="326.2" font-size="5.4" font-weight="bold" text-anchor="middle" font-family='"Liberation Sans", "DejaVu Sans", sans-serif' fill="#111" textLength="10.5" lengthAdjust="spacingAndGlyphs">0.46</text>
<circle cx="140.0" cy="325.3" r="7.7" fill="#e1d7ea"/>
<text x="140.0" y="326.2" font-size="5.4" font-weight="bold" text-anchor="middle" font-family='"Liberation Sans", "DejaVu Sans", sans-serif' fill="#111" textLength="10.5" lengthAdjust="spacingAndGlyphs">0.48</text>
<text x="0" y="0" font-size="8.6" fill="#222" font-family='"Liberation Sans", "DejaVu Sans", sans-serif' transform="translate(150.2 328.3) scale(0.84 1)">CHI</text>
<circle cx="30.8" cy="341.1" r="7.7" fill="#f4f4ef"/>
<text x="30.8" y="342.0" font-size="5.4" font-weight="bold" text-anchor="middle" font-family='"Liberation Sans", "DejaVu Sans", sans-serif' fill="#111" textLength="12.2" lengthAdjust="spacingAndGlyphs">-0.03</text>
<circle cx="46.4" cy="341.1" r="7.7" fill="#8ea561"/>
<text x="46.4" y="342.0" font-size="5.4" font-weight="bold" text-anchor="middle" font-family='"Liberation Sans", "DejaVu Sans", sans-serif' fill="#111" textLength="12.2" lengthAdjust="spacingAndGlyphs">-0.74</text>
<text x="46.4" y="347.5" font-size="5" text-anchor="middle" font-family='"Liberation Sans", "DejaVu Sans", sans-serif' fill="#fff" font-weight="bold">* *</text>
<circle cx="62.0" cy="341.1" r="7.7" fill="#ebeee2"/>
<text x="62.0" y="342.0" font-size="5.4" font-weight="bold" text-anchor="middle" font-family='"Liberation Sans", "DejaVu Sans", sans-serif' fill="#111" textLength="12.2" lengthAdjust="spacingAndGlyphs">-0.17</text>
<circle cx="77.6" cy="341.1" r="7.7" fill="#eaede1"/>
<text x="77.6" y="342.0" font-size="5.4" font-weight="bold" text-anchor="middle" font-family='"Liberation Sans", "DejaVu Sans", sans-serif' fill="#111" textLength="12.2" lengthAdjust="spacingAndGlyphs">-0.18</text>
<circle cx="93.2" cy="341.1" r="7.7" fill="#f5f3f6"/>
<text x="93.2" y="342.0" font-size="5.4" font-weight="bold" text-anchor="middle" font-family='"Liberation Sans", "DejaVu Sans", sans-serif' fill="#111" textLength="10.5" lengthAdjust="spacingAndGlyphs">0.09</text>
<circle cx="108.8" cy="341.1" r="7.7" fill="#dce3ce"/>
<text x="108.8" y="342.0" font-size="5.4" font-weight="bold" text-anchor="middle" font-family='"Liberation Sans", "DejaVu Sans", sans-serif' fill="#111" textLength="12.2" lengthAdjust="spacingAndGlyphs">-0.34</text>
<circle cx="124.4" cy="341.1" r="7.7" fill="#d3dbbf"/>
<text x="124.4" y="342.0" font-size="5.4" font-weight="bold" text-anchor="middle" font-family='"Liberation Sans", "DejaVu Sans", sans-serif' fill="#111" textLength="12.2" lengthAdjust="spacingAndGlyphs">-0.41</text>
<circle cx="140.0" cy="341.1" r="7.7" fill="#d5ddc4"/>
<text x="140.0" y="342.0" font-size="5.4" font-weight="bold" text-anchor="middle" font-family='"Liberation Sans", "DejaVu Sans", sans-serif' fill="#111" textLength="12.2" lengthAdjust="spacingAndGlyphs">-0.39</text>
<text x="0" y="0" font-size="8.6" fill="#222" font-family='"Liberation Sans", "DejaVu Sans", sans-serif' transform="translate(150.2 344.1) scale(0.84 1)">FLS</text>
<circle cx="30.8" cy="356.9" r="7.7" fill="#8247a2"/>
<text x="30.8" y="357.8" font-size="5.4" font-weight="bold" text-anchor="middle" font-family='"Liberation Sans", "DejaVu Sans", sans-serif' fill="#111" textLength="10.5" lengthAdjust="spacingAndGlyphs">0.87</text>
<text x="30.8" y="363.3" font-size="5" text-anchor="middle" font-family='"Liberation Sans", "DejaVu Sans", sans-serif' fill="#fff" font-weight="bold">* * *</text>
<circle cx="46.4" cy="356.9" r="7.7" fill="#c4d0aa"/>
<text x="46.4" y="357.8" font-size="5.4" font-weight="bold" text-anchor="middle" font-family='"Liberation Sans", "DejaVu Sans", sans-serif' fill="#111" textLength="12.2" lengthAdjust="spacingAndGlyphs">-0.51</text>
<circle cx="62.0" cy="356.9" r="7.7" fill="#8247a2"/>
<text x="62.0" y="357.8" font-size="5.4" font-weight="bold" text-anchor="middle" font-family='"Liberation Sans", "DejaVu Sans", sans-serif' fill="#111" textLength="10.5" lengthAdjust="spacingAndGlyphs">0.87</text>
<text x="62.0" y="363.3" font-size="5" text-anchor="middle" font-family='"Liberation Sans", "DejaVu Sans", sans-serif' fill="#fff" font-weight="bold">* * *</text>
<circle cx="77.6" cy="356.9" r="7.7" fill="#5d1d7d"/>
<text x="77.6" y="357.8" font-size="5.4" font-weight="bold" text-anchor="middle" font-family='"Liberation Sans", "DejaVu Sans", sans-serif' fill="#111" textLength="10.5" lengthAdjust="spacingAndGlyphs">0.99</text>
<text x="77.6" y="363.3" font-size="5" text-anchor="middle" font-family='"Liberation Sans", "DejaVu Sans", sans-serif' fill="#fff" font-weight="bold">* * *</text>
<circle cx="93.2" cy="356.9" r="7.7" fill="#602181"/>
<text x="93.2" y="357.8" font-size="5.4" font-weight="bold" text-anchor="middle" font-family='"Liberation Sans", "DejaVu Sans", sans-serif' fill="#111" textLength="10.5" lengthAdjust="spacingAndGlyphs">0.98</text>
<text x="93.2" y="363.3" font-size="5" text-anchor="middle" font-family='"Liberation Sans", "DejaVu Sans", sans-serif' fill="#fff" font-weight="bold">* * *</text>
<circle cx="108.8" cy="356.9" r="7.7" fill="#d5ddc4"/>
<text x="108.8" y="357.8" font-size="5.4" font-weight="bold" text-anchor="middle" font-family='"Liberation Sans", "DejaVu Sans", sans-serif' fill="#111" textLength="12.2" lengthAdjust="spacingAndGlyphs">-0.39</text>
<circle cx="124.4" cy="356.9" r="7.7" fill="#e7eadd"/>
<text x="124.4" y="357.8" font-size="5.4" font-weight="bold" text-anchor="middle" font-family='"Liberation Sans", "DejaVu Sans", sans-serif' fill="#111" textLength="12.2" lengthAdjust="spacingAndGlyphs">-0.23</text>
<circle cx="140.0" cy="356.9" r="7.7" fill="#edefe5"/>
<text x="140.0" y="357.8" font-size="5.4" font-weight="bold" text-anchor="middle" font-family='"Liberation Sans", "DejaVu Sans", sans-serif' fill="#111" textLength="12.2" lengthAdjust="spacingAndGlyphs">-0.14</text>
<text x="0" y="0" font-size="8.6" fill="#222" font-family='"Liberation Sans", "DejaVu Sans", sans-serif' transform="translate(150.2 359.9) scale(0.84 1)">F3’H</text>
<circle cx="30.8" cy="372.7" r="7.7" fill="#f0f2ea"/>
<text x="30.8" y="373.6" font-size="5.4" font-weight="bold" text-anchor="middle" font-family='"Liberation Sans", "DejaVu Sans", sans-serif' fill="#111" textLength="12.2" lengthAdjust="spacingAndGlyphs">-0.09</text>
<circle cx="46.4" cy="372.7" r="7.7" fill="#b794cb"/>
<text x="46.4" y="373.6" font-size="5.4" font-weight="bold" text-anchor="middle" font-family='"Liberation Sans", "DejaVu Sans", sans-serif' fill="#111" textLength="10.5" lengthAdjust="spacingAndGlyphs">0.71</text>
<text x="46.4" y="379.1" font-size="5" text-anchor="middle" font-family='"Liberation Sans", "DejaVu Sans", sans-serif' fill="#fff" font-weight="bold">*</text>
<circle cx="62.0" cy="372.7" r="7.7" fill="#f0ecf3"/>
<text x="62.0" y="373.6" font-size="5.4" font-weight="bold" text-anchor="middle" font-family='"Liberation Sans", "DejaVu Sans", sans-serif' fill="#111" textLength="10.5" lengthAdjust="spacingAndGlyphs">0.22</text>
<circle cx="77.6" cy="372.7" r="7.7" fill="#eceee4"/>
<text x="77.6" y="373.6" font-size="5.4" font-weight="bold" text-anchor="middle" font-family='"Liberation Sans", "DejaVu Sans", sans-serif' fill="#111" textLength="12.2" lengthAdjust="spacingAndGlyphs">-0.15</text>
<circle cx="93.2" cy="372.7" r="7.7" fill="#e4e8d9"/>
<text x="93.2" y="373.6" font-size="5.4" font-weight="bold" text-anchor="middle" font-family='"Liberation Sans", "DejaVu Sans", sans-serif' fill="#111" textLength="12.2" lengthAdjust="spacingAndGlyphs">-0.27</text>
<circle cx="108.8" cy="372.7" r="7.7" fill="#7f43a0"/>
<text x="108.8" y="373.6" font-size="5.4" font-weight="bold" text-anchor="middle" font-family='"Liberation Sans", "DejaVu Sans", sans-serif' fill="#111" textLength="10.5" lengthAdjust="spacingAndGlyphs">0.88</text>
<text x="108.8" y="379.1" font-size="5" text-anchor="middle" font-family='"Liberation Sans", "DejaVu Sans", sans-serif' fill="#fff" font-weight="bold">* * *</text>
<circle cx="124.4" cy="372.7" r="7.7" fill="#743595"/>
<text x="124.4" y="373.6" font-size="5.4" font-weight="bold" text-anchor="middle" font-family='"Liberation Sans", "DejaVu Sans", sans-serif' fill="#111" textLength="10.5" lengthAdjust="spacingAndGlyphs">0.92</text>
<text x="124.4" y="379.1" font-size="5" text-anchor="middle" font-family='"Liberation Sans", "DejaVu Sans", sans-serif' fill="#fff" font-weight="bold">* * *</text>
<circle cx="140.0" cy="372.7" r="7.7" fill="#7a3c9c"/>
<text x="140.0" y="373.6" font-size="5.4" font-weight="bold" text-anchor="middle" font-family='"Liberation Sans", "DejaVu Sans", sans-serif' fill="#111" textLength="10.5" lengthAdjust="spacingAndGlyphs">0.90</text>
<text x="140.0" y="379.1" font-size="5" text-anchor="middle" font-family='"Liberation Sans", "DejaVu Sans", sans-serif' fill="#fff" font-weight="bold">* * *</text>
<text x="0" y="0" font-size="8.6" fill="#222" font-family='"Liberation Sans", "DejaVu Sans", sans-serif' transform="translate(150.2 375.7) scale(0.84 1)">F3’5’H</text>
<circle cx="30.8" cy="388.4" r="7.7" fill="#6e8d3e"/>
<text x="30.8" y="389.3" font-size="5.4" font-weight="bold" text-anchor="middle" font-family='"Liberation Sans", "DejaVu Sans", sans-serif' fill="#111" textLength="12.2" lengthAdjust="spacingAndGlyphs">-0.88</text>
<text x="30.8" y="394.8" font-size="5" text-anchor="middle" font-family='"Liberation Sans", "DejaVu Sans", sans-serif' fill="#fff" font-weight="bold">* * *</text>
<circle cx="46.4" cy="388.4" r="7.7" fill="#ece6f1"/>
<text x="46.4" y="389.3" font-size="5.4" font-weight="bold" text-anchor="middle" font-family='"Liberation Sans", "DejaVu Sans", sans-serif' fill="#111" textLength="10.5" lengthAdjust="spacingAndGlyphs">0.31</text>
<circle cx="62.0" cy="388.4" r="7.7" fill="#f3f4ed"/>
<text x="62.0" y="389.3" font-size="5.4" font-weight="bold" text-anchor="middle" font-family='"Liberation Sans", "DejaVu Sans", sans-serif' fill="#111" textLength="12.2" lengthAdjust="spacingAndGlyphs">-0.05</text>
<circle cx="77.6" cy="388.4" r="7.7" fill="#b2c290"/>
<text x="77.6" y="389.3" font-size="5.4" font-weight="bold" text-anchor="middle" font-family='"Liberation Sans", "DejaVu Sans", sans-serif' fill="#111" textLength="12.2" lengthAdjust="spacingAndGlyphs">-0.60</text>
<circle cx="93.2" cy="388.4" r="7.7" fill="#c9d3b1"/>
<text x="93.2" y="389.3" font-size="5.4" font-weight="bold" text-anchor="middle" font-family='"Liberation Sans", "DejaVu Sans", sans-serif' fill="#111" textLength="12.2" lengthAdjust="spacingAndGlyphs">-0.48</text>
<circle cx="108.8" cy="388.4" r="7.7" fill="#703292"/>
<text x="108.8" y="389.3" font-size="5.4" font-weight="bold" text-anchor="middle" font-family='"Liberation Sans", "DejaVu Sans", sans-serif' fill="#111" textLength="10.5" lengthAdjust="spacingAndGlyphs">0.93</text>
<text x="108.8" y="394.8" font-size="5" text-anchor="middle" font-family='"Liberation Sans", "DejaVu Sans", sans-serif' fill="#fff" font-weight="bold">* * *</text>
<circle cx="124.4" cy="388.4" r="7.7" fill="#7f43a0"/>
<text x="124.4" y="389.3" font-size="5.4" font-weight="bold" text-anchor="middle" font-family='"Liberation Sans", "DejaVu Sans", sans-serif' fill="#111" textLength="10.5" lengthAdjust="spacingAndGlyphs">0.88</text>
<text x="124.4" y="394.8" font-size="5" text-anchor="middle" font-family='"Liberation Sans", "DejaVu Sans", sans-serif' fill="#fff" font-weight="bold">* * *</text>
<circle cx="140.0" cy="388.4" r="7.7" fill="#874ea6"/>
<text x="140.0" y="389.3" font-size="5.4" font-weight="bold" text-anchor="middle" font-family='"Liberation Sans", "DejaVu Sans", sans-serif' fill="#111" textLength="10.5" lengthAdjust="spacingAndGlyphs">0.85</text>
<text x="140.0" y="394.8" font-size="5" text-anchor="middle" font-family='"Liberation Sans", "DejaVu Sans", sans-serif' fill="#fff" font-weight="bold">* * *</text>
<text x="0" y="0" font-size="8.6" fill="#222" font-family='"Liberation Sans", "DejaVu Sans", sans-serif' transform="translate(150.2 391.4) scale(0.84 1)">ANS</text>
<circle cx="30.8" cy="404.2" r="7.7" fill="#bac89c"/>
<text x="30.8" y="405.1" font-size="5.4" font-weight="bold" text-anchor="middle" font-family='"Liberation Sans", "DejaVu Sans", sans-serif' fill="#111" textLength="12.2" lengthAdjust="spacingAndGlyphs">-0.56</text>
<circle cx="46.4" cy="404.2" r="7.7" fill="#ba9ace"/>
<text x="46.4" y="405.1" font-size="5.4" font-weight="bold" text-anchor="middle" font-family='"Liberation Sans", "DejaVu Sans", sans-serif' fill="#111" textLength="10.5" lengthAdjust="spacingAndGlyphs">0.65</text>
<circle cx="62.0" cy="404.2" r="7.7" fill="#ede8f1"/>
<text x="62.0" y="405.1" font-size="5.4" font-weight="bold" text-anchor="middle" font-family='"Liberation Sans", "DejaVu Sans", sans-serif' fill="#111" textLength="10.5" lengthAdjust="spacingAndGlyphs">0.29</text>
<circle cx="77.6" cy="404.2" r="7.7" fill="#e9ecdf"/>
<text x="77.6" y="405.1" font-size="5.4" font-weight="bold" text-anchor="middle" font-family='"Liberation Sans", "DejaVu Sans", sans-serif' fill="#111" textLength="12.2" lengthAdjust="spacingAndGlyphs">-0.20</text>
<circle cx="93.2" cy="404.2" r="7.7" fill="#e4e8d9"/>
<text x="93.2" y="405.1" font-size="5.4" font-weight="bold" text-anchor="middle" font-family='"Liberation Sans", "DejaVu Sans", sans-serif' fill="#111" textLength="12.2" lengthAdjust="spacingAndGlyphs">-0.27</text>
<circle cx="108.8" cy="404.2" r="7.7" fill="#703292"/>
<text x="108.8" y="405.1" font-size="5.4" font-weight="bold" text-anchor="middle" font-family='"Liberation Sans", "DejaVu Sans", sans-serif' fill="#111" textLength="10.5" lengthAdjust="spacingAndGlyphs">0.93</text>
<text x="108.8" y="410.6" font-size="5" text-anchor="middle" font-family='"Liberation Sans", "DejaVu Sans", sans-serif' fill="#fff" font-weight="bold">* * *</text>
<circle cx="124.4" cy="404.2" r="7.7" fill="#6a2b8b"/>
<text x="124.4" y="405.1" font-size="5.4" font-weight="bold" text-anchor="middle" font-family='"Liberation Sans", "DejaVu Sans", sans-serif' fill="#111" textLength="10.5" lengthAdjust="spacingAndGlyphs">0.95</text>
<text x="124.4" y="410.6" font-size="5" text-anchor="middle" font-family='"Liberation Sans", "DejaVu Sans", sans-serif' fill="#fff" font-weight="bold">* * *</text>
<circle cx="140.0" cy="404.2" r="7.7" fill="#6d2e8e"/>
<text x="140.0" y="405.1" font-size="5.4" font-weight="bold" text-anchor="middle" font-family='"Liberation Sans", "DejaVu Sans", sans-serif' fill="#111" textLength="10.5" lengthAdjust="spacingAndGlyphs">0.94</text>
<text x="140.0" y="410.6" font-size="5" text-anchor="middle" font-family='"Liberation Sans", "DejaVu Sans", sans-serif' fill="#fff" font-weight="bold">* * *</text>
<text x="0" y="0" font-size="8.6" fill="#222" font-family='"Liberation Sans", "DejaVu Sans", sans-serif' transform="translate(150.2 407.2) scale(0.84 1)">ANR</text>
<circle cx="30.8" cy="420.0" r="7.7" fill="#9e6eb8"/>
<text x="30.8" y="420.9" font-size="5.4" font-weight="bold" text-anchor="middle" font-family='"Liberation Sans", "DejaVu Sans", sans-serif' fill="#111" textLength="10.5" lengthAdjust="spacingAndGlyphs">0.75</text>
<text x="30.8" y="426.4" font-size="5" text-anchor="middle" font-family='"Liberation Sans", "DejaVu Sans", sans-serif' fill="#fff" font-weight="bold">* *</text>
<circle cx="46.4" cy="420.0" r="7.7" fill="#eaede1"/>
<text x="46.4" y="420.9" font-size="5.4" font-weight="bold" text-anchor="middle" font-family='"Liberation Sans", "DejaVu Sans", sans-serif' fill="#111" textLength="12.2" lengthAdjust="spacingAndGlyphs">-0.18</text>
<circle cx="62.0" cy="420.0" r="7.7" fill="#9866b3"/>
<text x="62.0" y="420.9" font-size="5.4" font-weight="bold" text-anchor="middle" font-family='"Liberation Sans", "DejaVu Sans", sans-serif' fill="#111" textLength="10.5" lengthAdjust="spacingAndGlyphs">0.78</text>
<text x="62.0" y="426.4" font-size="5" text-anchor="middle" font-family='"Liberation Sans", "DejaVu Sans", sans-serif' fill="#fff" font-weight="bold">* *</text>
<circle cx="77.6" cy="420.0" r="7.7" fill="#7d409e"/>
<text x="77.6" y="420.9" font-size="5.4" font-weight="bold" text-anchor="middle" font-family='"Liberation Sans", "DejaVu Sans", sans-serif' fill="#111" textLength="10.5" lengthAdjust="spacingAndGlyphs">0.89</text>
<text x="77.6" y="426.4" font-size="5" text-anchor="middle" font-family='"Liberation Sans", "DejaVu Sans", sans-serif' fill="#fff" font-weight="bold">* * *</text>
<circle cx="93.2" cy="420.0" r="7.7" fill="#9e6eb8"/>
<text x="93.2" y="420.9" font-size="5.4" font-weight="bold" text-anchor="middle" font-family='"Liberation Sans", "DejaVu Sans", sans-serif' fill="#111" textLength="10.5" lengthAdjust="spacingAndGlyphs">0.75</text>
<text x="93.2" y="426.4" font-size="5" text-anchor="middle" font-family='"Liberation Sans", "DejaVu Sans", sans-serif' fill="#fff" font-weight="bold">* *</text>
<circle cx="108.8" cy="420.0" r="7.7" fill="#e7ebdd"/>
<text x="108.8" y="420.9" font-size="5.4" font-weight="bold" text-anchor="middle" font-family='"Liberation Sans", "DejaVu Sans", sans-serif' fill="#111" textLength="12.2" lengthAdjust="spacingAndGlyphs">-0.22</text>
<circle cx="124.4" cy="420.0" r="7.7" fill="#f2f3ec"/>
<text x="124.4" y="420.9" font-size="5.4" font-weight="bold" text-anchor="middle" font-family='"Liberation Sans", "DejaVu Sans", sans-serif' fill="#111" textLength="12.2" lengthAdjust="spacingAndGlyphs">-0.06</text>
<circle cx="140.0" cy="420.0" r="7.7" fill="#f8f7f8"/>
<text x="140.0" y="420.9" font-size="5.4" font-weight="bold" text-anchor="middle" font-family='"Liberation Sans", "DejaVu Sans", sans-serif' fill="#111" textLength="10.5" lengthAdjust="spacingAndGlyphs">0.01</text>
<text x="0" y="0" font-size="8.6" fill="#222" font-family='"Liberation Sans", "DejaVu Sans", sans-serif' transform="translate(150.2 423.0) scale(0.84 1)">LAR</text>
<circle cx="30.8" cy="435.8" r="7.7" fill="#ebe4f0"/>
<text x="30.8" y="436.7" font-size="5.4" font-weight="bold" text-anchor="middle" font-family='"Liberation Sans", "DejaVu Sans", sans-serif' fill="#111" textLength="10.5" lengthAdjust="spacingAndGlyphs">0.33</text>
<circle cx="46.4" cy="435.8" r="7.7" fill="#9460b0"/>
<text x="46.4" y="436.7" font-size="5.4" font-weight="bold" text-anchor="middle" font-family='"Liberation Sans", "DejaVu Sans", sans-serif' fill="#111" textLength="10.5" lengthAdjust="spacingAndGlyphs">0.80</text>
<text x="46.4" y="442.2" font-size="5" text-anchor="middle" font-family='"Liberation Sans", "DejaVu Sans", sans-serif' fill="#fff" font-weight="bold">* *</text>
<circle cx="62.0" cy="435.8" r="7.7" fill="#f1edf4"/>
<text x="62.0" y="436.7" font-size="5.4" font-weight="bold" text-anchor="middle" font-family='"Liberation Sans", "DejaVu Sans", sans-serif' fill="#111" textLength="10.5" lengthAdjust="spacingAndGlyphs">0.19</text>
<circle cx="77.6" cy="435.8" r="7.7" fill="#f3f4ee"/>
<text x="77.6" y="436.7" font-size="5.4" font-weight="bold" text-anchor="middle" font-family='"Liberation Sans", "DejaVu Sans", sans-serif' fill="#111" textLength="12.2" lengthAdjust="spacingAndGlyphs">-0.04</text>
<circle cx="93.2" cy="435.8" r="7.7" fill="#e6eadc"/>
<text x="93.2" y="436.7" font-size="5.4" font-weight="bold" text-anchor="middle" font-family='"Liberation Sans", "DejaVu Sans", sans-serif' fill="#111" textLength="12.2" lengthAdjust="spacingAndGlyphs">-0.24</text>
<circle cx="108.8" cy="435.8" r="7.7" fill="#a476bd"/>
<text x="108.8" y="436.7" font-size="5.4" font-weight="bold" text-anchor="middle" font-family='"Liberation Sans", "DejaVu Sans", sans-serif' fill="#111" textLength="10.5" lengthAdjust="spacingAndGlyphs">0.72</text>
<text x="108.8" y="442.2" font-size="5" text-anchor="middle" font-family='"Liberation Sans", "DejaVu Sans", sans-serif' fill="#fff" font-weight="bold">* *</text>
<circle cx="124.4" cy="435.8" r="7.7" fill="#9a68b5"/>
<text x="124.4" y="436.7" font-size="5.4" font-weight="bold" text-anchor="middle" font-family='"Liberation Sans", "DejaVu Sans", sans-serif' fill="#111" textLength="10.5" lengthAdjust="spacingAndGlyphs">0.77</text>
<text x="124.4" y="442.2" font-size="5" text-anchor="middle" font-family='"Liberation Sans", "DejaVu Sans", sans-serif' fill="#fff" font-weight="bold">* *</text>
<circle cx="140.0" cy="435.8" r="7.7" fill="#9e6eb8"/>
<text x="140.0" y="436.7" font-size="5.4" font-weight="bold" text-anchor="middle" font-family='"Liberation Sans", "DejaVu Sans", sans-serif' fill="#111" textLength="10.5" lengthAdjust="spacingAndGlyphs">0.75</text>
<text x="140.0" y="442.2" font-size="5" text-anchor="middle" font-family='"Liberation Sans", "DejaVu Sans", sans-serif' fill="#fff" font-weight="bold">* *</text>
<text x="0" y="0" font-size="8.6" fill="#222" font-family='"Liberation Sans", "DejaVu Sans", sans-serif' transform="translate(150.2 438.8) scale(0.84 1)">DFR</text>
<circle cx="30.8" cy="451.6" r="7.7" fill="#bea0d1"/>
<text x="30.8" y="452.5" font-size="5.4" font-weight="bold" text-anchor="middle" font-family='"Liberation Sans", "DejaVu Sans", sans-serif' fill="#111" textLength="10.5" lengthAdjust="spacingAndGlyphs">0.64</text>
<circle cx="46.4" cy="451.6" r="7.7" fill="#f8f7f8"/>
<text x="46.4" y="452.5" font-size="5.4" font-weight="bold" text-anchor="middle" font-family='"Liberation Sans", "DejaVu Sans", sans-serif' fill="#111" textLength="10.5" lengthAdjust="spacingAndGlyphs">0.01</text>
<circle cx="62.0" cy="451.6" r="7.7" fill="#e4e8d9"/>
<text x="62.0" y="452.5" font-size="5.4" font-weight="bold" text-anchor="middle" font-family='"Liberation Sans", "DejaVu Sans", sans-serif' fill="#111" textLength="12.2" lengthAdjust="spacingAndGlyphs">-0.27</text>
<circle cx="77.6" cy="451.6" r="7.7" fill="#f1eef4"/>
<text x="77.6" y="452.5" font-size="5.4" font-weight="bold" text-anchor="middle" font-family='"Liberation Sans", "DejaVu Sans", sans-serif' fill="#111" textLength="10.5" lengthAdjust="spacingAndGlyphs">0.18</text>
<circle cx="93.2" cy="451.6" r="7.7" fill="#f4f2f5"/>
<text x="93.2" y="452.5" font-size="5.4" font-weight="bold" text-anchor="middle" font-family='"Liberation Sans", "DejaVu Sans", sans-serif' fill="#111" textLength="10.5" lengthAdjust="spacingAndGlyphs">0.11</text>
<circle cx="108.8" cy="451.6" r="7.7" fill="#7b974c"/>
<text x="108.8" y="452.5" font-size="5.4" font-weight="bold" text-anchor="middle" font-family='"Liberation Sans", "DejaVu Sans", sans-serif' fill="#111" textLength="12.2" lengthAdjust="spacingAndGlyphs">-0.82</text>
<text x="108.8" y="458.0" font-size="5" text-anchor="middle" font-family='"Liberation Sans", "DejaVu Sans", sans-serif' fill="#fff" font-weight="bold">* *</text>
<circle cx="124.4" cy="451.6" r="7.7" fill="#7d984e"/>
<text x="124.4" y="452.5" font-size="5.4" font-weight="bold" text-anchor="middle" font-family='"Liberation Sans", "DejaVu Sans", sans-serif' fill="#111" textLength="12.2" lengthAdjust="spacingAndGlyphs">-0.81</text>
<text x="124.4" y="458.0" font-size="5" text-anchor="middle" font-family='"Liberation Sans", "DejaVu Sans", sans-serif' fill="#fff" font-weight="bold">* *</text>
<circle cx="140.0" cy="451.6" r="7.7" fill="#7b974c"/>
<text x="140.0" y="452.5" font-size="5.4" font-weight="bold" text-anchor="middle" font-family='"Liberation Sans", "DejaVu Sans", sans-serif' fill="#111" textLength="12.2" lengthAdjust="spacingAndGlyphs">-0.82</text>
<text x="140.0" y="458.0" font-size="5" text-anchor="middle" font-family='"Liberation Sans", "DejaVu Sans", sans-serif' fill="#fff" font-weight="bold">* *</text>
<text x="0" y="0" font-size="8.6" fill="#222" font-family='"Liberation Sans", "DejaVu Sans", sans-serif' transform="translate(150.2 454.6) scale(0.84 1)">SCPL4</text>
<circle cx="30.8" cy="467.3" r="7.7" fill="#c9d3b1"/>
<text x="30.8" y="468.2" font-size="5.4" font-weight="bold" text-anchor="middle" font-family='"Liberation Sans", "DejaVu Sans", sans-serif' fill="#111" textLength="12.2" lengthAdjust="spacingAndGlyphs">-0.48</text>
<circle cx="46.4" cy="467.3" r="7.7" fill="#a87cc0"/>
<text x="46.4" y="468.2" font-size="5.4" font-weight="bold" text-anchor="middle" font-family='"Liberation Sans", "DejaVu Sans", sans-serif' fill="#111" textLength="10.5" lengthAdjust="spacingAndGlyphs">0.70</text>
<text x="46.4" y="473.7" font-size="5" text-anchor="middle" font-family='"Liberation Sans", "DejaVu Sans", sans-serif' fill="#fff" font-weight="bold">*</text>
<circle cx="62.0" cy="467.3" r="7.7" fill="#efeaf2"/>
<text x="62.0" y="468.2" font-size="5.4" font-weight="bold" text-anchor="middle" font-family='"Liberation Sans", "DejaVu Sans", sans-serif' fill="#111" textLength="10.5" lengthAdjust="spacingAndGlyphs">0.24</text>
<circle cx="77.6" cy="467.3" r="7.7" fill="#e9ece0"/>
<text x="77.6" y="468.2" font-size="5.4" font-weight="bold" text-anchor="middle" font-family='"Liberation Sans", "DejaVu Sans", sans-serif' fill="#111" textLength="12.2" lengthAdjust="spacingAndGlyphs">-0.19</text>
<circle cx="93.2" cy="467.3" r="7.7" fill="#e5eadb"/>
<text x="93.2" y="468.2" font-size="5.4" font-weight="bold" text-anchor="middle" font-family='"Liberation Sans", "DejaVu Sans", sans-serif' fill="#111" textLength="12.2" lengthAdjust="spacingAndGlyphs">-0.25</text>
<circle cx="108.8" cy="467.3" r="7.7" fill="#7f43a0"/>
<text x="108.8" y="468.2" font-size="5.4" font-weight="bold" text-anchor="middle" font-family='"Liberation Sans", "DejaVu Sans", sans-serif' fill="#111" textLength="10.5" lengthAdjust="spacingAndGlyphs">0.88</text>
<text x="108.8" y="473.7" font-size="5" text-anchor="middle" font-family='"Liberation Sans", "DejaVu Sans", sans-serif' fill="#fff" font-weight="bold">* * *</text>
<circle cx="124.4" cy="467.3" r="7.7" fill="#743595"/>
<text x="124.4" y="468.2" font-size="5.4" font-weight="bold" text-anchor="middle" font-family='"Liberation Sans", "DejaVu Sans", sans-serif' fill="#111" textLength="10.5" lengthAdjust="spacingAndGlyphs">0.92</text>
<text x="124.4" y="473.7" font-size="5" text-anchor="middle" font-family='"Liberation Sans", "DejaVu Sans", sans-serif' fill="#fff" font-weight="bold">* * *</text>
<circle cx="140.0" cy="467.3" r="7.7" fill="#703292"/>
<text x="140.0" y="468.2" font-size="5.4" font-weight="bold" text-anchor="middle" font-family='"Liberation Sans", "DejaVu Sans", sans-serif' fill="#111" textLength="10.5" lengthAdjust="spacingAndGlyphs">0.93</text>
<text x="140.0" y="473.7" font-size="5" text-anchor="middle" font-family='"Liberation Sans", "DejaVu Sans", sans-serif' fill="#fff" font-weight="bold">* * *</text>
<text x="0" y="0" font-size="8.6" fill="#222" font-family='"Liberation Sans", "DejaVu Sans", sans-serif' transform="translate(150.2 470.3) scale(0.84 1)">SCPL5</text>
<text x="40.5" y="253.3" font-size="10.2" fill="#222" font-weight="bold" font-style="normal" text-anchor="start" font-family='"Liberation Sans", "DejaVu Sans", sans-serif' textLength="93.5" lengthAdjust="spacingAndGlyphs">Correlation heatmap</text>
<defs><linearGradient id="cbar" x1="0" y1="0" x2="0" y2="1">
<stop offset="0" stop-color="#7a48a2"/><stop offset="0.25" stop-color="#c6a8da"/><stop offset="0.5" stop-color="#f8f8f8"/>
<stop offset="0.75" stop-color="#c8d4ae"/><stop offset="1" stop-color="#6a8a36"/></linearGradient></defs>
<rect x="175.8" y="256.2" width="7.8" height="73.2" fill="url(#cbar)"/>
<text x="185.2" y="276.3" font-size="8" fill="#222" font-weight="normal" font-style="normal" text-anchor="start" font-family='"Liberation Sans", "DejaVu Sans", sans-serif' >0.5</text>
<text x="186.8" y="296.5" font-size="8" fill="#222" font-weight="normal" font-style="normal" text-anchor="start" font-family='"Liberation Sans", "DejaVu Sans", sans-serif' >0</text>
<text x="184.2" y="315.4" font-size="8" fill="#222" font-weight="normal" font-style="normal" text-anchor="start" font-family='"Liberation Sans", "DejaVu Sans", sans-serif' >-0.5</text>
<text x="0" y="0" font-size="8.2" text-anchor="end" font-family='"Liberation Sans", "DejaVu Sans", sans-serif' fill="#222" font-weight="normal" transform="translate(33.6 478) rotate(-90) scale(0.8 1)">C</text>
<text x="0" y="0" font-size="8.2" text-anchor="end" font-family='"Liberation Sans", "DejaVu Sans", sans-serif' fill="#222" font-weight="bold" transform="translate(49.2 478) rotate(-90) scale(0.8 1)">EC</text>
<text x="0" y="0" font-size="8.2" text-anchor="end" font-family='"Liberation Sans", "DejaVu Sans", sans-serif' fill="#222" font-weight="normal" transform="translate(64.8 478) rotate(-90) scale(0.8 1)">ECG</text>
<text x="0" y="0" font-size="8.2" text-anchor="end" font-family='"Liberation Sans", "DejaVu Sans", sans-serif' fill="#222" font-weight="bold" transform="translate(80.4 478) rotate(-90) scale(0.8 1)">Di.</text>
<text x="0" y="0" font-size="8.2" text-anchor="end" font-family='"Liberation Sans", "DejaVu Sans", sans-serif' fill="#222" font-weight="normal" transform="translate(96.0 478) rotate(-90) scale(0.8 1)">GC</text>
<text x="0" y="0" font-size="8.2" text-anchor="end" font-family='"Liberation Sans", "DejaVu Sans", sans-serif' fill="#222" font-weight="bold" transform="translate(111.6 478) rotate(-90) scale(0.8 1)">EGC</text>
<text x="0" y="0" font-size="8.2" text-anchor="end" font-family='"Liberation Sans", "DejaVu Sans", sans-serif' fill="#222" font-weight="normal" transform="translate(127.2 478) rotate(-90) scale(0.8 1)">EGCG</text>
<text x="0" y="0" font-size="8.2" text-anchor="end" font-family='"Liberation Sans", "DejaVu Sans", sans-serif' fill="#222" font-weight="bold" transform="translate(142.8 478) rotate(-90) scale(0.8 1)">Tri.</text>
<text x="26" y="502.3" font-size="6.2" fill="#333" font-weight="normal" font-style="normal" text-anchor="start" font-family='"Liberation Sans", "DejaVu Sans", sans-serif' textLength="154" lengthAdjust="spacingAndGlyphs">Di.: dihydroxylated catechin   Tri.: trihydroxylated catechin</text>
<rect x="253.0" y="254.60" width="25.3" height="9.19" fill="#7c3e9b"/>
<rect x="278.0" y="254.60" width="25.3" height="9.19" fill="#dee5cc"/>
<rect x="303.0" y="254.60" width="25.3" height="9.19" fill="#f3f3ee"/>
<rect x="328.0" y="254.60" width="25.3" height="9.19" fill="#aabd7d"/>
<text x="355.0" y="261.1" font-size="7.7" fill="#111" font-weight="bold" font-style="normal" text-anchor="start" font-family='"Liberation Sans", "DejaVu Sans", sans-serif' textLength="40.2" lengthAdjust="spacingAndGlyphs">CSS0018870</text>
<rect x="253.0" y="263.49" width="25.3" height="9.19" fill="#dee5cc"/>
<rect x="278.0" y="263.49" width="25.3" height="9.19" fill="#7c3e9b"/>
<rect x="303.0" y="263.49" width="25.3" height="9.19" fill="#cad6ab"/>
<rect x="328.0" y="263.49" width="25.3" height="9.19" fill="#dee5cc"/>
<text x="355.0" y="269.992" font-size="7.7" fill="#111" font-weight="bold" font-style="normal" text-anchor="start" font-family='"Liberation Sans", "DejaVu Sans", sans-serif' textLength="40.2" lengthAdjust="spacingAndGlyphs">CSS0021474</text>
<rect x="253.0" y="272.38" width="25.3" height="9.19" fill="#c0a0d2"/>
<rect x="278.0" y="272.38" width="25.3" height="9.19" fill="#aabd7d"/>
<rect x="303.0" y="272.38" width="25.3" height="9.19" fill="#9565b2"/>
<rect x="328.0" y="272.38" width="25.3" height="9.19" fill="#aabd7d"/>
<text x="355.0" y="278.884" font-size="7.7" fill="#111" font-weight="bold" font-style="normal" text-anchor="start" font-family='"Liberation Sans", "DejaVu Sans", sans-serif' textLength="40.2" lengthAdjust="spacingAndGlyphs">CSS0005999</text>
<rect x="253.0" y="281.28" width="25.3" height="9.19" fill="#7c3e9b"/>
<rect x="278.0" y="281.28" width="25.3" height="9.19" fill="#dee5cc"/>
<rect x="303.0" y="281.28" width="25.3" height="9.19" fill="#dee5cc"/>
<rect x="328.0" y="281.28" width="25.3" height="9.19" fill="#dee5cc"/>
<text x="355.0" y="287.776" font-size="7.7" fill="#111" font-weight="bold" font-style="normal" text-anchor="start" font-family='"Liberation Sans", "DejaVu Sans", sans-serif' textLength="40.2" lengthAdjust="spacingAndGlyphs">CSS0011139</text>
<rect x="253.0" y="290.17" width="25.3" height="9.19" fill="#7c3e9b"/>
<rect x="278.0" y="290.17" width="25.3" height="9.19" fill="#cad6ab"/>
<rect x="303.0" y="290.17" width="25.3" height="9.19" fill="#ebe3ee"/>
<rect x="328.0" y="290.17" width="25.3" height="9.19" fill="#aabd7d"/>
<text x="355.0" y="296.668" font-size="7.7" fill="#111" font-weight="bold" font-style="normal" text-anchor="start" font-family='"Liberation Sans", "DejaVu Sans", sans-serif' textLength="40.2" lengthAdjust="spacingAndGlyphs">CSS0006766</text>
<rect x="253.0" y="299.06" width="25.3" height="9.19" fill="#7c3e9b"/>
<rect x="278.0" y="299.06" width="25.3" height="9.19" fill="#cad6ab"/>
<rect x="303.0" y="299.06" width="25.3" height="9.19" fill="#f3f3ee"/>
<rect x="328.0" y="299.06" width="25.3" height="9.19" fill="#aabd7d"/>
<text x="355.0" y="305.56" font-size="7.7" fill="#111" font-weight="bold" font-style="normal" text-anchor="start" font-family='"Liberation Sans", "DejaVu Sans", sans-serif' textLength="40.2" lengthAdjust="spacingAndGlyphs">CSS0011741</text>
<rect x="253.0" y="307.95" width="25.3" height="9.19" fill="#dee5cc"/>
<rect x="278.0" y="307.95" width="25.3" height="9.19" fill="#7c3e9b"/>
<rect x="303.0" y="307.95" width="25.3" height="9.19" fill="#cad6ab"/>
<rect x="328.0" y="307.95" width="25.3" height="9.19" fill="#f3f3ee"/>
<text x="355.0" y="314.452" font-size="7.7" fill="#111" font-weight="bold" font-style="normal" text-anchor="start" font-family='"Liberation Sans", "DejaVu Sans", sans-serif' textLength="40.2" lengthAdjust="spacingAndGlyphs">CSS0007714</text>
<rect x="253.0" y="316.84" width="25.3" height="9.19" fill="#f3f3ee"/>
<rect x="278.0" y="316.84" width="25.3" height="9.19" fill="#7c3e9b"/>
<rect x="303.0" y="316.84" width="25.3" height="9.19" fill="#aabd7d"/>
<rect x="328.0" y="316.84" width="25.3" height="9.19" fill="#dee5cc"/>
<text x="355.0" y="323.344" font-size="7.7" fill="#111" font-weight="bold" font-style="normal" text-anchor="start" font-family='"Liberation Sans", "DejaVu Sans", sans-serif' textLength="40.2" lengthAdjust="spacingAndGlyphs">CSS0012595</text>
<rect x="253.0" y="325.74" width="25.3" height="9.19" fill="#7c3e9b"/>
<rect x="278.0" y="325.74" width="25.3" height="9.19" fill="#dee5cc"/>
<rect x="303.0" y="325.74" width="25.3" height="9.19" fill="#dee5cc"/>
<rect x="328.0" y="325.74" width="25.3" height="9.19" fill="#cad6ab"/>
<text x="355.0" y="332.236" font-size="7.7" fill="#111" font-weight="bold" font-style="normal" text-anchor="start" font-family='"Liberation Sans", "DejaVu Sans", sans-serif' textLength="40.2" lengthAdjust="spacingAndGlyphs">CSS0014892</text>
<rect x="253.0" y="334.63" width="25.3" height="9.19" fill="#9565b2"/>
<rect x="278.0" y="334.63" width="25.3" height="9.19" fill="#dee5cc"/>
<rect x="303.0" y="334.63" width="25.3" height="9.19" fill="#aabd7d"/>
<rect x="328.0" y="334.63" width="25.3" height="9.19" fill="#d8c5e3"/>
<text x="355.0" y="341.128" font-size="7.7" fill="#111" font-weight="bold" font-style="normal" text-anchor="start" font-family='"Liberation Sans", "DejaVu Sans", sans-serif' textLength="40.2" lengthAdjust="spacingAndGlyphs">CSS0028792</text>
<rect x="253.0" y="343.52" width="25.3" height="9.19" fill="#dee5cc"/>
<rect x="278.0" y="343.52" width="25.3" height="9.19" fill="#7c3e9b"/>
<rect x="303.0" y="343.52" width="25.3" height="9.19" fill="#dee5cc"/>
<rect x="328.0" y="343.52" width="25.3" height="9.19" fill="#dee5cc"/>
<text x="355.0" y="350.02" font-size="7.7" fill="#111" font-weight="bold" font-style="normal" text-anchor="start" font-family='"Liberation Sans", "DejaVu Sans", sans-serif' textLength="40.2" lengthAdjust="spacingAndGlyphs">CSS0033075</text>
<rect x="253.0" y="352.41" width="25.3" height="9.19" fill="#aabd7d"/>
<rect x="278.0" y="352.41" width="25.3" height="9.19" fill="#f3f3ee"/>
<rect x="303.0" y="352.41" width="25.3" height="9.19" fill="#7c3e9b"/>
<rect x="328.0" y="352.41" width="25.3" height="9.19" fill="#dee5cc"/>
<text x="355.0" y="358.912" font-size="7.7" fill="#111" font-weight="bold" font-style="normal" text-anchor="start" font-family='"Liberation Sans", "DejaVu Sans", sans-serif' textLength="40.2" lengthAdjust="spacingAndGlyphs">CSS0007745</text>
<rect x="253.0" y="361.30" width="25.3" height="9.19" fill="#7c3e9b"/>
<rect x="278.0" y="361.30" width="25.3" height="9.19" fill="#dee5cc"/>
<rect x="303.0" y="361.30" width="25.3" height="9.19" fill="#cad6ab"/>
<rect x="328.0" y="361.30" width="25.3" height="9.19" fill="#dee5cc"/>
<text x="355.0" y="367.804" font-size="7.7" fill="#111" font-weight="bold" font-style="normal" text-anchor="start" font-family='"Liberation Sans", "DejaVu Sans", sans-serif' textLength="40.2" lengthAdjust="spacingAndGlyphs">CSS0030637</text>
<rect x="253.0" y="370.20" width="25.3" height="9.19" fill="#dee5cc"/>
<rect x="278.0" y="370.20" width="25.3" height="9.19" fill="#7c3e9b"/>
<rect x="303.0" y="370.20" width="25.3" height="9.19" fill="#cad6ab"/>
<rect x="328.0" y="370.20" width="25.3" height="9.19" fill="#dee5cc"/>
<text x="355.0" y="376.69599999999997" font-size="7.7" fill="#111" font-weight="bold" font-style="normal" text-anchor="start" font-family='"Liberation Sans", "DejaVu Sans", sans-serif' textLength="40.2" lengthAdjust="spacingAndGlyphs">CSS0045924</text>
<rect x="253.0" y="379.09" width="25.3" height="9.19" fill="#7c3e9b"/>
<rect x="278.0" y="379.09" width="25.3" height="9.19" fill="#f3f3ee"/>
<rect x="303.0" y="379.09" width="25.3" height="9.19" fill="#dee5cc"/>
<rect x="328.0" y="379.09" width="25.3" height="9.19" fill="#cad6ab"/>
<text x="355.0" y="385.58799999999997" font-size="7.7" fill="#111" font-weight="bold" font-style="normal" text-anchor="start" font-family='"Liberation Sans", "DejaVu Sans", sans-serif' textLength="40.2" lengthAdjust="spacingAndGlyphs">CSS0048905</text>
<rect x="253.0" y="387.98" width="25.3" height="9.19" fill="#9565b2"/>
<rect x="278.0" y="387.98" width="25.3" height="9.19" fill="#aabd7d"/>
<rect x="303.0" y="387.98" width="25.3" height="9.19" fill="#d8c5e3"/>
<rect x="328.0" y="387.98" width="25.3" height="9.19" fill="#cad6ab"/>
<text x="355.0" y="394.48" font-size="7.7" fill="#111" font-weight="bold" font-style="normal" text-anchor="start" font-family='"Liberation Sans", "DejaVu Sans", sans-serif' textLength="40.2" lengthAdjust="spacingAndGlyphs">CSS0033554</text>
<rect x="253.0" y="396.87" width="25.3" height="9.19" fill="#dee5cc"/>
<rect x="278.0" y="396.87" width="25.3" height="9.19" fill="#7c3e9b"/>
<rect x="303.0" y="396.87" width="25.3" height="9.19" fill="#cad6ab"/>
<rect x="328.0" y="396.87" width="25.3" height="9.19" fill="#dee5cc"/>
<text x="355.0" y="403.37199999999996" font-size="7.7" fill="#111" font-weight="bold" font-style="normal" text-anchor="start" font-family='"Liberation Sans", "DejaVu Sans", sans-serif' textLength="40.2" lengthAdjust="spacingAndGlyphs">CSS0014132</text>
<rect x="253.0" y="405.76" width="25.3" height="9.19" fill="#dee5cc"/>
<rect x="278.0" y="405.76" width="25.3" height="9.19" fill="#7c3e9b"/>
<rect x="303.0" y="405.76" width="25.3" height="9.19" fill="#dee5cc"/>
<rect x="328.0" y="405.76" width="25.3" height="9.19" fill="#dee5cc"/>
<text x="355.0" y="412.264" font-size="7.7" fill="#111" font-weight="bold" font-style="normal" text-anchor="start" font-family='"Liberation Sans", "DejaVu Sans", sans-serif' textLength="40.2" lengthAdjust="spacingAndGlyphs">CSS0022212</text>
<rect x="253.0" y="414.66" width="25.3" height="9.19" fill="#aabd7d"/>
<rect x="278.0" y="414.66" width="25.3" height="9.19" fill="#9565b2"/>
<rect x="303.0" y="414.66" width="25.3" height="9.19" fill="#aabd7d"/>
<rect x="328.0" y="414.66" width="25.3" height="9.19" fill="#c0a0d2"/>
<text x="355.0" y="421.15599999999995" font-size="7.7" fill="#111" font-weight="bold" font-style="normal" text-anchor="start" font-family='"Liberation Sans", "DejaVu Sans", sans-serif' textLength="40.2" lengthAdjust="spacingAndGlyphs">CSS0010687</text>
<rect x="253.0" y="423.55" width="25.3" height="9.19" fill="#cad6ab"/>
<rect x="278.0" y="423.55" width="25.3" height="9.19" fill="#7c3e9b"/>
<rect x="303.0" y="423.55" width="25.3" height="9.19" fill="#dee5cc"/>
<rect x="328.0" y="423.55" width="25.3" height="9.19" fill="#f3f3ee"/>
<text x="355.0" y="430.048" font-size="7.7" fill="#111" font-weight="bold" font-style="normal" text-anchor="start" font-family='"Liberation Sans", "DejaVu Sans", sans-serif' textLength="40.2" lengthAdjust="spacingAndGlyphs">CSS0041663</text>
<rect x="253.0" y="432.44" width="25.3" height="9.19" fill="#dee5cc"/>
<rect x="278.0" y="432.44" width="25.3" height="9.19" fill="#7c3e9b"/>
<rect x="303.0" y="432.44" width="25.3" height="9.19" fill="#dee5cc"/>
<rect x="328.0" y="432.44" width="25.3" height="9.19" fill="#dee5cc"/>
<text x="355.0" y="438.93999999999994" font-size="7.7" fill="#111" font-weight="bold" font-style="normal" text-anchor="start" font-family='"Liberation Sans", "DejaVu Sans", sans-serif' textLength="40.2" lengthAdjust="spacingAndGlyphs">CSS0028235</text>
<rect x="253.0" y="441.33" width="25.3" height="9.19" fill="#7c3e9b"/>
<rect x="278.0" y="441.33" width="25.3" height="9.19" fill="#f3f3ee"/>
<rect x="303.0" y="441.33" width="25.3" height="9.19" fill="#dee5cc"/>
<rect x="328.0" y="441.33" width="25.3" height="9.19" fill="#aabd7d"/>
<text x="355.0" y="447.832" font-size="7.7" fill="#111" font-weight="bold" font-style="normal" text-anchor="start" font-family='"Liberation Sans", "DejaVu Sans", sans-serif' textLength="40.2" lengthAdjust="spacingAndGlyphs">CSS0034690</text>
<rect x="253.0" y="450.22" width="25.3" height="9.19" fill="#f3f3ee"/>
<rect x="278.0" y="450.22" width="25.3" height="9.19" fill="#aabd7d"/>
<rect x="303.0" y="450.22" width="25.3" height="9.19" fill="#7c3e9b"/>
<rect x="328.0" y="450.22" width="25.3" height="9.19" fill="#dee5cc"/>
<text x="355.0" y="456.724" font-size="7.7" fill="#111" font-weight="bold" font-style="normal" text-anchor="start" font-family='"Liberation Sans", "DejaVu Sans", sans-serif' textLength="40.2" lengthAdjust="spacingAndGlyphs">CSS0009596</text>
<rect x="253.0" y="459.12" width="25.3" height="9.19" fill="#dee5cc"/>
<rect x="278.0" y="459.12" width="25.3" height="9.19" fill="#cad6ab"/>
<rect x="303.0" y="459.12" width="25.3" height="9.19" fill="#7c3e9b"/>
<rect x="328.0" y="459.12" width="25.3" height="9.19" fill="#f3f3ee"/>
<text x="355.0" y="465.616" font-size="7.7" fill="#111" font-weight="bold" font-style="normal" text-anchor="start" font-family='"Liberation Sans", "DejaVu Sans", sans-serif' textLength="40.2" lengthAdjust="spacingAndGlyphs">CSS0011093</text>
<rect x="253.0" y="468.01" width="25.3" height="9.19" fill="#ebe3ee"/>
<rect x="278.0" y="468.01" width="25.3" height="9.19" fill="#aabd7d"/>
<rect x="303.0" y="468.01" width="25.3" height="9.19" fill="#7c3e9b"/>
<rect x="328.0" y="468.01" width="25.3" height="9.19" fill="#cad6ab"/>
<text x="355.0" y="474.508" font-size="7.7" fill="#111" font-weight="bold" font-style="normal" text-anchor="start" font-family='"Liberation Sans", "DejaVu Sans", sans-serif' textLength="40.2" lengthAdjust="spacingAndGlyphs">CSS0039811</text>
<rect x="253.0" y="476.90" width="25.3" height="9.19" fill="#ebe3ee"/>
<rect x="278.0" y="476.90" width="25.3" height="9.19" fill="#aabd7d"/>
<rect x="303.0" y="476.90" width="25.3" height="9.19" fill="#7c3e9b"/>
<rect x="328.0" y="476.90" width="25.3" height="9.19" fill="#aabd7d"/>
<text x="355.0" y="483.4" font-size="7.7" fill="#111" font-weight="bold" font-style="normal" text-anchor="start" font-family='"Liberation Sans", "DejaVu Sans", sans-serif' textLength="40.2" lengthAdjust="spacingAndGlyphs">CSS0035437</text>
<rect x="253.0" y="485.79" width="25.3" height="9.19" fill="#dee5cc"/>
<rect x="278.0" y="485.79" width="25.3" height="9.19" fill="#7c3e9b"/>
<rect x="303.0" y="485.79" width="25.3" height="9.19" fill="#dee5cc"/>
<rect x="328.0" y="485.79" width="25.3" height="9.19" fill="#dee5cc"/>
<text x="355.0" y="492.292" font-size="7.7" fill="#111" font-weight="bold" font-style="normal" text-anchor="start" font-family='"Liberation Sans", "DejaVu Sans", sans-serif' textLength="40.2" lengthAdjust="spacingAndGlyphs">CSS0041635</text>
<line x1="253.0" y1="263.49" x2="353.0" y2="263.49" stroke="#fff" stroke-width="0.35" opacity="0.6"/>
<line x1="253.0" y1="272.38" x2="353.0" y2="272.38" stroke="#fff" stroke-width="0.35" opacity="0.6"/>
<line x1="253.0" y1="281.28" x2="353.0" y2="281.28" stroke="#fff" stroke-width="0.35" opacity="0.6"/>
<line x1="253.0" y1="290.17" x2="353.0" y2="290.17" stroke="#fff" stroke-width="0.35" opacity="0.6"/>
<line x1="253.0" y1="299.06" x2="353.0" y2="299.06" stroke="#fff" stroke-width="0.35" opacity="0.6"/>
<line x1="253.0" y1="307.95" x2="353.0" y2="307.95" stroke="#fff" stroke-width="0.35" opacity="0.6"/>
<line x1="253.0" y1="316.84" x2="353.0" y2="316.84" stroke="#fff" stroke-width="0.35" opacity="0.6"/>
<line x1="253.0" y1="325.74" x2="353.0" y2="325.74" stroke="#fff" stroke-width="0.35" opacity="0.6"/>
<line x1="253.0" y1="334.63" x2="353.0" y2="334.63" stroke="#fff" stroke-width="0.35" opacity="0.6"/>
<line x1="253.0" y1="343.52" x2="353.0" y2="343.52" stroke="#fff" stroke-width="0.35" opacity="0.6"/>
<line x1="253.0" y1="352.41" x2="353.0" y2="352.41" stroke="#fff" stroke-width="0.35" opacity="0.6"/>
<line x1="253.0" y1="361.30" x2="353.0" y2="361.30" stroke="#fff" stroke-width="0.35" opacity="0.6"/>
<line x1="253.0" y1="370.20" x2="353.0" y2="370.20" stroke="#fff" stroke-width="0.35" opacity="0.6"/>
<line x1="253.0" y1="379.09" x2="353.0" y2="379.09" stroke="#fff" stroke-width="0.35" opacity="0.6"/>
<line x1="253.0" y1="387.98" x2="353.0" y2="387.98" stroke="#fff" stroke-width="0.35" opacity="0.6"/>
<line x1="253.0" y1="396.87" x2="353.0" y2="396.87" stroke="#fff" stroke-width="0.35" opacity="0.6"/>
<line x1="253.0" y1="405.76" x2="353.0" y2="405.76" stroke="#fff" stroke-width="0.35" opacity="0.6"/>
<line x1="253.0" y1="414.66" x2="353.0" y2="414.66" stroke="#fff" stroke-width="0.35" opacity="0.6"/>
<line x1="253.0" y1="423.55" x2="353.0" y2="423.55" stroke="#fff" stroke-width="0.35" opacity="0.6"/>
<line x1="253.0" y1="432.44" x2="353.0" y2="432.44" stroke="#fff" stroke-width="0.35" opacity="0.6"/>
<line x1="253.0" y1="441.33" x2="353.0" y2="441.33" stroke="#fff" stroke-width="0.35" opacity="0.6"/>
<line x1="253.0" y1="450.22" x2="353.0" y2="450.22" stroke="#fff" stroke-width="0.35" opacity="0.6"/>
<line x1="253.0" y1="459.12" x2="353.0" y2="459.12" stroke="#fff" stroke-width="0.35" opacity="0.6"/>
<line x1="253.0" y1="468.01" x2="353.0" y2="468.01" stroke="#fff" stroke-width="0.35" opacity="0.6"/>
<line x1="253.0" y1="476.90" x2="353.0" y2="476.90" stroke="#fff" stroke-width="0.35" opacity="0.6"/>
<line x1="253.0" y1="485.79" x2="353.0" y2="485.79" stroke="#fff" stroke-width="0.35" opacity="0.6"/>
<text x="0" y="0" font-size="8.4" fill="#111" font-weight="normal" text-anchor="end" font-family='"Liberation Sans", "DejaVu Sans", sans-serif' transform="translate(252.3 266.8) scale(0.84 1)">PAL</text>
<text x="0" y="0" font-size="8.4" fill="#111" font-weight="normal" text-anchor="end" font-family='"Liberation Sans", "DejaVu Sans", sans-serif' transform="translate(252.3 285.7) scale(0.84 1)">C4H</text>
<text x="0" y="0" font-size="8.4" fill="#111" font-weight="normal" text-anchor="end" font-family='"Liberation Sans", "DejaVu Sans", sans-serif' transform="translate(252.3 302.4) scale(0.84 1)">4CL</text>
<text x="0" y="0" font-size="8.4" fill="#111" font-weight="normal" text-anchor="end" font-family='"Liberation Sans", "DejaVu Sans", sans-serif' transform="translate(252.3 315.1) scale(0.84 1)">CHS</text>
<text x="0" y="0" font-size="8.4" fill="#111" font-weight="normal" text-anchor="end" font-family='"Liberation Sans", "DejaVu Sans", sans-serif' transform="translate(252.3 324.5) scale(0.84 1)">CHI</text>
<text x="0" y="0" font-size="8.4" fill="#111" font-weight="normal" text-anchor="end" font-family='"Liberation Sans", "DejaVu Sans", sans-serif' transform="translate(252.3 360.6) scale(0.84 1)">FLS</text>
<text x="0" y="0" font-size="8.4" fill="#111" font-weight="normal" text-anchor="end" font-family='"Liberation Sans", "DejaVu Sans", sans-serif' transform="translate(252.3 391.0) scale(0.84 1)">F3’H</text>
<text x="0" y="0" font-size="8.4" fill="#111" font-weight="normal" text-anchor="end" font-family='"Liberation Sans", "DejaVu Sans", sans-serif' transform="translate(252.3 408.9) scale(0.84 1)">F3’5’H</text>
<text x="0" y="0" font-size="8.4" fill="#111" font-weight="bold" text-anchor="end" font-family='"Liberation Sans", "DejaVu Sans", sans-serif' transform="translate(252.3 422.7) scale(0.84 1)">ANS</text>
<text x="0" y="0" font-size="8.4" fill="#111" font-weight="bold" text-anchor="end" font-family='"Liberation Sans", "DejaVu Sans", sans-serif' transform="translate(252.3 431.5) scale(0.84 1)">ANR</text>
<text x="0" y="0" font-size="8.4" fill="#111" font-weight="bold" text-anchor="end" font-family='"Liberation Sans", "DejaVu Sans", sans-serif' transform="translate(252.3 444.2) scale(0.84 1)">LAR</text>
<text x="0" y="0" font-size="8.4" fill="#111" font-weight="bold" text-anchor="end" font-family='"Liberation Sans", "DejaVu Sans", sans-serif' transform="translate(252.3 466.8) scale(0.84 1)">DFR</text>
<text x="0" y="0" font-size="8.4" fill="#111" font-weight="bold" text-anchor="end" font-family='"Liberation Sans", "DejaVu Sans", sans-serif' transform="translate(252.3 484.8) scale(0.84 1)">SCPL4</text>
<text x="0" y="0" font-size="8.4" fill="#111" font-weight="bold" text-anchor="end" font-family='"Liberation Sans", "DejaVu Sans", sans-serif' transform="translate(252.3 493.6) scale(0.84 1)">SCPL5</text>
<line x1="248.3" y1="272.4" x2="253" y2="272.4" stroke="#333" stroke-width="0.7"/>
<line x1="248.3" y1="290.2" x2="253" y2="290.2" stroke="#333" stroke-width="0.7"/>
<line x1="248.3" y1="308.0" x2="253" y2="308.0" stroke="#333" stroke-width="0.7"/>
<line x1="248.3" y1="316.9" x2="253" y2="316.9" stroke="#333" stroke-width="0.7"/>
<line x1="248.3" y1="325.7" x2="253" y2="325.7" stroke="#333" stroke-width="0.7"/>
<line x1="248.3" y1="431.9" x2="253" y2="431.9" stroke="#333" stroke-width="0.7"/>
<line x1="248.3" y1="450.3" x2="253" y2="450.3" stroke="#333" stroke-width="0.7"/>
<line x1="248.3" y1="495.5" x2="253" y2="495.5" stroke="#333" stroke-width="0.7"/>
<text x="254" y="251.7" font-size="10.2" fill="#111" font-weight="bold" font-style="normal" text-anchor="start" font-family='"Liberation Sans", "DejaVu Sans", sans-serif' textLength="110.8" lengthAdjust="spacingAndGlyphs">DEGs expression heatmap</text>
<text x="268.2" y="498.5" font-size="7.5" text-anchor="end" font-family='"Liberation Sans", "DejaVu Sans", sans-serif' fill="#222" font-weight="bold" transform="rotate(-90 268.2 498.5)">NF</text>
<text x="293.2" y="498.5" font-size="7.5" text-anchor="end" font-family='"Liberation Sans", "DejaVu Sans", sans-serif' fill="#222" font-weight="bold" transform="rotate(-90 293.2 498.5)">NS</text>
<text x="318.2" y="498.5" font-size="7.5" text-anchor="end" font-family='"Liberation Sans", "DejaVu Sans", sans-serif' fill="#222" font-weight="bold" transform="rotate(-90 318.2 498.5)">MF</text>
<text x="343.2" y="498.5" font-size="7.5" text-anchor="end" font-family='"Liberation Sans", "DejaVu Sans", sans-serif' fill="#222" font-weight="bold" transform="rotate(-90 343.2 498.5)">MS</text>
<line x1="436.2" y1="249.70000000000002" x2="436.2" y2="344.6" stroke="#222" stroke-width="1"/>
<line x1="436.2" y1="344.6" x2="539" y2="344.6" stroke="#222" stroke-width="1"/>
<line x1="433.2" y1="344.6" x2="436.2" y2="344.6" stroke="#222" stroke-width="1"/>
<text x="432.2" y="348.20000000000005" font-size="10.5" fill="#111" font-weight="bold" font-style="normal" text-anchor="end" font-family='"Liberation Sans", "DejaVu Sans", sans-serif' >0</text>
<line x1="433.2" y1="325.6" x2="436.2" y2="325.6" stroke="#222" stroke-width="1"/>
<text x="432.2" y="329.22" font-size="10.5" fill="#111" font-weight="bold" font-style="normal" text-anchor="end" font-family='"Liberation Sans", "DejaVu Sans", sans-serif' >1</text>
<line x1="433.2" y1="306.6" x2="436.2" y2="306.6" stroke="#222" stroke-width="1"/>
<text x="432.2" y="310.24000000000007" font-size="10.5" fill="#111" font-weight="bold" font-style="normal" text-anchor="end" font-family='"Liberation Sans", "DejaVu Sans", sans-serif' >2</text>
<line x1="433.2" y1="287.7" x2="436.2" y2="287.7" stroke="#222" stroke-width="1"/>
<text x="432.2" y="291.26000000000005" font-size="10.5" fill="#111" font-weight="bold" font-style="normal" text-anchor="end" font-family='"Liberation Sans", "DejaVu Sans", sans-serif' >3</text>
<line x1="433.2" y1="268.7" x2="436.2" y2="268.7" stroke="#222" stroke-width="1"/>
<text x="432.2" y="272.28000000000003" font-size="10.5" fill="#111" font-weight="bold" font-style="normal" text-anchor="end" font-family='"Liberation Sans", "DejaVu Sans", sans-serif' >4</text>
<line x1="433.2" y1="249.7" x2="436.2" y2="249.7" stroke="#222" stroke-width="1"/>
<text x="432.2" y="253.3" font-size="10.5" fill="#111" font-weight="bold" font-style="normal" text-anchor="end" font-family='"Liberation Sans", "DejaVu Sans", sans-serif' >5</text>
<line x1="467.5" y1="344.6" x2="467.5" y2="347.6" stroke="#222" stroke-width="1"/>
<line x1="509.3" y1="344.6" x2="509.3" y2="347.6" stroke="#222" stroke-width="1"/>
<line x1="468.05" y1="327.1" x2="468.05" y2="333.6" stroke="#8fb9ec" stroke-width="1"/>
<line x1="461.55" y1="333.6" x2="474.55" y2="333.6" stroke="#8fb9ec" stroke-width="1"/>
<line x1="461.55" y1="327.1" x2="474.55" y2="327.1" stroke="#8fb9ec" stroke-width="1"/>
<rect x="455.3" y="329.8" width="25.5" height="2.5" fill="#a7c9f1" stroke="#8fb9ec" stroke-width="0.6"/>
<circle cx="468.05" cy="334.2" r="0.8" fill="#8fb9ec"/>
<line x1="509.4" y1="266.4" x2="509.4" y2="289.9" stroke="#8fb9ec" stroke-width="1"/>
<line x1="502.4" y1="289.9" x2="516.4" y2="289.9" stroke="#8fb9ec" stroke-width="1"/>
<line x1="502.4" y1="266.4" x2="516.4" y2="266.4" stroke="#8fb9ec" stroke-width="1"/>
<rect x="495" y="276.7" width="28.799999999999955" height="7.2" fill="#a7c9f1" stroke="#8fb9ec" stroke-width="0.6"/>
<circle cx="509.4" cy="264.9" r="0.8" fill="#8fb9ec"/>
<circle cx="509.4" cy="292.4" r="0.8" fill="#8fb9ec"/>
<text x="424.6" y="289.5" font-size="8.6" text-anchor="middle" font-family='"Liberation Sans", "DejaVu Sans", sans-serif' fill="#111" transform="rotate(-90 424.6 289.5)" textLength="70" lengthAdjust="spacingAndGlyphs">CAF content (%)</text>
<path d="M467.5 257.4 V250.6 H509.3 V257.4" fill="none" stroke="#777" stroke-width="0.6"/>
<text x="488.4" y="249.1" font-size="4.8" fill="#555" font-weight="normal" font-style="normal" text-anchor="middle" font-family='"Liberation Sans", "DejaVu Sans", sans-serif' >**** <tspan font-style="italic">P</tspan>&lt;0.0001</text>
<text x="467.5" y="356.8" font-size="9" fill="#111" font-weight="bold" font-style="normal" text-anchor="middle" font-family='"Liberation Sans", "DejaVu Sans", sans-serif' >AG</text>
<text x="509.3" y="356.8" font-size="9" fill="#111" font-weight="bold" font-style="normal" text-anchor="middle" font-family='"Liberation Sans", "DejaVu Sans", sans-serif' >AA</text>
<text x="489.4" y="369.8" font-size="8.8" fill="#111" font-weight="bold" font-style="normal" text-anchor="middle" font-family='"Liberation Sans", "DejaVu Sans", sans-serif' textLength="61.5" lengthAdjust="spacingAndGlyphs">allelic genotype</text>
<line x1="437.4" y1="386.22" x2="437.4" y2="481.5" stroke="#222" stroke-width="1"/>
<line x1="437.4" y1="481.5" x2="544.4" y2="481.5" stroke="#222" stroke-width="1"/>
<line x1="434.4" y1="481.5" x2="437.4" y2="481.5" stroke="#222" stroke-width="1"/>
<text x="433.4" y="485.1" font-size="10.5" fill="#111" font-weight="bold" font-style="normal" text-anchor="end" font-family='"Liberation Sans", "DejaVu Sans", sans-serif' >0</text>
<line x1="434.4" y1="449.7" x2="437.4" y2="449.7" stroke="#222" stroke-width="1"/>
<text x="433.4" y="453.34000000000003" font-size="10.5" fill="#111" font-weight="bold" font-style="normal" text-anchor="end" font-family='"Liberation Sans", "DejaVu Sans", sans-serif' >2</text>
<line x1="434.4" y1="418.0" x2="437.4" y2="418.0" stroke="#222" stroke-width="1"/>
<text x="433.4" y="421.58000000000004" font-size="10.5" fill="#111" font-weight="bold" font-style="normal" text-anchor="end" font-family='"Liberation Sans", "DejaVu Sans", sans-serif' >4</text>
<line x1="434.4" y1="386.2" x2="437.4" y2="386.2" stroke="#222" stroke-width="1"/>
<text x="433.4" y="389.82000000000005" font-size="10.5" fill="#111" font-weight="bold" font-style="normal" text-anchor="end" font-family='"Liberation Sans", "DejaVu Sans", sans-serif' >6</text>
<line x1="468.8" y1="481.5" x2="468.8" y2="484.5" stroke="#222" stroke-width="1"/>
<line x1="514.9" y1="481.5" x2="514.9" y2="484.5" stroke="#222" stroke-width="1"/>
<line x1="469.0" y1="403.7" x2="469.0" y2="428.3" stroke="#8fb9ec" stroke-width="1"/>
<line x1="461.75" y1="428.3" x2="476.25" y2="428.3" stroke="#8fb9ec" stroke-width="1"/>
<line x1="461.75" y1="403.7" x2="476.25" y2="403.7" stroke="#8fb9ec" stroke-width="1"/>
<rect x="454" y="407.3" width="30" height="10.6" fill="#a7c9f1" stroke="#8fb9ec" stroke-width="0.6"/>
<circle cx="469.0" cy="400.5" r="0.8" fill="#8fb9ec"/>
<circle cx="469.0" cy="429.4" r="0.8" fill="#8fb9ec"/>
<line x1="510.4" y1="476.4" x2="510.4" y2="480.2" stroke="#8fb9ec" stroke-width="1"/>
<line x1="504.4" y1="480.2" x2="516.4" y2="480.2" stroke="#8fb9ec" stroke-width="1"/>
<line x1="504.4" y1="476.4" x2="516.4" y2="476.4" stroke="#8fb9ec" stroke-width="1"/>
<rect x="499" y="477.5" width="22.799999999999955" height="2.1" fill="#a7c9f1" stroke="#8fb9ec" stroke-width="0.6"/>
<text x="425" y="430" font-size="8.6" text-anchor="middle" font-family='"Liberation Sans", "DejaVu Sans", sans-serif' fill="#111" transform="rotate(-90 425 430)" textLength="59" lengthAdjust="spacingAndGlyphs">TB content (%)</text>
<path d="M468.8 393 V387 H514.9 V393" fill="none" stroke="#777" stroke-width="0.6"/>
<text x="491.85" y="385.5" font-size="4.8" fill="#555" font-weight="normal" font-style="normal" text-anchor="middle" font-family='"Liberation Sans", "DejaVu Sans", sans-serif' >**** <tspan font-style="italic">P</tspan>&lt;0.0001</text>
<text x="468.8" y="495" font-size="9" fill="#111" font-weight="bold" font-style="normal" text-anchor="middle" font-family='"Liberation Sans", "DejaVu Sans", sans-serif' >AG</text>
<text x="514.9" y="495" font-size="9" fill="#111" font-weight="bold" font-style="normal" text-anchor="middle" font-family='"Liberation Sans", "DejaVu Sans", sans-serif' >AA</text>
<text x="492.85" y="508.3" font-size="8.8" fill="#111" font-weight="bold" font-style="normal" text-anchor="middle" font-family='"Liberation Sans", "DejaVu Sans", sans-serif' textLength="61.5" lengthAdjust="spacingAndGlyphs">allelic genotype</text>
<clipPath id="cpg"><polygon points="724.1,340.4 382.0,547.6 324.1,-59.60000000000002 724.1,-59.60000000000002"/></clipPath>
<g clip-path="url(#cpg)"><ellipse cx="724.6" cy="337.6" rx="170.3" ry="167.9" fill="#dbeadf"/><circle cx="724.6" cy="337.6" r="95.2" fill="#d0e5d7"/><circle cx="724.6" cy="337.6" r="78.3" fill="#a6d8b4"/><circle cx="724.6" cy="337.6" r="46.3" fill="#8cc59c"/></g>
<clipPath id="cpp"><polygon points="724.1,340.4 724.1,-59.60000000000002 1124.1,-59.60000000000002 1081.1,520.8"/></clipPath>
<g clip-path="url(#cpp)"><ellipse cx="724.6" cy="337.6" rx="170.3" ry="167.9" fill="#f6eff4"/><circle cx="724.6" cy="337.6" r="95.2" fill="#efe2e9"/><circle cx="724.6" cy="337.6" r="78.3" fill="#efd5dd"/><circle cx="724.6" cy="337.6" r="46.3" fill="#d9a6b6"/></g>
<clipPath id="cpk"><polygon points="724.1,340.4 382.0,547.6 324.1,740.4 1124.1,740.4 1081.1,520.8"/></clipPath>
<g clip-path="url(#cpk)"><ellipse cx="724.6" cy="337.6" rx="170.3" ry="167.9" fill="#f3f3f3"/><circle cx="724.6" cy="337.6" r="95.2" fill="#dddddd"/><circle cx="724.6" cy="337.6" r="78.3" fill="#c5c5c5"/><circle cx="724.6" cy="337.6" r="46.3" fill="#a1a1a1"/></g>
<circle cx="724.6" cy="337.6" r="95.2" fill="none" stroke="#fff" stroke-width="0.8" opacity="0.85"/>
<circle cx="724.6" cy="337.6" r="78.3" fill="none" stroke="#fff" stroke-width="0.8" opacity="0.85"/>
<circle cx="724.6" cy="337.6" r="46.3" fill="none" stroke="#fff" stroke-width="0.8" opacity="0.85"/>
<line x1="707.0" y1="350.8" x2="580.6" y2="427.3" stroke="#fff" stroke-width="0.9"/>
<line x1="742.0" y1="349.4" x2="874.9" y2="416.6" stroke="#fff" stroke-width="0.9"/>
<line x1="724.1" y1="320.4" x2="724.1" y2="169.7" stroke="#fff" stroke-width="0.6" opacity="0.7"/>
<circle cx="724.6" cy="337.3" r="21.2" fill="#fdfdfd"/>
<g>
<path d="M721.5 356 L714 333" stroke="#6f8060" stroke-width="0.8" fill="none"/>
<path d="M729 355 L735 333" stroke="#6f8060" stroke-width="0.8" fill="none"/>
<path d="M720 352 C714 344 709 339 703.5 334 C710 337 716 342 721 350Z" fill="#5e7d50"/>
<path d="M724 357 C719 346 718 333 723.5 321.5 C729 332 729 346 724 357Z" fill="#47663f"/>
<path d="M725 357 C724 348 726 338 729 331 C731 340 729 350 725 357Z" fill="#5b7b4c"/>
<path d="M730 351 C733 343 740 337 747.5 335.5 C745 343 738 349 730 351Z" fill="#4a6c43"/>
<path d="M723.6 356 L723.6 326" stroke="#7a9268" stroke-width="0.5" fill="none"/>
</g>
<radialGradient id="dg0"><stop offset="0" stop-color="#cbbb94"/><stop offset="0.8" stop-color="#b39f74"/><stop offset="1" stop-color="#b39f74" stop-opacity="0.7"/></radialGradient>
<circle cx="702.3" cy="312.6" r="8.6" fill="url(#dg0)"/>
<radialGradient id="dg1"><stop offset="0" stop-color="#3c3c36"/><stop offset="0.8" stop-color="#4a4a44"/><stop offset="1" stop-color="#4a4a44" stop-opacity="0.7"/></radialGradient>
<circle cx="693" cy="331" r="8.6" fill="url(#dg1)"/>
<circle cx="696.2" cy="328.5" r="0.7" fill="#2a2a26"/>
<circle cx="696.2" cy="335.7" r="0.7" fill="#2a2a26"/>
<circle cx="693.8" cy="329.5" r="0.7" fill="#d8d8d0"/>
<circle cx="689.5" cy="336.8" r="0.7" fill="#2a2a26"/>
<circle cx="694.8" cy="328.6" r="0.7" fill="#2a2a26"/>
<circle cx="696.0" cy="333.7" r="0.7" fill="#d8d8d0"/>
<circle cx="694.6" cy="324.8" r="0.7" fill="#8a8a80"/>
<circle cx="688.5" cy="332.0" r="0.7" fill="#555550"/>
<circle cx="692.5" cy="324.7" r="0.7" fill="#1e1e1a"/>
<circle cx="689.2" cy="327.5" r="0.7" fill="#1e1e1a"/>
<circle cx="687.0" cy="329.7" r="0.7" fill="#2a2a26"/>
<circle cx="696.8" cy="328.2" r="0.7" fill="#2a2a26"/>
<circle cx="691.9" cy="335.8" r="0.7" fill="#555550"/>
<circle cx="690.3" cy="333.3" r="0.7" fill="#1e1e1a"/>
<circle cx="686.0" cy="331.4" r="0.7" fill="#d8d8d0"/>
<circle cx="699.2" cy="333.1" r="0.7" fill="#1e1e1a"/>
<circle cx="697.9" cy="326.7" r="0.7" fill="#1e1e1a"/>
<circle cx="695.1" cy="336.6" r="0.7" fill="#555550"/>
<circle cx="694.3" cy="333.5" r="0.7" fill="#555550"/>
<circle cx="691.3" cy="328.8" r="0.7" fill="#1e1e1a"/>
<circle cx="688.1" cy="325.4" r="0.7" fill="#1e1e1a"/>
<circle cx="696.6" cy="325.5" r="0.7" fill="#2a2a26"/>
<circle cx="685.7" cy="329.5" r="0.7" fill="#d8d8d0"/>
<circle cx="691.9" cy="323.7" r="0.7" fill="#2a2a26"/>
<circle cx="692.2" cy="325.3" r="0.7" fill="#1e1e1a"/>
<circle cx="686.6" cy="332.5" r="0.7" fill="#2a2a26"/>
<circle cx="693.6" cy="331.5" r="0.7" fill="#555550"/>
<circle cx="693.8" cy="326.4" r="0.7" fill="#d8d8d0"/>
<circle cx="689.4" cy="327.0" r="0.7" fill="#1e1e1a"/>
<circle cx="691.1" cy="334.6" r="0.7" fill="#8a8a80"/>
<circle cx="690.4" cy="337.4" r="0.7" fill="#555550"/>
<circle cx="695.9" cy="330.6" r="0.7" fill="#1e1e1a"/>
<circle cx="695.8" cy="326.4" r="0.7" fill="#555550"/>
<circle cx="693.2" cy="330.4" r="0.7" fill="#d8d8d0"/>
<circle cx="690.6" cy="332.4" r="0.7" fill="#555550"/>
<circle cx="692.4" cy="332.7" r="0.7" fill="#8a8a80"/>
<circle cx="690.4" cy="336.4" r="0.7" fill="#d8d8d0"/>
<circle cx="696.1" cy="330.9" r="0.7" fill="#8a8a80"/>
<circle cx="690.2" cy="328.1" r="0.7" fill="#1e1e1a"/>
<circle cx="688.0" cy="330.1" r="0.7" fill="#8a8a80"/>
<radialGradient id="dg2"><stop offset="0" stop-color="#686858"/><stop offset="0.8" stop-color="#7a7a6c"/><stop offset="1" stop-color="#7a7a6c" stop-opacity="0.7"/></radialGradient>
<circle cx="747.6" cy="312.3" r="8.6" fill="url(#dg2)"/>
<circle cx="748.0" cy="317.5" r="0.7" fill="#555550"/>
<circle cx="742.4" cy="310.6" r="0.7" fill="#d8d8d0"/>
<circle cx="751.6" cy="309.8" r="0.7" fill="#555550"/>
<circle cx="752.0" cy="312.5" r="0.7" fill="#8a8a80"/>
<circle cx="746.7" cy="308.8" r="0.7" fill="#8a8a80"/>
<circle cx="745.3" cy="312.3" r="0.7" fill="#1e1e1a"/>
<circle cx="743.9" cy="311.9" r="0.7" fill="#d8d8d0"/>
<circle cx="741.4" cy="316.3" r="0.7" fill="#1e1e1a"/>
<circle cx="741.8" cy="310.4" r="0.7" fill="#2a2a26"/>
<circle cx="754.2" cy="311.5" r="0.7" fill="#d8d8d0"/>
<circle cx="750.0" cy="317.6" r="0.7" fill="#8a8a80"/>
<circle cx="754.4" cy="311.3" r="0.7" fill="#1e1e1a"/>
<circle cx="747.0" cy="306.5" r="0.7" fill="#2a2a26"/>
<circle cx="749.4" cy="305.9" r="0.7" fill="#8a8a80"/>
<circle cx="750.1" cy="307.3" r="0.7" fill="#1e1e1a"/>
<circle cx="753.0" cy="309.5" r="0.7" fill="#d8d8d0"/>
<circle cx="751.4" cy="315.3" r="0.7" fill="#555550"/>
<circle cx="748.5" cy="319.1" r="0.7" fill="#555550"/>
<circle cx="751.6" cy="318.5" r="0.7" fill="#d8d8d0"/>
<circle cx="754.6" cy="313.4" r="0.7" fill="#1e1e1a"/>
<circle cx="740.8" cy="315.1" r="0.7" fill="#1e1e1a"/>
<circle cx="746.7" cy="304.9" r="0.7" fill="#555550"/>
<circle cx="741.9" cy="311.7" r="0.7" fill="#1e1e1a"/>
<circle cx="749.1" cy="316.6" r="0.7" fill="#555550"/>
<circle cx="749.3" cy="318.5" r="0.7" fill="#2a2a26"/>
<circle cx="741.4" cy="315.7" r="0.7" fill="#1e1e1a"/>
<circle cx="749.1" cy="305.6" r="0.7" fill="#d8d8d0"/>
<circle cx="751.7" cy="310.8" r="0.7" fill="#555550"/>
<circle cx="748.4" cy="306.2" r="0.7" fill="#1e1e1a"/>
<circle cx="754.6" cy="312.3" r="0.7" fill="#1e1e1a"/>
<circle cx="747.3" cy="317.7" r="0.7" fill="#1e1e1a"/>
<circle cx="753.0" cy="313.6" r="0.7" fill="#d8d8d0"/>
<circle cx="741.9" cy="309.1" r="0.7" fill="#1e1e1a"/>
<circle cx="745.0" cy="315.8" r="0.7" fill="#555550"/>
<circle cx="750.7" cy="313.0" r="0.7" fill="#d8d8d0"/>
<circle cx="741.7" cy="312.6" r="0.7" fill="#555550"/>
<circle cx="746.8" cy="312.7" r="0.7" fill="#2a2a26"/>
<circle cx="749.3" cy="311.5" r="0.7" fill="#d8d8d0"/>
<circle cx="743.1" cy="314.2" r="0.7" fill="#2a2a26"/>
<circle cx="746.9" cy="306.2" r="0.7" fill="#1e1e1a"/>
<radialGradient id="dg3"><stop offset="0" stop-color="#a4501c"/><stop offset="0.8" stop-color="#7a300c"/><stop offset="1" stop-color="#7a300c" stop-opacity="0.7"/></radialGradient>
<circle cx="759" cy="332.6" r="8.6" fill="url(#dg3)"/>
<radialGradient id="dg4"><stop offset="0" stop-color="#ccbf84"/><stop offset="0.8" stop-color="#b9a96a"/><stop offset="1" stop-color="#b9a96a" stop-opacity="0.7"/></radialGradient>
<circle cx="710" cy="368.6" r="8.6" fill="url(#dg4)"/>
<radialGradient id="dg5"><stop offset="0" stop-color="#a29e8a"/><stop offset="0.8" stop-color="#8e8a78"/><stop offset="1" stop-color="#8e8a78" stop-opacity="0.7"/></radialGradient>
<circle cx="737" cy="369.2" r="8.6" fill="url(#dg5)"/>
<circle cx="733.4" cy="365.2" r="0.7" fill="#bdbaa8"/>
<circle cx="739.5" cy="371.6" r="0.7" fill="#bdbaa8"/>
<circle cx="738.8" cy="371.6" r="0.7" fill="#e8e6dc"/>
<circle cx="734.0" cy="371.2" r="0.7" fill="#6a685c"/>
<circle cx="731.5" cy="369.6" r="0.7" fill="#e8e6dc"/>
<circle cx="736.3" cy="362.9" r="0.7" fill="#bdbaa8"/>
<circle cx="738.4" cy="373.4" r="0.7" fill="#bdbaa8"/>
<circle cx="738.0" cy="373.8" r="0.7" fill="#6a685c"/>
<circle cx="739.4" cy="364.1" r="0.7" fill="#bdbaa8"/>
<circle cx="734.3" cy="364.1" r="0.7" fill="#e8e6dc"/>
<circle cx="741.2" cy="373.7" r="0.7" fill="#6a685c"/>
<circle cx="733.8" cy="374.2" r="0.7" fill="#e8e6dc"/>
<circle cx="736.5" cy="372.0" r="0.7" fill="#6a685c"/>
<circle cx="738.1" cy="368.0" r="0.7" fill="#bdbaa8"/>
<circle cx="740.1" cy="365.8" r="0.7" fill="#bdbaa8"/>
<circle cx="742.0" cy="374.0" r="0.7" fill="#6a685c"/>
<circle cx="730.7" cy="367.3" r="0.7" fill="#e8e6dc"/>
<circle cx="737.5" cy="374.3" r="0.7" fill="#e8e6dc"/>
<circle cx="736.1" cy="366.8" r="0.7" fill="#6a685c"/>
<circle cx="737.5" cy="376.0" r="0.7" fill="#bdbaa8"/>
<circle cx="734.2" cy="365.8" r="0.7" fill="#bdbaa8"/>
<circle cx="731.3" cy="370.0" r="0.7" fill="#bdbaa8"/>
<circle cx="741.2" cy="375.0" r="0.7" fill="#bdbaa8"/>
<circle cx="739.9" cy="368.4" r="0.7" fill="#6a685c"/>
<circle cx="733.3" cy="363.0" r="0.7" fill="#6a685c"/>
<circle cx="737.6" cy="364.9" r="0.7" fill="#bdbaa8"/>
<circle cx="732.8" cy="374.3" r="0.7" fill="#bdbaa8"/>
<circle cx="736.0" cy="367.8" r="0.7" fill="#6a685c"/>
<circle cx="739.3" cy="373.9" r="0.7" fill="#6a685c"/>
<circle cx="741.5" cy="366.9" r="0.7" fill="#e8e6dc"/>
<circle cx="738.6" cy="371.9" r="0.7" fill="#6a685c"/>
<circle cx="735.8" cy="365.1" r="0.7" fill="#6a685c"/>
<circle cx="742.5" cy="374.3" r="0.7" fill="#e8e6dc"/>
<circle cx="740.9" cy="370.2" r="0.7" fill="#6a685c"/>
<circle cx="732.3" cy="365.3" r="0.7" fill="#6a685c"/>
<circle cx="740.0" cy="369.8" r="0.7" fill="#6a685c"/>
<circle cx="731.1" cy="366.2" r="0.7" fill="#6a685c"/>
<circle cx="741.9" cy="367.7" r="0.7" fill="#bdbaa8"/>
<circle cx="738.2" cy="364.1" r="0.7" fill="#e8e6dc"/>
<circle cx="732.1" cy="370.6" r="0.7" fill="#e8e6dc"/>
<text x="681" y="265" font-size="9.1" fill="#a534b0" font-weight="bold" text-anchor="middle" dominant-baseline="central" font-family='"Liberation Sans", "DejaVu Sans", sans-serif' transform="rotate(-31 681 265)">Taste</text>
<text x="634.2" y="335.3" font-size="9.1" fill="#a534b0" font-weight="bold" text-anchor="middle" dominant-baseline="central" font-family='"Liberation Sans", "DejaVu Sans", sans-serif' transform="rotate(-90 634.2 335.3)">Aroma</text>
<text x="775" y="269.2" font-size="9.1" fill="#a534b0" font-weight="bold" text-anchor="middle" dominant-baseline="central" font-family='"Liberation Sans", "DejaVu Sans", sans-serif' transform="rotate(37 775 269.2)">Aroma</text>
<text x="810.3" y="328.8" font-size="9.1" fill="#a534b0" font-weight="bold" text-anchor="middle" dominant-baseline="central" font-family='"Liberation Sans", "DejaVu Sans", sans-serif' transform="rotate(-90 810.3 328.8)">Taste</text>
<text x="681" y="411.7" font-size="9.1" fill="#a534b0" font-weight="bold" text-anchor="middle" dominant-baseline="central" font-family='"Liberation Sans", "DejaVu Sans", sans-serif' transform="rotate(33 681 411.7)">Taste</text>
<text x="771.3" y="410" font-size="9.1" fill="#a534b0" font-weight="bold" text-anchor="middle" dominant-baseline="central" font-family='"Liberation Sans", "DejaVu Sans", sans-serif' transform="rotate(-33 771.3 410)">Aroma</text>
<text x="692.5" y="279" font-size="8.4" fill="#111" font-weight="bold" text-anchor="middle" dominant-baseline="central" font-family='"Liberation Sans", "DejaVu Sans", sans-serif' transform="rotate(-31 692.5 279)" textLength="50" lengthAdjust="spacingAndGlyphs">Slightly astringent</text>
<text x="699.4" y="287.3" font-size="8.4" fill="#111" font-weight="bold" text-anchor="middle" dominant-baseline="central" font-family='"Liberation Sans", "DejaVu Sans", sans-serif' transform="rotate(-31 699.4 287.3)" textLength="34" lengthAdjust="spacingAndGlyphs">Pure elegant</text>
<text x="654.8" y="333.3" font-size="8.4" fill="#111" font-weight="bold" text-anchor="middle" dominant-baseline="central" font-family='"Liberation Sans", "DejaVu Sans", sans-serif' transform="rotate(-79 654.8 333.3)" textLength="36" lengthAdjust="spacingAndGlyphs">Sweet scent</text>
<text x="663.9" y="337.2" font-size="8.4" fill="#111" font-weight="bold" text-anchor="middle" dominant-baseline="central" font-family='"Liberation Sans", "DejaVu Sans", sans-serif' transform="rotate(-81 663.9 337.2)" textLength="66" lengthAdjust="spacingAndGlyphs">Slightly pekoe flavour</text>
<text x="758.7" y="276" font-size="8.4" fill="#111" font-weight="bold" text-anchor="middle" dominant-baseline="central" font-family='"Liberation Sans", "DejaVu Sans", sans-serif' transform="rotate(214 758.7 276)" textLength="16" lengthAdjust="spacingAndGlyphs">Stuffy</text>
<text x="759.3" y="287.5" font-size="8.4" fill="#111" font-weight="bold" text-anchor="middle" dominant-baseline="central" font-family='"Liberation Sans", "DejaVu Sans", sans-serif' transform="rotate(214 759.3 287.5)" textLength="75" lengthAdjust="spacingAndGlyphs">Green miscellaneous smell</text>
<text x="748.2" y="289.6" font-size="8.4" fill="#111" font-weight="bold" text-anchor="middle" dominant-baseline="central" font-family='"Liberation Sans", "DejaVu Sans", sans-serif' transform="rotate(214 748.2 289.6)" textLength="44" lengthAdjust="spacingAndGlyphs">Sweet-smelling</text>
<text x="778.5" y="341.6" font-size="8.4" fill="#111" font-weight="bold" text-anchor="middle" dominant-baseline="central" font-family='"Liberation Sans", "DejaVu Sans", sans-serif' transform="rotate(-90 778.5 341.6)" textLength="36" lengthAdjust="spacingAndGlyphs">Slightly dull</text>
<text x="790" y="345" font-size="8.4" fill="#111" font-weight="bold" text-anchor="middle" dominant-baseline="central" font-family='"Liberation Sans", "DejaVu Sans", sans-serif' transform="rotate(-90 790 345)" textLength="50" lengthAdjust="spacingAndGlyphs">Relatively sweet</text>
<text x="698.3" y="385.3" font-size="8.4" fill="#111" font-weight="bold" text-anchor="middle" dominant-baseline="central" font-family='"Liberation Sans", "DejaVu Sans", sans-serif' transform="rotate(29 698.3 385.3)" textLength="16" lengthAdjust="spacingAndGlyphs">Sweet</text>
<text x="693.3" y="394" font-size="8.4" fill="#111" font-weight="bold" text-anchor="middle" dominant-baseline="central" font-family='"Liberation Sans", "DejaVu Sans", sans-serif' transform="rotate(28 693.3 394)" textLength="34" lengthAdjust="spacingAndGlyphs">Slightly sour</text>
<text x="690.3" y="401" font-size="8.4" fill="#111" font-weight="bold" text-anchor="middle" dominant-baseline="central" font-family='"Liberation Sans", "DejaVu Sans", sans-serif' transform="rotate(28 690.3 401)" textLength="42" lengthAdjust="spacingAndGlyphs">Engender liquid</text>
<text x="747.7" y="385.7" font-size="8.4" fill="#111" font-weight="bold" text-anchor="middle" dominant-baseline="central" font-family='"Liberation Sans", "DejaVu Sans", sans-serif' transform="rotate(-28 747.7 385.7)" textLength="60" lengthAdjust="spacingAndGlyphs">Sweet fruit fragrance</text>
<text x="753.3" y="392" font-size="8.4" fill="#111" font-weight="bold" text-anchor="middle" dominant-baseline="central" font-family='"Liberation Sans", "DejaVu Sans", sans-serif' transform="rotate(-31 753.3 392)" textLength="61" lengthAdjust="spacingAndGlyphs">Slightly pekoe flavour</text>
<text x="762" y="399.7" font-size="8.4" fill="#111" font-weight="bold" text-anchor="middle" dominant-baseline="central" font-family='"Liberation Sans", "DejaVu Sans", sans-serif' transform="rotate(-33 762 399.7)" textLength="49" lengthAdjust="spacingAndGlyphs">Dried plum smell</text>
<g opacity="0.9"><text x="672" y="186" font-size="3.4" font-family='"Liberation Serif", serif' fill="#111" font-weight="bold">H₃C</text>
<polyline points="680.0,181.8 684.1,184.0 688.2,181.8 692.3,184.0 696.5,181.8 700.6,184.0 704.7,181.8 708.8,184.0" fill="none" stroke="#1e1e1e" stroke-width="0.45"/>
<line x1="709" y1="182" x2="712" y2="188" stroke="#1e1e1e" stroke-width="0.45"/>
<text x="708" y="176" font-size="3.4" font-family='"Liberation Serif", serif' fill="#111" font-weight="bold">NH₂</text>
<text x="711" y="193" font-size="3.4" font-family='"Liberation Serif", serif' fill="#111" font-weight="bold">OH</text>
<text x="715" y="181" font-size="3.4" font-family='"Liberation Serif", serif' fill="#111" font-weight="bold">O</text>
<text x="645" y="212" font-size="3.4" font-family='"Liberation Serif", serif' fill="#111" font-weight="bold">O</text>
<polyline points="648.0,208.8 652.6,211.0 657.1,208.8 661.7,211.0 666.3,208.8 670.9,211.0 675.4,208.8 680.0,211.0" fill="none" stroke="#1e1e1e" stroke-width="0.45"/>
<polygon points="684.0,200.1 687.7,202.8 686.3,207.2 681.7,207.2 680.3,202.8" fill="none" stroke="#1e1e1e" stroke-width="0.45"/>
<polygon points="698.0,203.7 701.7,205.9 701.7,210.1 698.0,212.3 694.3,210.1 694.3,205.9" fill="none" stroke="#1e1e1e" stroke-width="0.45"/>
<polygon points="702.3,215.8 703.7,220.2 700.0,222.9 696.3,220.2 697.7,215.8" fill="none" stroke="#1e1e1e" stroke-width="0.45"/>
<text x="685" y="195" font-size="3.4" font-family='"Liberation Serif", serif' fill="#111" font-weight="bold">OH</text>
<text x="670" y="198" font-size="3.4" font-family='"Liberation Serif", serif' fill="#111" font-weight="bold">HO</text>
<text x="664" y="203" font-size="3.4" font-family='"Liberation Serif", serif' fill="#111" font-weight="bold">CH₃</text>
<text x="650" y="222" font-size="3.4" font-family='"Liberation Serif", serif' fill="#111" font-weight="bold">NH₂</text>
<text x="712" y="214" font-size="3.4" font-family='"Liberation Serif", serif' fill="#111" font-weight="bold">NH₂</text>
<text x="690" y="214" font-size="3.4" font-family='"Liberation Serif", serif' fill="#111" font-weight="bold">O</text>
<text x="611" y="239" font-size="3.4" font-family='"Liberation Serif", serif' fill="#111" font-weight="bold">NH₂</text>
<text x="612" y="225" font-size="3.4" font-family='"Liberation Serif", serif' fill="#111" font-weight="bold">O</text>
<text x="621" y="225" font-size="3.4" font-family='"Liberation Serif", serif' fill="#111" font-weight="bold">OH</text>
<polyline points="617.0,233.8 621.3,236.0 625.5,233.8 629.8,236.0 634.1,233.8 638.3,236.0 642.6,233.8" fill="none" stroke="#1e1e1e" stroke-width="0.45"/>
<polygon points="652.0,234.1 655.7,236.8 654.3,241.2 649.7,241.2 648.3,236.8" fill="none" stroke="#1e1e1e" stroke-width="0.45"/>
<polygon points="670.0,227.7 673.7,229.9 673.7,234.1 670.0,236.3 666.3,234.1 666.3,229.9" fill="none" stroke="#1e1e1e" stroke-width="0.45"/>
<polygon points="670.3,238.8 671.7,243.2 668.0,245.9 664.3,243.2 665.7,238.8" fill="none" stroke="#1e1e1e" stroke-width="0.45"/>
<text x="677" y="232" font-size="3.4" font-family='"Liberation Serif", serif' fill="#111" font-weight="bold">NH₂</text>
<text x="633" y="243" font-size="3.4" font-family='"Liberation Serif", serif' fill="#111" font-weight="bold">CH₃</text>
<text x="655" y="247" font-size="3.4" font-family='"Liberation Serif", serif' fill="#111" font-weight="bold">OH</text>
<text x="587" y="254" font-size="3.4" font-family='"Liberation Serif", serif' fill="#111" font-weight="bold">HO</text>
<polyline points="593.0,253.0 597.0,250.8 601.0,253.0 605.0,250.8 609.0,253.0" fill="none" stroke="#1e1e1e" stroke-width="0.45"/>
<text x="589" y="264" font-size="3.4" font-family='"Liberation Serif", serif' fill="#111" font-weight="bold">HO</text>
<polyline points="595.0,260.8 599.8,263.0 604.6,260.8 609.4,263.0 614.2,260.8" fill="none" stroke="#1e1e1e" stroke-width="0.45"/>
<polygon points="617.0,260.1 620.4,262.1 620.4,265.9 617.0,267.9 613.6,265.9 613.6,262.1" fill="none" stroke="#1e1e1e" stroke-width="0.45"/>
<polygon points="630.0,262.1 633.4,264.1 633.4,267.9 630.0,269.9 626.6,267.9 626.6,264.1" fill="none" stroke="#1e1e1e" stroke-width="0.45"/>
<text x="637" y="260" font-size="3.4" font-family='"Liberation Serif", serif' fill="#111" font-weight="bold">OH</text>
<text x="606" y="274" font-size="3.4" font-family='"Liberation Serif", serif' fill="#111" font-weight="bold">HO</text>
<text x="627" y="278" font-size="3.4" font-family='"Liberation Serif", serif' fill="#111" font-weight="bold">OH</text>
<polygon points="584.0,285.9 588.4,288.5 588.4,293.5 584.0,296.1 579.6,293.5 579.6,288.5" fill="none" stroke="#1e1e1e" stroke-width="0.45"/>
<polygon points="601.0,292.3 605.1,294.7 605.1,299.3 601.0,301.7 596.9,299.3 596.9,294.7" fill="none" stroke="#1e1e1e" stroke-width="0.45"/>
<polygon points="616.0,293.3 620.1,295.7 620.1,300.3 616.0,302.7 611.9,300.3 611.9,295.7" fill="none" stroke="#1e1e1e" stroke-width="0.45"/>
<text x="582" y="280" font-size="3.4" font-family='"Liberation Serif", serif' fill="#111" font-weight="bold">OH</text>
<text x="572" y="286" font-size="3.4" font-family='"Liberation Serif", serif' fill="#111" font-weight="bold">HO</text>
<text x="571" y="297" font-size="3.4" font-family='"Liberation Serif", serif' fill="#111" font-weight="bold">HO</text>
<text x="620" y="290" font-size="3.4" font-family='"Liberation Serif", serif' fill="#111" font-weight="bold">OH</text>
<text x="589" y="306" font-size="3.4" font-family='"Liberation Serif", serif' fill="#111" font-weight="bold">OH</text>
<text x="611" y="311" font-size="3.4" font-family='"Liberation Serif", serif' fill="#111" font-weight="bold">OH</text>
<polygon points="572.0,345.7 575.7,347.9 575.7,352.1 572.0,354.3 568.3,352.1 568.3,347.9" fill="none" stroke="#1e1e1e" stroke-width="0.45"/>
<polyline points="578.0,345.8 582.5,348.0 587.0,345.8 591.4,348.0 595.9,345.8 600.4,348.0 604.9,345.8 609.4,348.0 613.8,345.8 618.3,348.0 622.8,345.8" fill="none" stroke="#1e1e1e" stroke-width="0.45"/>
<text x="590" y="341" font-size="3.4" font-family='"Liberation Serif", serif' fill="#111" font-weight="bold">O</text>
<text x="594" y="356" font-size="3.4" font-family='"Liberation Serif", serif' fill="#111" font-weight="bold">N</text>
<text x="625" y="349" font-size="3.4" font-family='"Liberation Serif", serif' fill="#111" font-weight="bold">NH₂</text>
<text x="563" y="362" font-size="3.4" font-family='"Liberation Serif", serif' fill="#111" font-weight="bold">HO</text>
<text x="570" y="370" font-size="3.4" font-family='"Liberation Serif", serif' fill="#111" font-weight="bold">H₃C</text>
<text x="583" y="378" font-size="3.4" font-family='"Liberation Serif", serif' fill="#111" font-weight="bold">NH</text>
<text x="569" y="386" font-size="3.4" font-family='"Liberation Serif", serif' fill="#111" font-weight="bold">HO</text>
<polyline points="578.0,385.8 582.4,388.0 586.9,385.8 591.3,388.0 595.7,385.8 600.2,388.0 604.6,385.8 609.0,388.0 613.4,385.8 617.9,388.0 622.3,385.8 626.7,388.0 631.2,385.8 635.6,388.0" fill="none" stroke="#1e1e1e" stroke-width="0.45"/>
<text x="567" y="397" font-size="3.4" font-family='"Liberation Serif", serif' fill="#111" font-weight="bold">H₃C</text>
<polyline points="575.0,391.8 579.3,394.0 583.5,391.8 587.8,394.0 592.1,391.8 596.3,394.0 600.6,391.8" fill="none" stroke="#1e1e1e" stroke-width="0.45"/>
<text x="622" y="390" font-size="3.4" font-family='"Liberation Serif", serif' fill="#111" font-weight="bold">N</text>
<text x="632" y="386" font-size="3.4" font-family='"Liberation Serif", serif' fill="#111" font-weight="bold">O</text>
<polygon points="778.0,194.7 781.7,196.9 781.7,201.1 778.0,203.3 774.3,201.1 774.3,196.9" fill="none" stroke="#1e1e1e" stroke-width="0.45"/>
<polyline points="778.0,186.0 782.3,183.8 786.5,186.0 790.8,183.8" fill="none" stroke="#1e1e1e" stroke-width="0.45"/>
<text x="791" y="196" font-size="3.4" font-family='"Liberation Serif", serif' fill="#111" font-weight="bold">OH</text>
<text x="789" y="208" font-size="3.4" font-family='"Liberation Serif", serif' fill="#111" font-weight="bold">OH</text>
<text x="766" y="200" font-size="3.4" font-family='"Liberation Serif", serif' fill="#111" font-weight="bold">HO</text>
<text x="767" y="185" font-size="3.4" font-family='"Liberation Serif", serif' fill="#111" font-weight="bold">OH</text>
<text x="775" y="212" font-size="3.4" font-family='"Liberation Serif", serif' fill="#111" font-weight="bold">NH₂</text>
<polygon points="757.0,214.7 761.1,217.7 759.5,222.5 754.5,222.5 752.9,217.7" fill="none" stroke="#1e1e1e" stroke-width="0.45"/>
<text x="750" y="210" font-size="3.4" font-family='"Liberation Serif", serif' fill="#111" font-weight="bold">HO</text>
<text x="766" y="216" font-size="3.4" font-family='"Liberation Serif", serif' fill="#111" font-weight="bold">OH</text>
<text x="752" y="235" font-size="3.4" font-family='"Liberation Serif", serif' fill="#111" font-weight="bold">O</text>
<text x="763" y="241" font-size="3.4" font-family='"Liberation Serif", serif' fill="#111" font-weight="bold">CH₃</text>
<line x1="757" y1="225" x2="757" y2="232" stroke="#1e1e1e" stroke-width="0.45"/>
<polygon points="818.0,254.9 822.4,257.5 822.4,262.5 818.0,265.1 813.6,262.5 813.6,257.5" fill="none" stroke="#1e1e1e" stroke-width="0.45"/>
<polygon points="834.0,244.9 838.4,247.5 838.4,252.5 834.0,255.1 829.6,252.5 829.6,247.5" fill="none" stroke="#1e1e1e" stroke-width="0.45"/>
<polygon points="849.0,242.9 853.4,245.5 853.4,250.5 849.0,253.1 844.6,250.5 844.6,245.5" fill="none" stroke="#1e1e1e" stroke-width="0.45"/>
<text x="831" y="238" font-size="3.4" font-family='"Liberation Serif", serif' fill="#111" font-weight="bold">O</text>
<text x="846" y="236" font-size="3.4" font-family='"Liberation Serif", serif' fill="#111" font-weight="bold">OH</text>
<text x="803" y="254" font-size="3.4" font-family='"Liberation Serif", serif' fill="#111" font-weight="bold">HO</text>
<text x="803" y="266" font-size="3.4" font-family='"Liberation Serif", serif' fill="#111" font-weight="bold">OH</text>
<text x="858" y="255" font-size="3.4" font-family='"Liberation Serif", serif' fill="#111" font-weight="bold">OH</text>
<polygon points="820.0,286.1 823.4,288.1 823.4,291.9 820.0,293.9 816.6,291.9 816.6,288.1" fill="none" stroke="#1e1e1e" stroke-width="0.45"/>
<polyline points="826.0,285.8 830.6,288.0 835.1,285.8 839.7,288.0 844.3,285.8 848.9,288.0 853.4,285.8 858.0,288.0" fill="none" stroke="#1e1e1e" stroke-width="0.45"/>
<polygon points="852.0,280.1 855.4,282.1 855.4,285.9 852.0,287.9 848.6,285.9 848.6,282.1" fill="none" stroke="#1e1e1e" stroke-width="0.45"/>
<polygon points="868.0,282.1 871.4,284.1 871.4,287.9 868.0,289.9 864.6,287.9 864.6,284.1" fill="none" stroke="#1e1e1e" stroke-width="0.45"/>
<text x="850" y="275" font-size="3.4" font-family='"Liberation Serif", serif' fill="#111" font-weight="bold">OH</text>
<text x="862" y="276" font-size="3.4" font-family='"Liberation Serif", serif' fill="#111" font-weight="bold">OH</text>
<text x="876" y="290" font-size="3.4" font-family='"Liberation Serif", serif' fill="#111" font-weight="bold">OH</text>
<text x="810" y="293" font-size="3.4" font-family='"Liberation Serif", serif' fill="#111" font-weight="bold">HO</text>
<text x="840" y="294" font-size="3.4" font-family='"Liberation Serif", serif' fill="#111" font-weight="bold">O</text>
<polygon points="822.0,326.1 825.4,328.1 825.4,331.9 822.0,333.9 818.6,331.9 818.6,328.1" fill="none" stroke="#1e1e1e" stroke-width="0.45"/>
<polygon points="838.0,323.1 841.4,325.1 841.4,328.9 838.0,330.9 834.6,328.9 834.6,325.1" fill="none" stroke="#1e1e1e" stroke-width="0.45"/>
<polyline points="844.0,323.8 848.8,326.0 853.6,323.8 858.4,326.0 863.2,323.8" fill="none" stroke="#1e1e1e" stroke-width="0.45"/>
<polygon points="866.0,322.7 869.7,324.9 869.7,329.1 866.0,331.3 862.3,329.1 862.3,324.9" fill="none" stroke="#1e1e1e" stroke-width="0.45"/>
<text x="810" y="333" font-size="3.4" font-family='"Liberation Serif", serif' fill="#111" font-weight="bold">HO</text>
<text x="860" y="318" font-size="3.4" font-family='"Liberation Serif", serif' fill="#111" font-weight="bold">OH</text>
<text x="872" y="336" font-size="3.4" font-family='"Liberation Serif", serif' fill="#111" font-weight="bold">OH</text>
<text x="845" y="340" font-size="3.4" font-family='"Liberation Serif", serif' fill="#111" font-weight="bold">OH</text>
<text x="825" y="373" font-size="3.4" font-family='"Liberation Serif", serif' fill="#111" font-weight="bold">NH₂</text>
<polyline points="834.0,372.0 838.0,369.8 842.0,372.0 846.0,369.8 850.0,372.0" fill="none" stroke="#1e1e1e" stroke-width="0.45"/>
<polygon points="850.0,377.7 853.7,379.9 853.7,384.1 850.0,386.3 846.3,384.1 846.3,379.9" fill="none" stroke="#1e1e1e" stroke-width="0.45"/>
<text x="846" y="364" font-size="3.4" font-family='"Liberation Serif", serif' fill="#111" font-weight="bold">O</text>
<text x="853" y="369" font-size="3.4" font-family='"Liberation Serif", serif' fill="#111" font-weight="bold">OH</text>
<text x="618" y="418" font-size="3.4" font-family='"Liberation Serif", serif' fill="#111" font-weight="bold">HO</text>
<polyline points="622.0,419.8 626.8,422.0 631.6,419.8 636.4,422.0 641.2,419.8" fill="none" stroke="#1e1e1e" stroke-width="0.45"/>
<text x="634" y="429" font-size="3.4" font-family='"Liberation Serif", serif' fill="#111" font-weight="bold">O</text>
<text x="643" y="417" font-size="3.4" font-family='"Liberation Serif", serif' fill="#111" font-weight="bold">OH</text>
<line x1="644" y1="419" x2="644" y2="426" stroke="#1e1e1e" stroke-width="0.45"/>
<text x="637" y="432" font-size="3.4" font-family='"Liberation Serif", serif' fill="#111" font-weight="bold">OH</text>
<text x="612" y="437" font-size="3.4" font-family='"Liberation Serif", serif' fill="#111" font-weight="bold">NH₂</text>
<text x="601" y="445" font-size="3.4" font-family='"Liberation Serif", serif' fill="#111" font-weight="bold">O</text>
<polyline points="604.0,443.8 608.6,446.0 613.1,443.8 617.7,446.0 622.3,443.8 626.9,446.0 631.4,443.8 636.0,446.0" fill="none" stroke="#1e1e1e" stroke-width="0.45"/>
<text x="634" y="446" font-size="3.4" font-family='"Liberation Serif", serif' fill="#111" font-weight="bold">NH₂</text>
<text x="606" y="458" font-size="3.4" font-family='"Liberation Serif", serif' fill="#111" font-weight="bold">OH</text>
<text x="650" y="446" font-size="3.4" font-family='"Liberation Serif", serif' fill="#111" font-weight="bold">H₃C</text>
<polyline points="659.0,442.8 663.5,445.0 668.0,442.8 672.4,445.0 676.9,442.8 681.4,445.0 685.9,442.8 690.4,445.0 694.8,442.8 699.3,445.0 703.8,442.8" fill="none" stroke="#1e1e1e" stroke-width="0.45"/>
<text x="670" y="434" font-size="3.4" font-family='"Liberation Serif", serif' fill="#111" font-weight="bold">NH₂</text>
<text x="680" y="440" font-size="3.4" font-family='"Liberation Serif", serif' fill="#111" font-weight="bold">N</text>
<polygon points="695.0,443.1 698.4,445.1 698.4,448.9 695.0,450.9 691.6,448.9 691.6,445.1" fill="none" stroke="#1e1e1e" stroke-width="0.45"/>
<text x="703" y="440" font-size="3.4" font-family='"Liberation Serif", serif' fill="#111" font-weight="bold">CH₃</text>
<text x="681" y="458" font-size="3.4" font-family='"Liberation Serif", serif' fill="#111" font-weight="bold">HO</text>
<text x="691" y="458" font-size="3.4" font-family='"Liberation Serif", serif' fill="#111" font-weight="bold">O</text>
<text x="703" y="454" font-size="3.4" font-family='"Liberation Serif", serif' fill="#111" font-weight="bold">H₃C</text>
<text x="640" y="469" font-size="3.4" font-family='"Liberation Serif", serif' fill="#111" font-weight="bold">HO</text>
<polyline points="644.0,469.8 648.1,472.0 652.2,469.8 656.3,472.0 660.5,469.8 664.6,472.0 668.7,469.8 672.8,472.0" fill="none" stroke="#1e1e1e" stroke-width="0.45"/>
<text x="648" y="483" font-size="3.4" font-family='"Liberation Serif", serif' fill="#111" font-weight="bold">NH₂</text>
<text x="660" y="483" font-size="3.4" font-family='"Liberation Serif", serif' fill="#111" font-weight="bold">NH₂</text>
<text x="666" y="471" font-size="3.4" font-family='"Liberation Serif", serif' fill="#111" font-weight="bold">O</text>
<polygon points="695.0,487.1 698.7,489.8 697.3,494.2 692.7,494.2 691.3,489.8" fill="none" stroke="#1e1e1e" stroke-width="0.45"/>
<line x1="697" y1="476" x2="697" y2="484" stroke="#1e1e1e" stroke-width="0.45"/>
<text x="699" y="478" font-size="3.4" font-family='"Liberation Serif", serif' fill="#111" font-weight="bold">OH</text>
<text x="692" y="472" font-size="3.4" font-family='"Liberation Serif", serif' fill="#111" font-weight="bold">O</text>
<text x="701" y="493" font-size="3.4" font-family='"Liberation Serif", serif' fill="#111" font-weight="bold">NH</text>
<text x="726" y="437" font-size="3.4" font-family='"Liberation Serif", serif' fill="#111" font-weight="bold">H₃C</text>
<polyline points="733.0,437.8 737.8,440.0 742.6,437.8 747.4,440.0 752.2,437.8" fill="none" stroke="#1e1e1e" stroke-width="0.45"/>
<polygon points="748.0,445.3 752.1,447.7 752.1,452.3 748.0,454.7 743.9,452.3 743.9,447.7" fill="none" stroke="#1e1e1e" stroke-width="0.45"/>
<polygon points="760.0,440.7 763.7,442.9 763.7,447.1 760.0,449.3 756.3,447.1 756.3,442.9" fill="none" stroke="#1e1e1e" stroke-width="0.45"/>
<polygon points="772.0,448.3 776.1,450.7 776.1,455.3 772.0,457.7 767.9,455.3 767.9,450.7" fill="none" stroke="#1e1e1e" stroke-width="0.45"/>
<polygon points="784.0,441.7 787.7,443.9 787.7,448.1 784.0,450.3 780.3,448.1 780.3,443.9" fill="none" stroke="#1e1e1e" stroke-width="0.45"/>
<polygon points="762.0,457.3 766.1,459.7 766.1,464.3 762.0,466.7 757.9,464.3 757.9,459.7" fill="none" stroke="#1e1e1e" stroke-width="0.45"/>
<polygon points="776.0,463.7 779.7,465.9 779.7,470.1 776.0,472.3 772.3,470.1 772.3,465.9" fill="none" stroke="#1e1e1e" stroke-width="0.45"/>
<polygon points="795.0,454.1 798.7,456.8 797.3,461.2 792.7,461.2 791.3,456.8" fill="none" stroke="#1e1e1e" stroke-width="0.45"/>
<text x="745" y="432" font-size="3.4" font-family='"Liberation Serif", serif' fill="#111" font-weight="bold">O</text>
<text x="762" y="434" font-size="3.4" font-family='"Liberation Serif", serif' fill="#111" font-weight="bold">CH₃</text>
<text x="725" y="456" font-size="3.4" font-family='"Liberation Serif", serif' fill="#111" font-weight="bold">H₃C</text>
<text x="745" y="470" font-size="3.4" font-family='"Liberation Serif", serif' fill="#111" font-weight="bold">O</text>
<text x="755" y="478" font-size="3.4" font-family='"Liberation Serif", serif' fill="#111" font-weight="bold">CH₃</text>
<text x="790" y="472" font-size="3.4" font-family='"Liberation Serif", serif' fill="#111" font-weight="bold">O</text>
<text x="797" y="480" font-size="3.4" font-family='"Liberation Serif", serif' fill="#111" font-weight="bold">CH₃</text>
<text x="738" y="485" font-size="3.4" font-family='"Liberation Serif", serif' fill="#111" font-weight="bold">H₃C</text>
<polygon points="752.0,486.1 755.7,488.8 754.3,493.2 749.7,493.2 748.3,488.8" fill="none" stroke="#1e1e1e" stroke-width="0.45"/>
<text x="757" y="500" font-size="3.4" font-family='"Liberation Serif", serif' fill="#111" font-weight="bold">H₃C</text>
<text x="808" y="430" font-size="3.4" font-family='"Liberation Serif", serif' fill="#111" font-weight="bold">Me</text>
<polygon points="818.0,420.7 821.7,422.9 821.7,427.1 818.0,429.3 814.3,427.1 814.3,422.9" fill="none" stroke="#1e1e1e" stroke-width="0.45"/>
<line x1="823" y1="420" x2="830" y2="414" stroke="#1e1e1e" stroke-width="0.45"/>
<text x="828" y="410" font-size="3.4" font-family='"Liberation Serif", serif' fill="#111" font-weight="bold">O</text>
<line x1="830" y1="414" x2="836" y2="416" stroke="#1e1e1e" stroke-width="0.45"/>
<text x="836" y="421" font-size="3.4" font-family='"Liberation Serif", serif' fill="#111" font-weight="bold">S</text>
<polyline points="838.0,422.8 842.8,425.0 847.6,422.8" fill="none" stroke="#1e1e1e" stroke-width="0.45"/>
<text x="846" y="423" font-size="3.4" font-family='"Liberation Serif", serif' fill="#111" font-weight="bold">OH</text>
<text x="820" y="438" font-size="3.4" font-family='"Liberation Serif", serif' fill="#111" font-weight="bold">CH₃</text></g>
</svg>
</div>
</body></html>
